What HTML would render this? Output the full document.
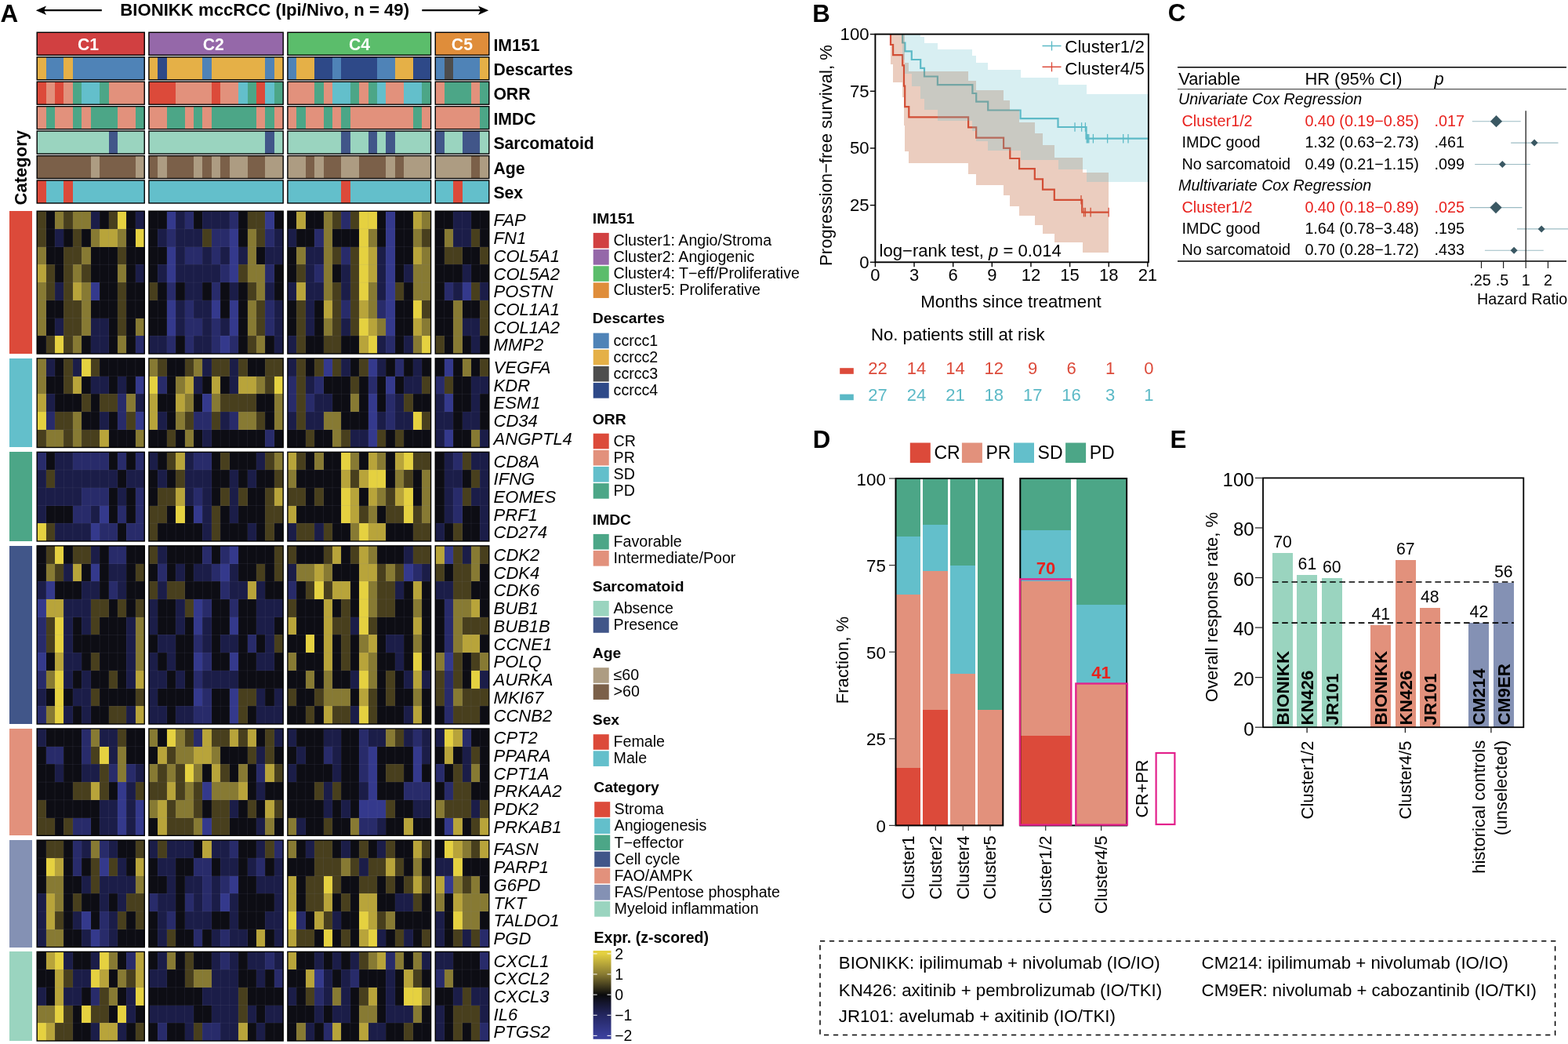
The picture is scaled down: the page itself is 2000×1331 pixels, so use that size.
<!DOCTYPE html>
<html lang="en"><head><meta charset="utf-8"><title>BIONIKK mccRCC figure</title>
<style>
html,body{margin:0;padding:0;background:#fff;}
body{width:2000px;height:1331px;overflow:hidden;}
svg{display:block;font-family:"Liberation Sans", Arial, Helvetica, sans-serif;}
svg text{font-kerning:normal;}
</style></head><body>
<svg width="2000" height="1331" viewBox="0 0 2000 1331">
<rect x="0" y="0" width="2000" height="1331" fill="#ffffff"/>
<g id="panelA">
<text x="0.6" y="27.9" font-size="31.4" font-weight="700">A</text>
<text x="153.3" y="20.4" font-size="22.17" font-weight="700">BIONIKK mccRCC (Ipi/Nivo, n = 49)</text>
<line x1="129.8" y1="13.2" x2="51.8" y2="13.2" stroke="#000" stroke-width="2.3"/>
<path d="M45.8 13.2 L59 7.5 L56 13.2 L59 18.9 Z" fill="#000"/>
<line x1="538.3" y1="13.2" x2="617.2" y2="13.2" stroke="#000" stroke-width="2.3"/>
<path d="M623.2 13.2 L610 7.5 L613 13.2 L610 18.9 Z" fill="#000"/>
<g shape-rendering="crispEdges">
<rect x="47.2" y="41.3" width="137.32" height="29" fill="#D14041"/>
<rect x="189.92" y="41.3" width="171.57" height="29" fill="#9568A9"/>
<rect x="366.89" y="41.3" width="182.99" height="29" fill="#5BBD6B"/>
<rect x="555.27" y="41.3" width="68.81" height="29" fill="#DF8D3A"/>
<rect x="47.2" y="72.75" width="11.72" height="29" fill="#E5B047"/>
<rect x="58.62" y="72.75" width="23.14" height="29" fill="#4F83B7"/>
<rect x="81.45" y="72.75" width="11.72" height="29" fill="#E5B047"/>
<rect x="92.87" y="72.75" width="91.64" height="29" fill="#4F83B7"/>
<rect x="189.92" y="72.75" width="11.72" height="29" fill="#E5B047"/>
<rect x="201.33" y="72.75" width="11.72" height="29" fill="#2E4988"/>
<rect x="212.75" y="72.75" width="45.97" height="29" fill="#E5B047"/>
<rect x="258.42" y="72.75" width="11.72" height="29" fill="#4F83B7"/>
<rect x="269.84" y="72.75" width="68.81" height="29" fill="#E5B047"/>
<rect x="338.35" y="72.75" width="11.72" height="29" fill="#4F83B7"/>
<rect x="349.77" y="72.75" width="11.72" height="29" fill="#E5B047"/>
<rect x="366.89" y="72.75" width="11.72" height="29" fill="#4F83B7"/>
<rect x="378.3" y="72.75" width="23.14" height="29" fill="#E5B047"/>
<rect x="401.14" y="72.75" width="23.14" height="29" fill="#2E4988"/>
<rect x="423.98" y="72.75" width="11.72" height="29" fill="#4F83B7"/>
<rect x="435.39" y="72.75" width="45.97" height="29" fill="#2E4988"/>
<rect x="481.07" y="72.75" width="23.14" height="29" fill="#4F83B7"/>
<rect x="503.9" y="72.75" width="23.14" height="29" fill="#E5B047"/>
<rect x="526.74" y="72.75" width="23.14" height="29" fill="#2E4988"/>
<rect x="555.27" y="72.75" width="11.72" height="29" fill="#4F83B7"/>
<rect x="566.69" y="72.75" width="11.72" height="29" fill="#4D4D4D"/>
<rect x="578.11" y="72.75" width="34.55" height="29" fill="#4F83B7"/>
<rect x="612.36" y="72.75" width="11.72" height="29" fill="#E5B047"/>
<rect x="47.2" y="104.2" width="11.72" height="29" fill="#DC4A3A"/>
<rect x="58.62" y="104.2" width="11.72" height="29" fill="#E2917C"/>
<rect x="70.04" y="104.2" width="11.72" height="29" fill="#DC4A3A"/>
<rect x="81.45" y="104.2" width="11.72" height="29" fill="#E2917C"/>
<rect x="92.87" y="104.2" width="11.72" height="29" fill="#4CA687"/>
<rect x="104.29" y="104.2" width="23.14" height="29" fill="#63BFCB"/>
<rect x="127.13" y="104.2" width="11.72" height="29" fill="#4CA687"/>
<rect x="138.54" y="104.2" width="45.97" height="29" fill="#E2917C"/>
<rect x="189.92" y="104.2" width="34.55" height="29" fill="#DC4A3A"/>
<rect x="224.17" y="104.2" width="45.97" height="29" fill="#E2917C"/>
<rect x="269.84" y="104.2" width="11.72" height="29" fill="#DC4A3A"/>
<rect x="281.26" y="104.2" width="23.14" height="29" fill="#E2917C"/>
<rect x="304.1" y="104.2" width="11.72" height="29" fill="#63BFCB"/>
<rect x="315.51" y="104.2" width="11.72" height="29" fill="#4CA687"/>
<rect x="326.93" y="104.2" width="11.72" height="29" fill="#DC4A3A"/>
<rect x="338.35" y="104.2" width="11.72" height="29" fill="#63BFCB"/>
<rect x="349.77" y="104.2" width="11.72" height="29" fill="#4CA687"/>
<rect x="366.89" y="104.2" width="34.55" height="29" fill="#E2917C"/>
<rect x="401.14" y="104.2" width="11.72" height="29" fill="#4CA687"/>
<rect x="412.56" y="104.2" width="11.72" height="29" fill="#E2917C"/>
<rect x="423.98" y="104.2" width="23.14" height="29" fill="#63BFCB"/>
<rect x="446.81" y="104.2" width="11.72" height="29" fill="#4CA687"/>
<rect x="458.23" y="104.2" width="11.72" height="29" fill="#E2917C"/>
<rect x="469.65" y="104.2" width="11.72" height="29" fill="#4CA687"/>
<rect x="481.07" y="104.2" width="11.72" height="29" fill="#63BFCB"/>
<rect x="492.48" y="104.2" width="23.14" height="29" fill="#E2917C"/>
<rect x="515.32" y="104.2" width="23.14" height="29" fill="#63BFCB"/>
<rect x="538.16" y="104.2" width="11.72" height="29" fill="#4CA687"/>
<rect x="555.27" y="104.2" width="11.72" height="29" fill="#E2917C"/>
<rect x="566.69" y="104.2" width="34.55" height="29" fill="#4CA687"/>
<rect x="600.95" y="104.2" width="11.72" height="29" fill="#E2917C"/>
<rect x="612.36" y="104.2" width="11.72" height="29" fill="#4CA687"/>
<rect x="47.2" y="135.65" width="11.72" height="29" fill="#E2917C"/>
<rect x="58.62" y="135.65" width="11.72" height="29" fill="#4CA687"/>
<rect x="70.04" y="135.65" width="23.14" height="29" fill="#E2917C"/>
<rect x="92.87" y="135.65" width="11.72" height="29" fill="#4CA687"/>
<rect x="104.29" y="135.65" width="11.72" height="29" fill="#E2917C"/>
<rect x="115.71" y="135.65" width="34.55" height="29" fill="#4CA687"/>
<rect x="149.96" y="135.65" width="23.14" height="29" fill="#E2917C"/>
<rect x="172.8" y="135.65" width="11.72" height="29" fill="#4CA687"/>
<rect x="189.92" y="135.65" width="23.14" height="29" fill="#E2917C"/>
<rect x="212.75" y="135.65" width="23.14" height="29" fill="#4CA687"/>
<rect x="235.59" y="135.65" width="11.72" height="29" fill="#E2917C"/>
<rect x="247.01" y="135.65" width="11.72" height="29" fill="#4CA687"/>
<rect x="258.42" y="135.65" width="11.72" height="29" fill="#E2917C"/>
<rect x="269.84" y="135.65" width="57.39" height="29" fill="#4CA687"/>
<rect x="326.93" y="135.65" width="11.72" height="29" fill="#E2917C"/>
<rect x="338.35" y="135.65" width="11.72" height="29" fill="#4CA687"/>
<rect x="349.77" y="135.65" width="11.72" height="29" fill="#E2917C"/>
<rect x="366.89" y="135.65" width="11.72" height="29" fill="#E2917C"/>
<rect x="378.3" y="135.65" width="11.72" height="29" fill="#4CA687"/>
<rect x="389.72" y="135.65" width="23.14" height="29" fill="#E2917C"/>
<rect x="412.56" y="135.65" width="11.72" height="29" fill="#4CA687"/>
<rect x="423.98" y="135.65" width="11.72" height="29" fill="#E2917C"/>
<rect x="435.39" y="135.65" width="11.72" height="29" fill="#4CA687"/>
<rect x="446.81" y="135.65" width="80.23" height="29" fill="#E2917C"/>
<rect x="526.74" y="135.65" width="11.72" height="29" fill="#4CA687"/>
<rect x="538.16" y="135.65" width="11.72" height="29" fill="#E2917C"/>
<rect x="555.27" y="135.65" width="57.39" height="29" fill="#E2917C"/>
<rect x="612.36" y="135.65" width="11.72" height="29" fill="#4CA687"/>
<rect x="47.2" y="167.1" width="91.64" height="29" fill="#9AD4BF"/>
<rect x="138.54" y="167.1" width="11.72" height="29" fill="#415689"/>
<rect x="149.96" y="167.1" width="34.55" height="29" fill="#9AD4BF"/>
<rect x="189.92" y="167.1" width="148.73" height="29" fill="#9AD4BF"/>
<rect x="338.35" y="167.1" width="11.72" height="29" fill="#415689"/>
<rect x="349.77" y="167.1" width="11.72" height="29" fill="#9AD4BF"/>
<rect x="366.89" y="167.1" width="68.81" height="29" fill="#9AD4BF"/>
<rect x="435.39" y="167.1" width="11.72" height="29" fill="#415689"/>
<rect x="446.81" y="167.1" width="23.14" height="29" fill="#9AD4BF"/>
<rect x="469.65" y="167.1" width="11.72" height="29" fill="#415689"/>
<rect x="481.07" y="167.1" width="11.72" height="29" fill="#9AD4BF"/>
<rect x="492.48" y="167.1" width="11.72" height="29" fill="#415689"/>
<rect x="503.9" y="167.1" width="45.97" height="29" fill="#9AD4BF"/>
<rect x="555.27" y="167.1" width="11.72" height="29" fill="#415689"/>
<rect x="566.69" y="167.1" width="23.14" height="29" fill="#9AD4BF"/>
<rect x="589.53" y="167.1" width="23.14" height="29" fill="#415689"/>
<rect x="612.36" y="167.1" width="11.72" height="29" fill="#9AD4BF"/>
<rect x="47.2" y="198.55" width="68.81" height="29" fill="#7B6049"/>
<rect x="115.71" y="198.55" width="11.72" height="29" fill="#AD9C82"/>
<rect x="127.13" y="198.55" width="45.97" height="29" fill="#7B6049"/>
<rect x="172.8" y="198.55" width="11.72" height="29" fill="#AD9C82"/>
<rect x="189.92" y="198.55" width="11.72" height="29" fill="#7B6049"/>
<rect x="201.33" y="198.55" width="11.72" height="29" fill="#AD9C82"/>
<rect x="212.75" y="198.55" width="34.55" height="29" fill="#7B6049"/>
<rect x="247.01" y="198.55" width="11.72" height="29" fill="#AD9C82"/>
<rect x="258.42" y="198.55" width="11.72" height="29" fill="#7B6049"/>
<rect x="269.84" y="198.55" width="11.72" height="29" fill="#AD9C82"/>
<rect x="281.26" y="198.55" width="11.72" height="29" fill="#7B6049"/>
<rect x="292.68" y="198.55" width="23.14" height="29" fill="#AD9C82"/>
<rect x="315.51" y="198.55" width="23.14" height="29" fill="#7B6049"/>
<rect x="338.35" y="198.55" width="23.14" height="29" fill="#AD9C82"/>
<rect x="366.89" y="198.55" width="23.14" height="29" fill="#AD9C82"/>
<rect x="389.72" y="198.55" width="11.72" height="29" fill="#7B6049"/>
<rect x="401.14" y="198.55" width="11.72" height="29" fill="#AD9C82"/>
<rect x="412.56" y="198.55" width="23.14" height="29" fill="#7B6049"/>
<rect x="435.39" y="198.55" width="23.14" height="29" fill="#AD9C82"/>
<rect x="458.23" y="198.55" width="34.55" height="29" fill="#7B6049"/>
<rect x="492.48" y="198.55" width="11.72" height="29" fill="#AD9C82"/>
<rect x="503.9" y="198.55" width="11.72" height="29" fill="#7B6049"/>
<rect x="515.32" y="198.55" width="34.55" height="29" fill="#AD9C82"/>
<rect x="555.27" y="198.55" width="45.97" height="29" fill="#AD9C82"/>
<rect x="600.95" y="198.55" width="11.72" height="29" fill="#7B6049"/>
<rect x="612.36" y="198.55" width="11.72" height="29" fill="#AD9C82"/>
<rect x="47.2" y="230" width="11.72" height="29" fill="#DC4A3A"/>
<rect x="58.62" y="230" width="23.14" height="29" fill="#63BFCB"/>
<rect x="81.45" y="230" width="11.72" height="29" fill="#DC4A3A"/>
<rect x="92.87" y="230" width="91.64" height="29" fill="#63BFCB"/>
<rect x="189.92" y="230" width="171.57" height="29" fill="#63BFCB"/>
<rect x="366.89" y="230" width="68.81" height="29" fill="#63BFCB"/>
<rect x="435.39" y="230" width="11.72" height="29" fill="#DC4A3A"/>
<rect x="446.81" y="230" width="103.06" height="29" fill="#63BFCB"/>
<rect x="555.27" y="230" width="23.14" height="29" fill="#63BFCB"/>
<rect x="578.11" y="230" width="11.72" height="29" fill="#DC4A3A"/>
<rect x="589.53" y="230" width="34.55" height="29" fill="#63BFCB"/>
</g>
<rect x="47.2" y="41.3" width="137.02" height="29" fill="none" stroke="#000" stroke-width="1.4"/>
<rect x="189.92" y="41.3" width="171.27" height="29" fill="none" stroke="#000" stroke-width="1.4"/>
<rect x="366.89" y="41.3" width="182.69" height="29" fill="none" stroke="#000" stroke-width="1.4"/>
<rect x="555.27" y="41.3" width="68.51" height="29" fill="none" stroke="#000" stroke-width="1.4"/>
<text x="629.4" y="64.5" font-size="21.2" font-weight="700">IM151</text>
<rect x="47.2" y="72.75" width="137.02" height="29" fill="none" stroke="#000" stroke-width="1.4"/>
<rect x="189.92" y="72.75" width="171.27" height="29" fill="none" stroke="#000" stroke-width="1.4"/>
<rect x="366.89" y="72.75" width="182.69" height="29" fill="none" stroke="#000" stroke-width="1.4"/>
<rect x="555.27" y="72.75" width="68.51" height="29" fill="none" stroke="#000" stroke-width="1.4"/>
<text x="629.4" y="95.95" font-size="21.2" font-weight="700">Descartes</text>
<rect x="47.2" y="104.2" width="137.02" height="29" fill="none" stroke="#000" stroke-width="1.4"/>
<rect x="189.92" y="104.2" width="171.27" height="29" fill="none" stroke="#000" stroke-width="1.4"/>
<rect x="366.89" y="104.2" width="182.69" height="29" fill="none" stroke="#000" stroke-width="1.4"/>
<rect x="555.27" y="104.2" width="68.51" height="29" fill="none" stroke="#000" stroke-width="1.4"/>
<text x="629.4" y="127.4" font-size="21.2" font-weight="700">ORR</text>
<rect x="47.2" y="135.65" width="137.02" height="29" fill="none" stroke="#000" stroke-width="1.4"/>
<rect x="189.92" y="135.65" width="171.27" height="29" fill="none" stroke="#000" stroke-width="1.4"/>
<rect x="366.89" y="135.65" width="182.69" height="29" fill="none" stroke="#000" stroke-width="1.4"/>
<rect x="555.27" y="135.65" width="68.51" height="29" fill="none" stroke="#000" stroke-width="1.4"/>
<text x="629.4" y="158.85" font-size="21.2" font-weight="700">IMDC</text>
<rect x="47.2" y="167.1" width="137.02" height="29" fill="none" stroke="#000" stroke-width="1.4"/>
<rect x="189.92" y="167.1" width="171.27" height="29" fill="none" stroke="#000" stroke-width="1.4"/>
<rect x="366.89" y="167.1" width="182.69" height="29" fill="none" stroke="#000" stroke-width="1.4"/>
<rect x="555.27" y="167.1" width="68.51" height="29" fill="none" stroke="#000" stroke-width="1.4"/>
<text x="629.4" y="190.3" font-size="21.2" font-weight="700">Sarcomatoid</text>
<rect x="47.2" y="198.55" width="137.02" height="29" fill="none" stroke="#000" stroke-width="1.4"/>
<rect x="189.92" y="198.55" width="171.27" height="29" fill="none" stroke="#000" stroke-width="1.4"/>
<rect x="366.89" y="198.55" width="182.69" height="29" fill="none" stroke="#000" stroke-width="1.4"/>
<rect x="555.27" y="198.55" width="68.51" height="29" fill="none" stroke="#000" stroke-width="1.4"/>
<text x="629.4" y="221.75" font-size="21.2" font-weight="700">Age</text>
<rect x="47.2" y="230" width="137.02" height="29" fill="none" stroke="#000" stroke-width="1.4"/>
<rect x="189.92" y="230" width="171.27" height="29" fill="none" stroke="#000" stroke-width="1.4"/>
<rect x="366.89" y="230" width="182.69" height="29" fill="none" stroke="#000" stroke-width="1.4"/>
<rect x="555.27" y="230" width="68.51" height="29" fill="none" stroke="#000" stroke-width="1.4"/>
<text x="629.4" y="253.2" font-size="21.2" font-weight="700">Sex</text>
<text x="112.5" y="63.8" font-size="21.2" font-weight="700" text-anchor="middle" fill="#fff">C1</text>
<text x="272.2" y="63.8" font-size="21.2" font-weight="700" text-anchor="middle" fill="#fff">C2</text>
<text x="458.5" y="63.8" font-size="21.2" font-weight="700" text-anchor="middle" fill="#fff">C4</text>
<text x="589.4" y="63.8" font-size="21.2" font-weight="700" text-anchor="middle" fill="#fff">C5</text>
<text x="34.3" y="261.4" font-size="22" font-weight="700" transform="rotate(-90 34.3 261.4)">Category</text>
<g shape-rendering="crispEdges">
<rect x="12.1" y="269.2" width="29.2" height="181.76" fill="#DC4A3A"/>
<rect x="47.2" y="269.2" width="11.72" height="23.02" fill="#483F1D"/>
<rect x="58.62" y="269.2" width="11.72" height="23.02" fill="#0D0D14"/>
<rect x="70.04" y="269.2" width="11.72" height="23.02" fill="#877A33"/>
<rect x="81.45" y="269.2" width="11.72" height="23.02" fill="#483F1D"/>
<rect x="92.87" y="269.2" width="23.14" height="23.02" fill="#877A33"/>
<rect x="115.71" y="269.2" width="11.72" height="23.02" fill="#1B1D48"/>
<rect x="127.13" y="269.2" width="11.72" height="23.02" fill="#0D0D14"/>
<rect x="138.54" y="269.2" width="11.72" height="23.02" fill="#483F1D"/>
<rect x="149.96" y="269.2" width="11.72" height="23.02" fill="#E5D140"/>
<rect x="161.38" y="269.2" width="11.72" height="23.02" fill="#0D0D14"/>
<rect x="172.8" y="269.2" width="11.72" height="23.02" fill="#1B1D48"/>
<rect x="189.92" y="269.2" width="23.14" height="23.02" fill="#0D0D14"/>
<rect x="212.75" y="269.2" width="11.72" height="23.02" fill="#34398C"/>
<rect x="224.17" y="269.2" width="11.72" height="23.02" fill="#1B1D48"/>
<rect x="235.59" y="269.2" width="11.72" height="23.02" fill="#282B6A"/>
<rect x="247.01" y="269.2" width="11.72" height="23.02" fill="#0D0D14"/>
<rect x="258.42" y="269.2" width="34.55" height="23.02" fill="#1B1D48"/>
<rect x="292.68" y="269.2" width="11.72" height="23.02" fill="#282B6A"/>
<rect x="304.1" y="269.2" width="11.72" height="23.02" fill="#0D0D14"/>
<rect x="315.51" y="269.2" width="23.14" height="23.02" fill="#483F1D"/>
<rect x="338.35" y="269.2" width="11.72" height="23.02" fill="#34398C"/>
<rect x="349.77" y="269.2" width="11.72" height="23.02" fill="#0D0D14"/>
<rect x="366.89" y="269.2" width="11.72" height="23.02" fill="#0D0D14"/>
<rect x="378.3" y="269.2" width="11.72" height="23.02" fill="#B8A43A"/>
<rect x="389.72" y="269.2" width="23.14" height="23.02" fill="#0D0D14"/>
<rect x="412.56" y="269.2" width="11.72" height="23.02" fill="#877A33"/>
<rect x="423.98" y="269.2" width="11.72" height="23.02" fill="#483F1D"/>
<rect x="435.39" y="269.2" width="11.72" height="23.02" fill="#282B6A"/>
<rect x="446.81" y="269.2" width="11.72" height="23.02" fill="#483F1D"/>
<rect x="458.23" y="269.2" width="23.14" height="23.02" fill="#E5D140"/>
<rect x="481.07" y="269.2" width="11.72" height="23.02" fill="#0D0D14"/>
<rect x="492.48" y="269.2" width="11.72" height="23.02" fill="#34398C"/>
<rect x="503.9" y="269.2" width="23.14" height="23.02" fill="#0D0D14"/>
<rect x="526.74" y="269.2" width="11.72" height="23.02" fill="#B8A43A"/>
<rect x="538.16" y="269.2" width="11.72" height="23.02" fill="#877A33"/>
<rect x="555.27" y="269.2" width="23.14" height="23.02" fill="#0D0D14"/>
<rect x="578.11" y="269.2" width="23.14" height="23.02" fill="#1B1D48"/>
<rect x="600.95" y="269.2" width="23.14" height="23.02" fill="#0D0D14"/>
<rect x="47.2" y="291.92" width="11.72" height="23.02" fill="#483F1D"/>
<rect x="58.62" y="291.92" width="11.72" height="23.02" fill="#0D0D14"/>
<rect x="70.04" y="291.92" width="11.72" height="23.02" fill="#1B1D48"/>
<rect x="81.45" y="291.92" width="11.72" height="23.02" fill="#0D0D14"/>
<rect x="92.87" y="291.92" width="11.72" height="23.02" fill="#483F1D"/>
<rect x="104.29" y="291.92" width="11.72" height="23.02" fill="#0D0D14"/>
<rect x="115.71" y="291.92" width="11.72" height="23.02" fill="#877A33"/>
<rect x="127.13" y="291.92" width="23.14" height="23.02" fill="#B8A43A"/>
<rect x="149.96" y="291.92" width="11.72" height="23.02" fill="#877A33"/>
<rect x="161.38" y="291.92" width="11.72" height="23.02" fill="#0D0D14"/>
<rect x="172.8" y="291.92" width="11.72" height="23.02" fill="#E5D140"/>
<rect x="189.92" y="291.92" width="11.72" height="23.02" fill="#0D0D14"/>
<rect x="201.33" y="291.92" width="11.72" height="23.02" fill="#1B1D48"/>
<rect x="212.75" y="291.92" width="11.72" height="23.02" fill="#282B6A"/>
<rect x="224.17" y="291.92" width="34.55" height="23.02" fill="#1B1D48"/>
<rect x="258.42" y="291.92" width="11.72" height="23.02" fill="#483F1D"/>
<rect x="269.84" y="291.92" width="23.14" height="23.02" fill="#282B6A"/>
<rect x="292.68" y="291.92" width="11.72" height="23.02" fill="#34398C"/>
<rect x="304.1" y="291.92" width="11.72" height="23.02" fill="#0D0D14"/>
<rect x="315.51" y="291.92" width="11.72" height="23.02" fill="#877A33"/>
<rect x="326.93" y="291.92" width="11.72" height="23.02" fill="#483F1D"/>
<rect x="338.35" y="291.92" width="11.72" height="23.02" fill="#282B6A"/>
<rect x="349.77" y="291.92" width="11.72" height="23.02" fill="#1B1D48"/>
<rect x="366.89" y="291.92" width="11.72" height="23.02" fill="#1B1D48"/>
<rect x="378.3" y="291.92" width="23.14" height="23.02" fill="#0D0D14"/>
<rect x="401.14" y="291.92" width="11.72" height="23.02" fill="#282B6A"/>
<rect x="412.56" y="291.92" width="11.72" height="23.02" fill="#877A33"/>
<rect x="423.98" y="291.92" width="34.55" height="23.02" fill="#0D0D14"/>
<rect x="458.23" y="291.92" width="11.72" height="23.02" fill="#E5D140"/>
<rect x="469.65" y="291.92" width="11.72" height="23.02" fill="#877A33"/>
<rect x="481.07" y="291.92" width="11.72" height="23.02" fill="#0D0D14"/>
<rect x="492.48" y="291.92" width="11.72" height="23.02" fill="#34398C"/>
<rect x="503.9" y="291.92" width="23.14" height="23.02" fill="#0D0D14"/>
<rect x="526.74" y="291.92" width="11.72" height="23.02" fill="#877A33"/>
<rect x="538.16" y="291.92" width="11.72" height="23.02" fill="#483F1D"/>
<rect x="555.27" y="291.92" width="11.72" height="23.02" fill="#0D0D14"/>
<rect x="566.69" y="291.92" width="11.72" height="23.02" fill="#877A33"/>
<rect x="578.11" y="291.92" width="23.14" height="23.02" fill="#1B1D48"/>
<rect x="600.95" y="291.92" width="11.72" height="23.02" fill="#483F1D"/>
<rect x="612.36" y="291.92" width="11.72" height="23.02" fill="#0D0D14"/>
<rect x="47.2" y="314.64" width="11.72" height="23.02" fill="#877A33"/>
<rect x="58.62" y="314.64" width="23.14" height="23.02" fill="#0D0D14"/>
<rect x="81.45" y="314.64" width="23.14" height="23.02" fill="#483F1D"/>
<rect x="104.29" y="314.64" width="11.72" height="23.02" fill="#877A33"/>
<rect x="115.71" y="314.64" width="34.55" height="23.02" fill="#0D0D14"/>
<rect x="149.96" y="314.64" width="11.72" height="23.02" fill="#483F1D"/>
<rect x="161.38" y="314.64" width="23.14" height="23.02" fill="#0D0D14"/>
<rect x="189.92" y="314.64" width="23.14" height="23.02" fill="#0D0D14"/>
<rect x="212.75" y="314.64" width="11.72" height="23.02" fill="#34398C"/>
<rect x="224.17" y="314.64" width="11.72" height="23.02" fill="#1B1D48"/>
<rect x="235.59" y="314.64" width="23.14" height="23.02" fill="#282B6A"/>
<rect x="258.42" y="314.64" width="11.72" height="23.02" fill="#1B1D48"/>
<rect x="269.84" y="314.64" width="11.72" height="23.02" fill="#282B6A"/>
<rect x="281.26" y="314.64" width="11.72" height="23.02" fill="#1B1D48"/>
<rect x="292.68" y="314.64" width="11.72" height="23.02" fill="#34398C"/>
<rect x="304.1" y="314.64" width="11.72" height="23.02" fill="#1B1D48"/>
<rect x="315.51" y="314.64" width="11.72" height="23.02" fill="#877A33"/>
<rect x="326.93" y="314.64" width="11.72" height="23.02" fill="#0D0D14"/>
<rect x="338.35" y="314.64" width="23.14" height="23.02" fill="#1B1D48"/>
<rect x="366.89" y="314.64" width="11.72" height="23.02" fill="#0D0D14"/>
<rect x="378.3" y="314.64" width="11.72" height="23.02" fill="#877A33"/>
<rect x="389.72" y="314.64" width="23.14" height="23.02" fill="#1B1D48"/>
<rect x="412.56" y="314.64" width="11.72" height="23.02" fill="#877A33"/>
<rect x="423.98" y="314.64" width="11.72" height="23.02" fill="#483F1D"/>
<rect x="435.39" y="314.64" width="11.72" height="23.02" fill="#282B6A"/>
<rect x="446.81" y="314.64" width="11.72" height="23.02" fill="#483F1D"/>
<rect x="458.23" y="314.64" width="11.72" height="23.02" fill="#E5D140"/>
<rect x="469.65" y="314.64" width="11.72" height="23.02" fill="#B8A43A"/>
<rect x="481.07" y="314.64" width="11.72" height="23.02" fill="#1B1D48"/>
<rect x="492.48" y="314.64" width="11.72" height="23.02" fill="#34398C"/>
<rect x="503.9" y="314.64" width="23.14" height="23.02" fill="#0D0D14"/>
<rect x="526.74" y="314.64" width="11.72" height="23.02" fill="#B8A43A"/>
<rect x="538.16" y="314.64" width="11.72" height="23.02" fill="#877A33"/>
<rect x="555.27" y="314.64" width="11.72" height="23.02" fill="#0D0D14"/>
<rect x="566.69" y="314.64" width="23.14" height="23.02" fill="#483F1D"/>
<rect x="589.53" y="314.64" width="23.14" height="23.02" fill="#0D0D14"/>
<rect x="612.36" y="314.64" width="11.72" height="23.02" fill="#483F1D"/>
<rect x="47.2" y="337.36" width="11.72" height="23.02" fill="#B8A43A"/>
<rect x="58.62" y="337.36" width="11.72" height="23.02" fill="#483F1D"/>
<rect x="70.04" y="337.36" width="11.72" height="23.02" fill="#0D0D14"/>
<rect x="81.45" y="337.36" width="11.72" height="23.02" fill="#483F1D"/>
<rect x="92.87" y="337.36" width="11.72" height="23.02" fill="#877A33"/>
<rect x="104.29" y="337.36" width="11.72" height="23.02" fill="#483F1D"/>
<rect x="115.71" y="337.36" width="34.55" height="23.02" fill="#0D0D14"/>
<rect x="149.96" y="337.36" width="11.72" height="23.02" fill="#877A33"/>
<rect x="161.38" y="337.36" width="11.72" height="23.02" fill="#0D0D14"/>
<rect x="172.8" y="337.36" width="11.72" height="23.02" fill="#1B1D48"/>
<rect x="189.92" y="337.36" width="11.72" height="23.02" fill="#0D0D14"/>
<rect x="201.33" y="337.36" width="11.72" height="23.02" fill="#1B1D48"/>
<rect x="212.75" y="337.36" width="11.72" height="23.02" fill="#34398C"/>
<rect x="224.17" y="337.36" width="57.39" height="23.02" fill="#1B1D48"/>
<rect x="281.26" y="337.36" width="11.72" height="23.02" fill="#282B6A"/>
<rect x="292.68" y="337.36" width="11.72" height="23.02" fill="#34398C"/>
<rect x="304.1" y="337.36" width="11.72" height="23.02" fill="#483F1D"/>
<rect x="315.51" y="337.36" width="23.14" height="23.02" fill="#877A33"/>
<rect x="338.35" y="337.36" width="11.72" height="23.02" fill="#282B6A"/>
<rect x="349.77" y="337.36" width="11.72" height="23.02" fill="#0D0D14"/>
<rect x="366.89" y="337.36" width="11.72" height="23.02" fill="#0D0D14"/>
<rect x="378.3" y="337.36" width="11.72" height="23.02" fill="#483F1D"/>
<rect x="389.72" y="337.36" width="11.72" height="23.02" fill="#1B1D48"/>
<rect x="401.14" y="337.36" width="11.72" height="23.02" fill="#282B6A"/>
<rect x="412.56" y="337.36" width="11.72" height="23.02" fill="#877A33"/>
<rect x="423.98" y="337.36" width="11.72" height="23.02" fill="#0D0D14"/>
<rect x="435.39" y="337.36" width="11.72" height="23.02" fill="#1B1D48"/>
<rect x="446.81" y="337.36" width="11.72" height="23.02" fill="#483F1D"/>
<rect x="458.23" y="337.36" width="11.72" height="23.02" fill="#E5D140"/>
<rect x="469.65" y="337.36" width="11.72" height="23.02" fill="#B8A43A"/>
<rect x="481.07" y="337.36" width="11.72" height="23.02" fill="#1B1D48"/>
<rect x="492.48" y="337.36" width="11.72" height="23.02" fill="#34398C"/>
<rect x="503.9" y="337.36" width="11.72" height="23.02" fill="#0D0D14"/>
<rect x="515.32" y="337.36" width="11.72" height="23.02" fill="#1B1D48"/>
<rect x="526.74" y="337.36" width="23.14" height="23.02" fill="#877A33"/>
<rect x="555.27" y="337.36" width="34.55" height="23.02" fill="#0D0D14"/>
<rect x="589.53" y="337.36" width="11.72" height="23.02" fill="#1B1D48"/>
<rect x="600.95" y="337.36" width="23.14" height="23.02" fill="#0D0D14"/>
<rect x="47.2" y="360.08" width="11.72" height="23.02" fill="#877A33"/>
<rect x="58.62" y="360.08" width="11.72" height="23.02" fill="#483F1D"/>
<rect x="70.04" y="360.08" width="11.72" height="23.02" fill="#1B1D48"/>
<rect x="81.45" y="360.08" width="11.72" height="23.02" fill="#483F1D"/>
<rect x="92.87" y="360.08" width="11.72" height="23.02" fill="#B8A43A"/>
<rect x="104.29" y="360.08" width="11.72" height="23.02" fill="#877A33"/>
<rect x="115.71" y="360.08" width="11.72" height="23.02" fill="#34398C"/>
<rect x="127.13" y="360.08" width="23.14" height="23.02" fill="#0D0D14"/>
<rect x="149.96" y="360.08" width="11.72" height="23.02" fill="#483F1D"/>
<rect x="161.38" y="360.08" width="23.14" height="23.02" fill="#0D0D14"/>
<rect x="189.92" y="360.08" width="11.72" height="23.02" fill="#483F1D"/>
<rect x="201.33" y="360.08" width="11.72" height="23.02" fill="#0D0D14"/>
<rect x="212.75" y="360.08" width="11.72" height="23.02" fill="#282B6A"/>
<rect x="224.17" y="360.08" width="11.72" height="23.02" fill="#0D0D14"/>
<rect x="235.59" y="360.08" width="23.14" height="23.02" fill="#1B1D48"/>
<rect x="258.42" y="360.08" width="11.72" height="23.02" fill="#0D0D14"/>
<rect x="269.84" y="360.08" width="11.72" height="23.02" fill="#282B6A"/>
<rect x="281.26" y="360.08" width="11.72" height="23.02" fill="#0D0D14"/>
<rect x="292.68" y="360.08" width="11.72" height="23.02" fill="#1B1D48"/>
<rect x="304.1" y="360.08" width="11.72" height="23.02" fill="#0D0D14"/>
<rect x="315.51" y="360.08" width="11.72" height="23.02" fill="#483F1D"/>
<rect x="326.93" y="360.08" width="11.72" height="23.02" fill="#877A33"/>
<rect x="338.35" y="360.08" width="11.72" height="23.02" fill="#1B1D48"/>
<rect x="349.77" y="360.08" width="11.72" height="23.02" fill="#0D0D14"/>
<rect x="366.89" y="360.08" width="11.72" height="23.02" fill="#1B1D48"/>
<rect x="378.3" y="360.08" width="11.72" height="23.02" fill="#B8A43A"/>
<rect x="389.72" y="360.08" width="23.14" height="23.02" fill="#1B1D48"/>
<rect x="412.56" y="360.08" width="11.72" height="23.02" fill="#877A33"/>
<rect x="423.98" y="360.08" width="11.72" height="23.02" fill="#483F1D"/>
<rect x="435.39" y="360.08" width="11.72" height="23.02" fill="#1B1D48"/>
<rect x="446.81" y="360.08" width="11.72" height="23.02" fill="#483F1D"/>
<rect x="458.23" y="360.08" width="11.72" height="23.02" fill="#E5D140"/>
<rect x="469.65" y="360.08" width="11.72" height="23.02" fill="#877A33"/>
<rect x="481.07" y="360.08" width="11.72" height="23.02" fill="#1B1D48"/>
<rect x="492.48" y="360.08" width="11.72" height="23.02" fill="#34398C"/>
<rect x="503.9" y="360.08" width="11.72" height="23.02" fill="#483F1D"/>
<rect x="515.32" y="360.08" width="11.72" height="23.02" fill="#0D0D14"/>
<rect x="526.74" y="360.08" width="23.14" height="23.02" fill="#877A33"/>
<rect x="555.27" y="360.08" width="11.72" height="23.02" fill="#0D0D14"/>
<rect x="566.69" y="360.08" width="11.72" height="23.02" fill="#282B6A"/>
<rect x="578.11" y="360.08" width="11.72" height="23.02" fill="#1B1D48"/>
<rect x="589.53" y="360.08" width="11.72" height="23.02" fill="#34398C"/>
<rect x="600.95" y="360.08" width="11.72" height="23.02" fill="#483F1D"/>
<rect x="612.36" y="360.08" width="11.72" height="23.02" fill="#1B1D48"/>
<rect x="47.2" y="382.8" width="11.72" height="23.02" fill="#877A33"/>
<rect x="58.62" y="382.8" width="23.14" height="23.02" fill="#0D0D14"/>
<rect x="81.45" y="382.8" width="23.14" height="23.02" fill="#483F1D"/>
<rect x="104.29" y="382.8" width="11.72" height="23.02" fill="#877A33"/>
<rect x="115.71" y="382.8" width="34.55" height="23.02" fill="#0D0D14"/>
<rect x="149.96" y="382.8" width="11.72" height="23.02" fill="#483F1D"/>
<rect x="161.38" y="382.8" width="23.14" height="23.02" fill="#0D0D14"/>
<rect x="189.92" y="382.8" width="23.14" height="23.02" fill="#0D0D14"/>
<rect x="212.75" y="382.8" width="11.72" height="23.02" fill="#34398C"/>
<rect x="224.17" y="382.8" width="11.72" height="23.02" fill="#1B1D48"/>
<rect x="235.59" y="382.8" width="11.72" height="23.02" fill="#282B6A"/>
<rect x="247.01" y="382.8" width="23.14" height="23.02" fill="#1B1D48"/>
<rect x="269.84" y="382.8" width="11.72" height="23.02" fill="#34398C"/>
<rect x="281.26" y="382.8" width="11.72" height="23.02" fill="#0D0D14"/>
<rect x="292.68" y="382.8" width="11.72" height="23.02" fill="#34398C"/>
<rect x="304.1" y="382.8" width="11.72" height="23.02" fill="#0D0D14"/>
<rect x="315.51" y="382.8" width="11.72" height="23.02" fill="#877A33"/>
<rect x="326.93" y="382.8" width="11.72" height="23.02" fill="#483F1D"/>
<rect x="338.35" y="382.8" width="11.72" height="23.02" fill="#282B6A"/>
<rect x="349.77" y="382.8" width="11.72" height="23.02" fill="#1B1D48"/>
<rect x="366.89" y="382.8" width="11.72" height="23.02" fill="#0D0D14"/>
<rect x="378.3" y="382.8" width="11.72" height="23.02" fill="#483F1D"/>
<rect x="389.72" y="382.8" width="11.72" height="23.02" fill="#1B1D48"/>
<rect x="401.14" y="382.8" width="11.72" height="23.02" fill="#0D0D14"/>
<rect x="412.56" y="382.8" width="11.72" height="23.02" fill="#B8A43A"/>
<rect x="423.98" y="382.8" width="11.72" height="23.02" fill="#483F1D"/>
<rect x="435.39" y="382.8" width="11.72" height="23.02" fill="#282B6A"/>
<rect x="446.81" y="382.8" width="11.72" height="23.02" fill="#483F1D"/>
<rect x="458.23" y="382.8" width="11.72" height="23.02" fill="#B8A43A"/>
<rect x="469.65" y="382.8" width="11.72" height="23.02" fill="#877A33"/>
<rect x="481.07" y="382.8" width="11.72" height="23.02" fill="#282B6A"/>
<rect x="492.48" y="382.8" width="11.72" height="23.02" fill="#34398C"/>
<rect x="503.9" y="382.8" width="23.14" height="23.02" fill="#0D0D14"/>
<rect x="526.74" y="382.8" width="11.72" height="23.02" fill="#E5D140"/>
<rect x="538.16" y="382.8" width="11.72" height="23.02" fill="#483F1D"/>
<rect x="555.27" y="382.8" width="23.14" height="23.02" fill="#0D0D14"/>
<rect x="578.11" y="382.8" width="11.72" height="23.02" fill="#877A33"/>
<rect x="589.53" y="382.8" width="23.14" height="23.02" fill="#0D0D14"/>
<rect x="612.36" y="382.8" width="11.72" height="23.02" fill="#483F1D"/>
<rect x="47.2" y="405.52" width="11.72" height="23.02" fill="#877A33"/>
<rect x="58.62" y="405.52" width="11.72" height="23.02" fill="#0D0D14"/>
<rect x="70.04" y="405.52" width="11.72" height="23.02" fill="#1B1D48"/>
<rect x="81.45" y="405.52" width="23.14" height="23.02" fill="#483F1D"/>
<rect x="104.29" y="405.52" width="11.72" height="23.02" fill="#877A33"/>
<rect x="115.71" y="405.52" width="23.14" height="23.02" fill="#1B1D48"/>
<rect x="138.54" y="405.52" width="11.72" height="23.02" fill="#0D0D14"/>
<rect x="149.96" y="405.52" width="11.72" height="23.02" fill="#483F1D"/>
<rect x="161.38" y="405.52" width="11.72" height="23.02" fill="#0D0D14"/>
<rect x="172.8" y="405.52" width="11.72" height="23.02" fill="#877A33"/>
<rect x="189.92" y="405.52" width="23.14" height="23.02" fill="#0D0D14"/>
<rect x="212.75" y="405.52" width="11.72" height="23.02" fill="#34398C"/>
<rect x="224.17" y="405.52" width="11.72" height="23.02" fill="#1B1D48"/>
<rect x="235.59" y="405.52" width="23.14" height="23.02" fill="#282B6A"/>
<rect x="258.42" y="405.52" width="11.72" height="23.02" fill="#1B1D48"/>
<rect x="269.84" y="405.52" width="11.72" height="23.02" fill="#282B6A"/>
<rect x="281.26" y="405.52" width="11.72" height="23.02" fill="#1B1D48"/>
<rect x="292.68" y="405.52" width="11.72" height="23.02" fill="#34398C"/>
<rect x="304.1" y="405.52" width="11.72" height="23.02" fill="#0D0D14"/>
<rect x="315.51" y="405.52" width="11.72" height="23.02" fill="#877A33"/>
<rect x="326.93" y="405.52" width="11.72" height="23.02" fill="#483F1D"/>
<rect x="338.35" y="405.52" width="11.72" height="23.02" fill="#282B6A"/>
<rect x="349.77" y="405.52" width="11.72" height="23.02" fill="#1B1D48"/>
<rect x="366.89" y="405.52" width="11.72" height="23.02" fill="#0D0D14"/>
<rect x="378.3" y="405.52" width="11.72" height="23.02" fill="#483F1D"/>
<rect x="389.72" y="405.52" width="11.72" height="23.02" fill="#1B1D48"/>
<rect x="401.14" y="405.52" width="11.72" height="23.02" fill="#0D0D14"/>
<rect x="412.56" y="405.52" width="11.72" height="23.02" fill="#877A33"/>
<rect x="423.98" y="405.52" width="11.72" height="23.02" fill="#483F1D"/>
<rect x="435.39" y="405.52" width="11.72" height="23.02" fill="#1B1D48"/>
<rect x="446.81" y="405.52" width="11.72" height="23.02" fill="#483F1D"/>
<rect x="458.23" y="405.52" width="11.72" height="23.02" fill="#E5D140"/>
<rect x="469.65" y="405.52" width="11.72" height="23.02" fill="#B8A43A"/>
<rect x="481.07" y="405.52" width="11.72" height="23.02" fill="#877A33"/>
<rect x="492.48" y="405.52" width="11.72" height="23.02" fill="#34398C"/>
<rect x="503.9" y="405.52" width="23.14" height="23.02" fill="#0D0D14"/>
<rect x="526.74" y="405.52" width="11.72" height="23.02" fill="#B8A43A"/>
<rect x="538.16" y="405.52" width="11.72" height="23.02" fill="#877A33"/>
<rect x="555.27" y="405.52" width="23.14" height="23.02" fill="#0D0D14"/>
<rect x="578.11" y="405.52" width="11.72" height="23.02" fill="#877A33"/>
<rect x="589.53" y="405.52" width="23.14" height="23.02" fill="#1B1D48"/>
<rect x="612.36" y="405.52" width="11.72" height="23.02" fill="#483F1D"/>
<rect x="47.2" y="428.24" width="11.72" height="23.02" fill="#0D0D14"/>
<rect x="58.62" y="428.24" width="11.72" height="23.02" fill="#483F1D"/>
<rect x="70.04" y="428.24" width="11.72" height="23.02" fill="#E5D140"/>
<rect x="81.45" y="428.24" width="11.72" height="23.02" fill="#483F1D"/>
<rect x="92.87" y="428.24" width="11.72" height="23.02" fill="#877A33"/>
<rect x="104.29" y="428.24" width="11.72" height="23.02" fill="#0D0D14"/>
<rect x="115.71" y="428.24" width="23.14" height="23.02" fill="#1B1D48"/>
<rect x="138.54" y="428.24" width="11.72" height="23.02" fill="#0D0D14"/>
<rect x="149.96" y="428.24" width="11.72" height="23.02" fill="#877A33"/>
<rect x="161.38" y="428.24" width="11.72" height="23.02" fill="#0D0D14"/>
<rect x="172.8" y="428.24" width="11.72" height="23.02" fill="#282B6A"/>
<rect x="189.92" y="428.24" width="23.14" height="23.02" fill="#1B1D48"/>
<rect x="212.75" y="428.24" width="11.72" height="23.02" fill="#282B6A"/>
<rect x="224.17" y="428.24" width="11.72" height="23.02" fill="#0D0D14"/>
<rect x="235.59" y="428.24" width="11.72" height="23.02" fill="#282B6A"/>
<rect x="247.01" y="428.24" width="23.14" height="23.02" fill="#1B1D48"/>
<rect x="269.84" y="428.24" width="11.72" height="23.02" fill="#282B6A"/>
<rect x="281.26" y="428.24" width="11.72" height="23.02" fill="#34398C"/>
<rect x="292.68" y="428.24" width="11.72" height="23.02" fill="#282B6A"/>
<rect x="304.1" y="428.24" width="11.72" height="23.02" fill="#0D0D14"/>
<rect x="315.51" y="428.24" width="11.72" height="23.02" fill="#483F1D"/>
<rect x="326.93" y="428.24" width="11.72" height="23.02" fill="#877A33"/>
<rect x="338.35" y="428.24" width="11.72" height="23.02" fill="#0D0D14"/>
<rect x="349.77" y="428.24" width="11.72" height="23.02" fill="#1B1D48"/>
<rect x="366.89" y="428.24" width="11.72" height="23.02" fill="#1B1D48"/>
<rect x="378.3" y="428.24" width="11.72" height="23.02" fill="#483F1D"/>
<rect x="389.72" y="428.24" width="23.14" height="23.02" fill="#0D0D14"/>
<rect x="412.56" y="428.24" width="23.14" height="23.02" fill="#483F1D"/>
<rect x="435.39" y="428.24" width="23.14" height="23.02" fill="#0D0D14"/>
<rect x="458.23" y="428.24" width="11.72" height="23.02" fill="#B8A43A"/>
<rect x="469.65" y="428.24" width="11.72" height="23.02" fill="#E5D140"/>
<rect x="481.07" y="428.24" width="11.72" height="23.02" fill="#1B1D48"/>
<rect x="492.48" y="428.24" width="11.72" height="23.02" fill="#282B6A"/>
<rect x="503.9" y="428.24" width="11.72" height="23.02" fill="#0D0D14"/>
<rect x="515.32" y="428.24" width="11.72" height="23.02" fill="#1B1D48"/>
<rect x="526.74" y="428.24" width="11.72" height="23.02" fill="#877A33"/>
<rect x="538.16" y="428.24" width="11.72" height="23.02" fill="#E5D140"/>
<rect x="555.27" y="428.24" width="11.72" height="23.02" fill="#483F1D"/>
<rect x="566.69" y="428.24" width="11.72" height="23.02" fill="#0D0D14"/>
<rect x="578.11" y="428.24" width="11.72" height="23.02" fill="#877A33"/>
<rect x="589.53" y="428.24" width="11.72" height="23.02" fill="#0D0D14"/>
<rect x="600.95" y="428.24" width="11.72" height="23.02" fill="#1B1D48"/>
<rect x="612.36" y="428.24" width="11.72" height="23.02" fill="#0D0D14"/>
<rect x="12.1" y="456.86" width="29.2" height="113.6" fill="#63BFCB"/>
<rect x="47.2" y="456.86" width="11.72" height="23.02" fill="#877A33"/>
<rect x="58.62" y="456.86" width="11.72" height="23.02" fill="#1B1D48"/>
<rect x="70.04" y="456.86" width="11.72" height="23.02" fill="#0D0D14"/>
<rect x="81.45" y="456.86" width="11.72" height="23.02" fill="#483F1D"/>
<rect x="92.87" y="456.86" width="11.72" height="23.02" fill="#1B1D48"/>
<rect x="104.29" y="456.86" width="11.72" height="23.02" fill="#E5D140"/>
<rect x="115.71" y="456.86" width="11.72" height="23.02" fill="#483F1D"/>
<rect x="127.13" y="456.86" width="57.39" height="23.02" fill="#0D0D14"/>
<rect x="189.92" y="456.86" width="11.72" height="23.02" fill="#877A33"/>
<rect x="201.33" y="456.86" width="11.72" height="23.02" fill="#483F1D"/>
<rect x="212.75" y="456.86" width="23.14" height="23.02" fill="#0D0D14"/>
<rect x="235.59" y="456.86" width="11.72" height="23.02" fill="#483F1D"/>
<rect x="247.01" y="456.86" width="11.72" height="23.02" fill="#877A33"/>
<rect x="258.42" y="456.86" width="11.72" height="23.02" fill="#1B1D48"/>
<rect x="269.84" y="456.86" width="23.14" height="23.02" fill="#483F1D"/>
<rect x="292.68" y="456.86" width="11.72" height="23.02" fill="#1B1D48"/>
<rect x="304.1" y="456.86" width="11.72" height="23.02" fill="#483F1D"/>
<rect x="315.51" y="456.86" width="23.14" height="23.02" fill="#0D0D14"/>
<rect x="338.35" y="456.86" width="23.14" height="23.02" fill="#483F1D"/>
<rect x="366.89" y="456.86" width="11.72" height="23.02" fill="#1B1D48"/>
<rect x="378.3" y="456.86" width="11.72" height="23.02" fill="#483F1D"/>
<rect x="389.72" y="456.86" width="11.72" height="23.02" fill="#0D0D14"/>
<rect x="401.14" y="456.86" width="11.72" height="23.02" fill="#483F1D"/>
<rect x="412.56" y="456.86" width="11.72" height="23.02" fill="#34398C"/>
<rect x="423.98" y="456.86" width="11.72" height="23.02" fill="#483F1D"/>
<rect x="435.39" y="456.86" width="11.72" height="23.02" fill="#1B1D48"/>
<rect x="446.81" y="456.86" width="11.72" height="23.02" fill="#0D0D14"/>
<rect x="458.23" y="456.86" width="11.72" height="23.02" fill="#483F1D"/>
<rect x="469.65" y="456.86" width="11.72" height="23.02" fill="#34398C"/>
<rect x="481.07" y="456.86" width="11.72" height="23.02" fill="#1B1D48"/>
<rect x="492.48" y="456.86" width="11.72" height="23.02" fill="#0D0D14"/>
<rect x="503.9" y="456.86" width="11.72" height="23.02" fill="#282B6A"/>
<rect x="515.32" y="456.86" width="11.72" height="23.02" fill="#0D0D14"/>
<rect x="526.74" y="456.86" width="11.72" height="23.02" fill="#1B1D48"/>
<rect x="538.16" y="456.86" width="11.72" height="23.02" fill="#0D0D14"/>
<rect x="555.27" y="456.86" width="11.72" height="23.02" fill="#0D0D14"/>
<rect x="566.69" y="456.86" width="11.72" height="23.02" fill="#34398C"/>
<rect x="578.11" y="456.86" width="11.72" height="23.02" fill="#0D0D14"/>
<rect x="589.53" y="456.86" width="11.72" height="23.02" fill="#877A33"/>
<rect x="600.95" y="456.86" width="11.72" height="23.02" fill="#0D0D14"/>
<rect x="612.36" y="456.86" width="11.72" height="23.02" fill="#483F1D"/>
<rect x="47.2" y="479.58" width="11.72" height="23.02" fill="#877A33"/>
<rect x="58.62" y="479.58" width="23.14" height="23.02" fill="#0D0D14"/>
<rect x="81.45" y="479.58" width="11.72" height="23.02" fill="#483F1D"/>
<rect x="92.87" y="479.58" width="11.72" height="23.02" fill="#B8A43A"/>
<rect x="104.29" y="479.58" width="11.72" height="23.02" fill="#0D0D14"/>
<rect x="115.71" y="479.58" width="23.14" height="23.02" fill="#1B1D48"/>
<rect x="138.54" y="479.58" width="11.72" height="23.02" fill="#0D0D14"/>
<rect x="149.96" y="479.58" width="11.72" height="23.02" fill="#1B1D48"/>
<rect x="161.38" y="479.58" width="11.72" height="23.02" fill="#0D0D14"/>
<rect x="172.8" y="479.58" width="11.72" height="23.02" fill="#34398C"/>
<rect x="189.92" y="479.58" width="11.72" height="23.02" fill="#E5D140"/>
<rect x="201.33" y="479.58" width="11.72" height="23.02" fill="#282B6A"/>
<rect x="212.75" y="479.58" width="11.72" height="23.02" fill="#0D0D14"/>
<rect x="224.17" y="479.58" width="11.72" height="23.02" fill="#877A33"/>
<rect x="235.59" y="479.58" width="11.72" height="23.02" fill="#B8A43A"/>
<rect x="247.01" y="479.58" width="11.72" height="23.02" fill="#1B1D48"/>
<rect x="258.42" y="479.58" width="11.72" height="23.02" fill="#0D0D14"/>
<rect x="269.84" y="479.58" width="11.72" height="23.02" fill="#B8A43A"/>
<rect x="281.26" y="479.58" width="11.72" height="23.02" fill="#0D0D14"/>
<rect x="292.68" y="479.58" width="11.72" height="23.02" fill="#1B1D48"/>
<rect x="304.1" y="479.58" width="23.14" height="23.02" fill="#B8A43A"/>
<rect x="326.93" y="479.58" width="11.72" height="23.02" fill="#877A33"/>
<rect x="338.35" y="479.58" width="11.72" height="23.02" fill="#483F1D"/>
<rect x="349.77" y="479.58" width="11.72" height="23.02" fill="#E5D140"/>
<rect x="366.89" y="479.58" width="11.72" height="23.02" fill="#282B6A"/>
<rect x="378.3" y="479.58" width="11.72" height="23.02" fill="#483F1D"/>
<rect x="389.72" y="479.58" width="11.72" height="23.02" fill="#1B1D48"/>
<rect x="401.14" y="479.58" width="11.72" height="23.02" fill="#282B6A"/>
<rect x="412.56" y="479.58" width="34.55" height="23.02" fill="#0D0D14"/>
<rect x="446.81" y="479.58" width="11.72" height="23.02" fill="#483F1D"/>
<rect x="458.23" y="479.58" width="11.72" height="23.02" fill="#0D0D14"/>
<rect x="469.65" y="479.58" width="11.72" height="23.02" fill="#282B6A"/>
<rect x="481.07" y="479.58" width="11.72" height="23.02" fill="#0D0D14"/>
<rect x="492.48" y="479.58" width="11.72" height="23.02" fill="#34398C"/>
<rect x="503.9" y="479.58" width="11.72" height="23.02" fill="#0D0D14"/>
<rect x="515.32" y="479.58" width="23.14" height="23.02" fill="#1B1D48"/>
<rect x="538.16" y="479.58" width="11.72" height="23.02" fill="#483F1D"/>
<rect x="555.27" y="479.58" width="11.72" height="23.02" fill="#282B6A"/>
<rect x="566.69" y="479.58" width="11.72" height="23.02" fill="#483F1D"/>
<rect x="578.11" y="479.58" width="23.14" height="23.02" fill="#0D0D14"/>
<rect x="600.95" y="479.58" width="23.14" height="23.02" fill="#1B1D48"/>
<rect x="47.2" y="502.3" width="11.72" height="23.02" fill="#B8A43A"/>
<rect x="58.62" y="502.3" width="11.72" height="23.02" fill="#1B1D48"/>
<rect x="70.04" y="502.3" width="34.55" height="23.02" fill="#0D0D14"/>
<rect x="104.29" y="502.3" width="11.72" height="23.02" fill="#483F1D"/>
<rect x="115.71" y="502.3" width="11.72" height="23.02" fill="#0D0D14"/>
<rect x="127.13" y="502.3" width="23.14" height="23.02" fill="#483F1D"/>
<rect x="149.96" y="502.3" width="11.72" height="23.02" fill="#282B6A"/>
<rect x="161.38" y="502.3" width="11.72" height="23.02" fill="#877A33"/>
<rect x="172.8" y="502.3" width="11.72" height="23.02" fill="#1B1D48"/>
<rect x="189.92" y="502.3" width="11.72" height="23.02" fill="#B8A43A"/>
<rect x="201.33" y="502.3" width="23.14" height="23.02" fill="#0D0D14"/>
<rect x="224.17" y="502.3" width="11.72" height="23.02" fill="#B8A43A"/>
<rect x="235.59" y="502.3" width="11.72" height="23.02" fill="#877A33"/>
<rect x="247.01" y="502.3" width="11.72" height="23.02" fill="#0D0D14"/>
<rect x="258.42" y="502.3" width="11.72" height="23.02" fill="#34398C"/>
<rect x="269.84" y="502.3" width="11.72" height="23.02" fill="#877A33"/>
<rect x="281.26" y="502.3" width="45.97" height="23.02" fill="#483F1D"/>
<rect x="326.93" y="502.3" width="23.14" height="23.02" fill="#0D0D14"/>
<rect x="349.77" y="502.3" width="11.72" height="23.02" fill="#877A33"/>
<rect x="366.89" y="502.3" width="11.72" height="23.02" fill="#282B6A"/>
<rect x="378.3" y="502.3" width="11.72" height="23.02" fill="#483F1D"/>
<rect x="389.72" y="502.3" width="11.72" height="23.02" fill="#282B6A"/>
<rect x="401.14" y="502.3" width="23.14" height="23.02" fill="#1B1D48"/>
<rect x="423.98" y="502.3" width="23.14" height="23.02" fill="#0D0D14"/>
<rect x="446.81" y="502.3" width="11.72" height="23.02" fill="#877A33"/>
<rect x="458.23" y="502.3" width="11.72" height="23.02" fill="#0D0D14"/>
<rect x="469.65" y="502.3" width="11.72" height="23.02" fill="#34398C"/>
<rect x="481.07" y="502.3" width="11.72" height="23.02" fill="#0D0D14"/>
<rect x="492.48" y="502.3" width="11.72" height="23.02" fill="#282B6A"/>
<rect x="503.9" y="502.3" width="11.72" height="23.02" fill="#1B1D48"/>
<rect x="515.32" y="502.3" width="11.72" height="23.02" fill="#483F1D"/>
<rect x="526.74" y="502.3" width="23.14" height="23.02" fill="#0D0D14"/>
<rect x="555.27" y="502.3" width="11.72" height="23.02" fill="#1B1D48"/>
<rect x="566.69" y="502.3" width="11.72" height="23.02" fill="#34398C"/>
<rect x="578.11" y="502.3" width="23.14" height="23.02" fill="#0D0D14"/>
<rect x="600.95" y="502.3" width="11.72" height="23.02" fill="#1B1D48"/>
<rect x="612.36" y="502.3" width="11.72" height="23.02" fill="#0D0D14"/>
<rect x="47.2" y="525.02" width="11.72" height="23.02" fill="#E5D140"/>
<rect x="58.62" y="525.02" width="11.72" height="23.02" fill="#282B6A"/>
<rect x="70.04" y="525.02" width="23.14" height="23.02" fill="#483F1D"/>
<rect x="92.87" y="525.02" width="11.72" height="23.02" fill="#877A33"/>
<rect x="104.29" y="525.02" width="23.14" height="23.02" fill="#0D0D14"/>
<rect x="127.13" y="525.02" width="11.72" height="23.02" fill="#1B1D48"/>
<rect x="138.54" y="525.02" width="11.72" height="23.02" fill="#0D0D14"/>
<rect x="149.96" y="525.02" width="11.72" height="23.02" fill="#282B6A"/>
<rect x="161.38" y="525.02" width="11.72" height="23.02" fill="#483F1D"/>
<rect x="172.8" y="525.02" width="11.72" height="23.02" fill="#34398C"/>
<rect x="189.92" y="525.02" width="11.72" height="23.02" fill="#B8A43A"/>
<rect x="201.33" y="525.02" width="11.72" height="23.02" fill="#1B1D48"/>
<rect x="212.75" y="525.02" width="11.72" height="23.02" fill="#0D0D14"/>
<rect x="224.17" y="525.02" width="11.72" height="23.02" fill="#877A33"/>
<rect x="235.59" y="525.02" width="11.72" height="23.02" fill="#483F1D"/>
<rect x="247.01" y="525.02" width="23.14" height="23.02" fill="#282B6A"/>
<rect x="269.84" y="525.02" width="11.72" height="23.02" fill="#483F1D"/>
<rect x="281.26" y="525.02" width="11.72" height="23.02" fill="#1B1D48"/>
<rect x="292.68" y="525.02" width="11.72" height="23.02" fill="#282B6A"/>
<rect x="304.1" y="525.02" width="23.14" height="23.02" fill="#877A33"/>
<rect x="326.93" y="525.02" width="11.72" height="23.02" fill="#483F1D"/>
<rect x="338.35" y="525.02" width="11.72" height="23.02" fill="#0D0D14"/>
<rect x="349.77" y="525.02" width="11.72" height="23.02" fill="#877A33"/>
<rect x="366.89" y="525.02" width="11.72" height="23.02" fill="#1B1D48"/>
<rect x="378.3" y="525.02" width="11.72" height="23.02" fill="#483F1D"/>
<rect x="389.72" y="525.02" width="23.14" height="23.02" fill="#1B1D48"/>
<rect x="412.56" y="525.02" width="23.14" height="23.02" fill="#877A33"/>
<rect x="435.39" y="525.02" width="34.55" height="23.02" fill="#0D0D14"/>
<rect x="469.65" y="525.02" width="11.72" height="23.02" fill="#34398C"/>
<rect x="481.07" y="525.02" width="11.72" height="23.02" fill="#1B1D48"/>
<rect x="492.48" y="525.02" width="11.72" height="23.02" fill="#282B6A"/>
<rect x="503.9" y="525.02" width="23.14" height="23.02" fill="#1B1D48"/>
<rect x="526.74" y="525.02" width="11.72" height="23.02" fill="#E5D140"/>
<rect x="538.16" y="525.02" width="11.72" height="23.02" fill="#483F1D"/>
<rect x="555.27" y="525.02" width="23.14" height="23.02" fill="#1B1D48"/>
<rect x="578.11" y="525.02" width="11.72" height="23.02" fill="#0D0D14"/>
<rect x="589.53" y="525.02" width="23.14" height="23.02" fill="#1B1D48"/>
<rect x="612.36" y="525.02" width="11.72" height="23.02" fill="#0D0D14"/>
<rect x="47.2" y="547.74" width="11.72" height="23.02" fill="#483F1D"/>
<rect x="58.62" y="547.74" width="23.14" height="23.02" fill="#877A33"/>
<rect x="81.45" y="547.74" width="11.72" height="23.02" fill="#483F1D"/>
<rect x="92.87" y="547.74" width="11.72" height="23.02" fill="#877A33"/>
<rect x="104.29" y="547.74" width="23.14" height="23.02" fill="#483F1D"/>
<rect x="127.13" y="547.74" width="11.72" height="23.02" fill="#B8A43A"/>
<rect x="138.54" y="547.74" width="34.55" height="23.02" fill="#0D0D14"/>
<rect x="172.8" y="547.74" width="11.72" height="23.02" fill="#877A33"/>
<rect x="189.92" y="547.74" width="23.14" height="23.02" fill="#0D0D14"/>
<rect x="212.75" y="547.74" width="11.72" height="23.02" fill="#483F1D"/>
<rect x="224.17" y="547.74" width="11.72" height="23.02" fill="#0D0D14"/>
<rect x="235.59" y="547.74" width="11.72" height="23.02" fill="#877A33"/>
<rect x="247.01" y="547.74" width="11.72" height="23.02" fill="#0D0D14"/>
<rect x="258.42" y="547.74" width="11.72" height="23.02" fill="#1B1D48"/>
<rect x="269.84" y="547.74" width="68.81" height="23.02" fill="#0D0D14"/>
<rect x="338.35" y="547.74" width="11.72" height="23.02" fill="#282B6A"/>
<rect x="349.77" y="547.74" width="11.72" height="23.02" fill="#0D0D14"/>
<rect x="366.89" y="547.74" width="23.14" height="23.02" fill="#0D0D14"/>
<rect x="389.72" y="547.74" width="11.72" height="23.02" fill="#483F1D"/>
<rect x="401.14" y="547.74" width="23.14" height="23.02" fill="#0D0D14"/>
<rect x="423.98" y="547.74" width="11.72" height="23.02" fill="#877A33"/>
<rect x="435.39" y="547.74" width="11.72" height="23.02" fill="#483F1D"/>
<rect x="446.81" y="547.74" width="23.14" height="23.02" fill="#1B1D48"/>
<rect x="469.65" y="547.74" width="11.72" height="23.02" fill="#34398C"/>
<rect x="481.07" y="547.74" width="11.72" height="23.02" fill="#483F1D"/>
<rect x="492.48" y="547.74" width="11.72" height="23.02" fill="#0D0D14"/>
<rect x="503.9" y="547.74" width="11.72" height="23.02" fill="#483F1D"/>
<rect x="515.32" y="547.74" width="34.55" height="23.02" fill="#0D0D14"/>
<rect x="555.27" y="547.74" width="11.72" height="23.02" fill="#1B1D48"/>
<rect x="566.69" y="547.74" width="11.72" height="23.02" fill="#34398C"/>
<rect x="578.11" y="547.74" width="23.14" height="23.02" fill="#0D0D14"/>
<rect x="600.95" y="547.74" width="11.72" height="23.02" fill="#877A33"/>
<rect x="612.36" y="547.74" width="11.72" height="23.02" fill="#1B1D48"/>
<rect x="12.1" y="576.36" width="29.2" height="113.6" fill="#4CA687"/>
<rect x="47.2" y="576.36" width="11.72" height="23.02" fill="#282B6A"/>
<rect x="58.62" y="576.36" width="11.72" height="23.02" fill="#0D0D14"/>
<rect x="70.04" y="576.36" width="23.14" height="23.02" fill="#1B1D48"/>
<rect x="92.87" y="576.36" width="45.97" height="23.02" fill="#282B6A"/>
<rect x="138.54" y="576.36" width="11.72" height="23.02" fill="#0D0D14"/>
<rect x="149.96" y="576.36" width="11.72" height="23.02" fill="#282B6A"/>
<rect x="161.38" y="576.36" width="11.72" height="23.02" fill="#0D0D14"/>
<rect x="172.8" y="576.36" width="11.72" height="23.02" fill="#282B6A"/>
<rect x="189.92" y="576.36" width="11.72" height="23.02" fill="#1B1D48"/>
<rect x="201.33" y="576.36" width="11.72" height="23.02" fill="#0D0D14"/>
<rect x="212.75" y="576.36" width="11.72" height="23.02" fill="#483F1D"/>
<rect x="224.17" y="576.36" width="11.72" height="23.02" fill="#B8A43A"/>
<rect x="235.59" y="576.36" width="11.72" height="23.02" fill="#1B1D48"/>
<rect x="247.01" y="576.36" width="23.14" height="23.02" fill="#282B6A"/>
<rect x="269.84" y="576.36" width="11.72" height="23.02" fill="#0D0D14"/>
<rect x="281.26" y="576.36" width="11.72" height="23.02" fill="#483F1D"/>
<rect x="292.68" y="576.36" width="34.55" height="23.02" fill="#0D0D14"/>
<rect x="326.93" y="576.36" width="11.72" height="23.02" fill="#1B1D48"/>
<rect x="338.35" y="576.36" width="11.72" height="23.02" fill="#483F1D"/>
<rect x="349.77" y="576.36" width="11.72" height="23.02" fill="#877A33"/>
<rect x="366.89" y="576.36" width="11.72" height="23.02" fill="#B8A43A"/>
<rect x="378.3" y="576.36" width="11.72" height="23.02" fill="#483F1D"/>
<rect x="389.72" y="576.36" width="11.72" height="23.02" fill="#0D0D14"/>
<rect x="401.14" y="576.36" width="11.72" height="23.02" fill="#877A33"/>
<rect x="412.56" y="576.36" width="23.14" height="23.02" fill="#0D0D14"/>
<rect x="435.39" y="576.36" width="11.72" height="23.02" fill="#E5D140"/>
<rect x="446.81" y="576.36" width="11.72" height="23.02" fill="#877A33"/>
<rect x="458.23" y="576.36" width="11.72" height="23.02" fill="#0D0D14"/>
<rect x="469.65" y="576.36" width="11.72" height="23.02" fill="#B8A43A"/>
<rect x="481.07" y="576.36" width="11.72" height="23.02" fill="#877A33"/>
<rect x="492.48" y="576.36" width="11.72" height="23.02" fill="#0D0D14"/>
<rect x="503.9" y="576.36" width="11.72" height="23.02" fill="#B8A43A"/>
<rect x="515.32" y="576.36" width="11.72" height="23.02" fill="#E5D140"/>
<rect x="526.74" y="576.36" width="23.14" height="23.02" fill="#483F1D"/>
<rect x="555.27" y="576.36" width="11.72" height="23.02" fill="#0D0D14"/>
<rect x="566.69" y="576.36" width="11.72" height="23.02" fill="#1B1D48"/>
<rect x="578.11" y="576.36" width="11.72" height="23.02" fill="#282B6A"/>
<rect x="589.53" y="576.36" width="11.72" height="23.02" fill="#483F1D"/>
<rect x="600.95" y="576.36" width="23.14" height="23.02" fill="#1B1D48"/>
<rect x="47.2" y="599.08" width="11.72" height="23.02" fill="#1B1D48"/>
<rect x="58.62" y="599.08" width="11.72" height="23.02" fill="#483F1D"/>
<rect x="70.04" y="599.08" width="80.23" height="23.02" fill="#1B1D48"/>
<rect x="149.96" y="599.08" width="11.72" height="23.02" fill="#0D0D14"/>
<rect x="161.38" y="599.08" width="23.14" height="23.02" fill="#1B1D48"/>
<rect x="189.92" y="599.08" width="11.72" height="23.02" fill="#0D0D14"/>
<rect x="201.33" y="599.08" width="11.72" height="23.02" fill="#1B1D48"/>
<rect x="212.75" y="599.08" width="11.72" height="23.02" fill="#0D0D14"/>
<rect x="224.17" y="599.08" width="11.72" height="23.02" fill="#483F1D"/>
<rect x="235.59" y="599.08" width="34.55" height="23.02" fill="#1B1D48"/>
<rect x="269.84" y="599.08" width="23.14" height="23.02" fill="#0D0D14"/>
<rect x="292.68" y="599.08" width="11.72" height="23.02" fill="#1B1D48"/>
<rect x="304.1" y="599.08" width="11.72" height="23.02" fill="#0D0D14"/>
<rect x="315.51" y="599.08" width="11.72" height="23.02" fill="#1B1D48"/>
<rect x="326.93" y="599.08" width="23.14" height="23.02" fill="#0D0D14"/>
<rect x="349.77" y="599.08" width="11.72" height="23.02" fill="#483F1D"/>
<rect x="366.89" y="599.08" width="11.72" height="23.02" fill="#877A33"/>
<rect x="378.3" y="599.08" width="57.39" height="23.02" fill="#0D0D14"/>
<rect x="435.39" y="599.08" width="11.72" height="23.02" fill="#B8A43A"/>
<rect x="446.81" y="599.08" width="11.72" height="23.02" fill="#483F1D"/>
<rect x="458.23" y="599.08" width="11.72" height="23.02" fill="#B8A43A"/>
<rect x="469.65" y="599.08" width="23.14" height="23.02" fill="#E5D140"/>
<rect x="492.48" y="599.08" width="11.72" height="23.02" fill="#0D0D14"/>
<rect x="503.9" y="599.08" width="11.72" height="23.02" fill="#877A33"/>
<rect x="515.32" y="599.08" width="11.72" height="23.02" fill="#483F1D"/>
<rect x="526.74" y="599.08" width="11.72" height="23.02" fill="#0D0D14"/>
<rect x="538.16" y="599.08" width="11.72" height="23.02" fill="#877A33"/>
<rect x="555.27" y="599.08" width="11.72" height="23.02" fill="#0D0D14"/>
<rect x="566.69" y="599.08" width="23.14" height="23.02" fill="#1B1D48"/>
<rect x="589.53" y="599.08" width="11.72" height="23.02" fill="#0D0D14"/>
<rect x="600.95" y="599.08" width="11.72" height="23.02" fill="#483F1D"/>
<rect x="612.36" y="599.08" width="11.72" height="23.02" fill="#1B1D48"/>
<rect x="47.2" y="621.8" width="57.39" height="23.02" fill="#1B1D48"/>
<rect x="104.29" y="621.8" width="34.55" height="23.02" fill="#282B6A"/>
<rect x="138.54" y="621.8" width="11.72" height="23.02" fill="#0D0D14"/>
<rect x="149.96" y="621.8" width="11.72" height="23.02" fill="#1B1D48"/>
<rect x="161.38" y="621.8" width="11.72" height="23.02" fill="#0D0D14"/>
<rect x="172.8" y="621.8" width="11.72" height="23.02" fill="#282B6A"/>
<rect x="189.92" y="621.8" width="11.72" height="23.02" fill="#0D0D14"/>
<rect x="201.33" y="621.8" width="23.14" height="23.02" fill="#483F1D"/>
<rect x="224.17" y="621.8" width="11.72" height="23.02" fill="#B8A43A"/>
<rect x="235.59" y="621.8" width="11.72" height="23.02" fill="#1B1D48"/>
<rect x="247.01" y="621.8" width="11.72" height="23.02" fill="#282B6A"/>
<rect x="258.42" y="621.8" width="11.72" height="23.02" fill="#1B1D48"/>
<rect x="269.84" y="621.8" width="11.72" height="23.02" fill="#0D0D14"/>
<rect x="281.26" y="621.8" width="11.72" height="23.02" fill="#483F1D"/>
<rect x="292.68" y="621.8" width="11.72" height="23.02" fill="#1B1D48"/>
<rect x="304.1" y="621.8" width="11.72" height="23.02" fill="#483F1D"/>
<rect x="315.51" y="621.8" width="23.14" height="23.02" fill="#0D0D14"/>
<rect x="338.35" y="621.8" width="11.72" height="23.02" fill="#483F1D"/>
<rect x="349.77" y="621.8" width="11.72" height="23.02" fill="#B8A43A"/>
<rect x="366.89" y="621.8" width="23.14" height="23.02" fill="#483F1D"/>
<rect x="389.72" y="621.8" width="11.72" height="23.02" fill="#0D0D14"/>
<rect x="401.14" y="621.8" width="11.72" height="23.02" fill="#483F1D"/>
<rect x="412.56" y="621.8" width="23.14" height="23.02" fill="#0D0D14"/>
<rect x="435.39" y="621.8" width="11.72" height="23.02" fill="#E5D140"/>
<rect x="446.81" y="621.8" width="11.72" height="23.02" fill="#B8A43A"/>
<rect x="458.23" y="621.8" width="11.72" height="23.02" fill="#0D0D14"/>
<rect x="469.65" y="621.8" width="11.72" height="23.02" fill="#B8A43A"/>
<rect x="481.07" y="621.8" width="11.72" height="23.02" fill="#877A33"/>
<rect x="492.48" y="621.8" width="11.72" height="23.02" fill="#483F1D"/>
<rect x="503.9" y="621.8" width="11.72" height="23.02" fill="#B8A43A"/>
<rect x="515.32" y="621.8" width="11.72" height="23.02" fill="#E5D140"/>
<rect x="526.74" y="621.8" width="11.72" height="23.02" fill="#0D0D14"/>
<rect x="538.16" y="621.8" width="11.72" height="23.02" fill="#877A33"/>
<rect x="555.27" y="621.8" width="11.72" height="23.02" fill="#0D0D14"/>
<rect x="566.69" y="621.8" width="11.72" height="23.02" fill="#1B1D48"/>
<rect x="578.11" y="621.8" width="11.72" height="23.02" fill="#282B6A"/>
<rect x="589.53" y="621.8" width="11.72" height="23.02" fill="#483F1D"/>
<rect x="600.95" y="621.8" width="23.14" height="23.02" fill="#1B1D48"/>
<rect x="47.2" y="644.52" width="11.72" height="23.02" fill="#1B1D48"/>
<rect x="58.62" y="644.52" width="34.55" height="23.02" fill="#0D0D14"/>
<rect x="92.87" y="644.52" width="23.14" height="23.02" fill="#282B6A"/>
<rect x="115.71" y="644.52" width="11.72" height="23.02" fill="#1B1D48"/>
<rect x="127.13" y="644.52" width="11.72" height="23.02" fill="#34398C"/>
<rect x="138.54" y="644.52" width="11.72" height="23.02" fill="#0D0D14"/>
<rect x="149.96" y="644.52" width="11.72" height="23.02" fill="#282B6A"/>
<rect x="161.38" y="644.52" width="11.72" height="23.02" fill="#0D0D14"/>
<rect x="172.8" y="644.52" width="11.72" height="23.02" fill="#282B6A"/>
<rect x="189.92" y="644.52" width="23.14" height="23.02" fill="#483F1D"/>
<rect x="212.75" y="644.52" width="11.72" height="23.02" fill="#0D0D14"/>
<rect x="224.17" y="644.52" width="11.72" height="23.02" fill="#E5D140"/>
<rect x="235.59" y="644.52" width="11.72" height="23.02" fill="#0D0D14"/>
<rect x="247.01" y="644.52" width="11.72" height="23.02" fill="#34398C"/>
<rect x="258.42" y="644.52" width="11.72" height="23.02" fill="#1B1D48"/>
<rect x="269.84" y="644.52" width="11.72" height="23.02" fill="#483F1D"/>
<rect x="281.26" y="644.52" width="11.72" height="23.02" fill="#0D0D14"/>
<rect x="292.68" y="644.52" width="11.72" height="23.02" fill="#1B1D48"/>
<rect x="304.1" y="644.52" width="34.55" height="23.02" fill="#0D0D14"/>
<rect x="338.35" y="644.52" width="23.14" height="23.02" fill="#483F1D"/>
<rect x="366.89" y="644.52" width="11.72" height="23.02" fill="#B8A43A"/>
<rect x="378.3" y="644.52" width="57.39" height="23.02" fill="#0D0D14"/>
<rect x="435.39" y="644.52" width="11.72" height="23.02" fill="#E5D140"/>
<rect x="446.81" y="644.52" width="11.72" height="23.02" fill="#B8A43A"/>
<rect x="458.23" y="644.52" width="11.72" height="23.02" fill="#483F1D"/>
<rect x="469.65" y="644.52" width="11.72" height="23.02" fill="#877A33"/>
<rect x="481.07" y="644.52" width="11.72" height="23.02" fill="#0D0D14"/>
<rect x="492.48" y="644.52" width="23.14" height="23.02" fill="#483F1D"/>
<rect x="515.32" y="644.52" width="11.72" height="23.02" fill="#E5D140"/>
<rect x="526.74" y="644.52" width="11.72" height="23.02" fill="#483F1D"/>
<rect x="538.16" y="644.52" width="11.72" height="23.02" fill="#877A33"/>
<rect x="555.27" y="644.52" width="11.72" height="23.02" fill="#0D0D14"/>
<rect x="566.69" y="644.52" width="11.72" height="23.02" fill="#1B1D48"/>
<rect x="578.11" y="644.52" width="11.72" height="23.02" fill="#282B6A"/>
<rect x="589.53" y="644.52" width="23.14" height="23.02" fill="#0D0D14"/>
<rect x="612.36" y="644.52" width="11.72" height="23.02" fill="#1B1D48"/>
<rect x="47.2" y="667.24" width="11.72" height="23.02" fill="#E5D140"/>
<rect x="58.62" y="667.24" width="11.72" height="23.02" fill="#483F1D"/>
<rect x="70.04" y="667.24" width="45.97" height="23.02" fill="#1B1D48"/>
<rect x="115.71" y="667.24" width="11.72" height="23.02" fill="#34398C"/>
<rect x="127.13" y="667.24" width="23.14" height="23.02" fill="#282B6A"/>
<rect x="149.96" y="667.24" width="11.72" height="23.02" fill="#0D0D14"/>
<rect x="161.38" y="667.24" width="23.14" height="23.02" fill="#282B6A"/>
<rect x="189.92" y="667.24" width="11.72" height="23.02" fill="#483F1D"/>
<rect x="201.33" y="667.24" width="57.39" height="23.02" fill="#0D0D14"/>
<rect x="258.42" y="667.24" width="11.72" height="23.02" fill="#1B1D48"/>
<rect x="269.84" y="667.24" width="11.72" height="23.02" fill="#483F1D"/>
<rect x="281.26" y="667.24" width="34.55" height="23.02" fill="#0D0D14"/>
<rect x="315.51" y="667.24" width="11.72" height="23.02" fill="#1B1D48"/>
<rect x="326.93" y="667.24" width="11.72" height="23.02" fill="#0D0D14"/>
<rect x="338.35" y="667.24" width="11.72" height="23.02" fill="#483F1D"/>
<rect x="349.77" y="667.24" width="11.72" height="23.02" fill="#0D0D14"/>
<rect x="366.89" y="667.24" width="11.72" height="23.02" fill="#1B1D48"/>
<rect x="378.3" y="667.24" width="23.14" height="23.02" fill="#483F1D"/>
<rect x="401.14" y="667.24" width="11.72" height="23.02" fill="#1B1D48"/>
<rect x="412.56" y="667.24" width="11.72" height="23.02" fill="#483F1D"/>
<rect x="423.98" y="667.24" width="23.14" height="23.02" fill="#0D0D14"/>
<rect x="446.81" y="667.24" width="11.72" height="23.02" fill="#877A33"/>
<rect x="458.23" y="667.24" width="11.72" height="23.02" fill="#E5D140"/>
<rect x="469.65" y="667.24" width="23.14" height="23.02" fill="#B8A43A"/>
<rect x="492.48" y="667.24" width="34.55" height="23.02" fill="#0D0D14"/>
<rect x="526.74" y="667.24" width="23.14" height="23.02" fill="#483F1D"/>
<rect x="555.27" y="667.24" width="11.72" height="23.02" fill="#1B1D48"/>
<rect x="566.69" y="667.24" width="11.72" height="23.02" fill="#0D0D14"/>
<rect x="578.11" y="667.24" width="11.72" height="23.02" fill="#483F1D"/>
<rect x="589.53" y="667.24" width="23.14" height="23.02" fill="#0D0D14"/>
<rect x="612.36" y="667.24" width="11.72" height="23.02" fill="#1B1D48"/>
<rect x="12.1" y="695.86" width="29.2" height="227.2" fill="#415689"/>
<rect x="47.2" y="695.86" width="11.72" height="23.02" fill="#0D0D14"/>
<rect x="58.62" y="695.86" width="11.72" height="23.02" fill="#483F1D"/>
<rect x="70.04" y="695.86" width="11.72" height="23.02" fill="#E5D140"/>
<rect x="81.45" y="695.86" width="11.72" height="23.02" fill="#0D0D14"/>
<rect x="92.87" y="695.86" width="23.14" height="23.02" fill="#483F1D"/>
<rect x="115.71" y="695.86" width="11.72" height="23.02" fill="#1B1D48"/>
<rect x="127.13" y="695.86" width="11.72" height="23.02" fill="#0D0D14"/>
<rect x="138.54" y="695.86" width="23.14" height="23.02" fill="#282B6A"/>
<rect x="161.38" y="695.86" width="23.14" height="23.02" fill="#0D0D14"/>
<rect x="189.92" y="695.86" width="11.72" height="23.02" fill="#483F1D"/>
<rect x="201.33" y="695.86" width="11.72" height="23.02" fill="#1B1D48"/>
<rect x="212.75" y="695.86" width="45.97" height="23.02" fill="#0D0D14"/>
<rect x="258.42" y="695.86" width="11.72" height="23.02" fill="#282B6A"/>
<rect x="269.84" y="695.86" width="11.72" height="23.02" fill="#0D0D14"/>
<rect x="281.26" y="695.86" width="11.72" height="23.02" fill="#282B6A"/>
<rect x="292.68" y="695.86" width="11.72" height="23.02" fill="#34398C"/>
<rect x="304.1" y="695.86" width="45.97" height="23.02" fill="#0D0D14"/>
<rect x="349.77" y="695.86" width="11.72" height="23.02" fill="#483F1D"/>
<rect x="366.89" y="695.86" width="11.72" height="23.02" fill="#483F1D"/>
<rect x="378.3" y="695.86" width="34.55" height="23.02" fill="#0D0D14"/>
<rect x="412.56" y="695.86" width="11.72" height="23.02" fill="#483F1D"/>
<rect x="423.98" y="695.86" width="11.72" height="23.02" fill="#B8A43A"/>
<rect x="435.39" y="695.86" width="11.72" height="23.02" fill="#0D0D14"/>
<rect x="446.81" y="695.86" width="11.72" height="23.02" fill="#483F1D"/>
<rect x="458.23" y="695.86" width="11.72" height="23.02" fill="#B8A43A"/>
<rect x="469.65" y="695.86" width="11.72" height="23.02" fill="#877A33"/>
<rect x="481.07" y="695.86" width="34.55" height="23.02" fill="#0D0D14"/>
<rect x="515.32" y="695.86" width="11.72" height="23.02" fill="#1B1D48"/>
<rect x="526.74" y="695.86" width="23.14" height="23.02" fill="#483F1D"/>
<rect x="555.27" y="695.86" width="11.72" height="23.02" fill="#B8A43A"/>
<rect x="566.69" y="695.86" width="11.72" height="23.02" fill="#34398C"/>
<rect x="578.11" y="695.86" width="11.72" height="23.02" fill="#483F1D"/>
<rect x="589.53" y="695.86" width="11.72" height="23.02" fill="#1B1D48"/>
<rect x="600.95" y="695.86" width="11.72" height="23.02" fill="#877A33"/>
<rect x="612.36" y="695.86" width="11.72" height="23.02" fill="#483F1D"/>
<rect x="47.2" y="718.58" width="11.72" height="23.02" fill="#0D0D14"/>
<rect x="58.62" y="718.58" width="11.72" height="23.02" fill="#877A33"/>
<rect x="70.04" y="718.58" width="11.72" height="23.02" fill="#483F1D"/>
<rect x="81.45" y="718.58" width="11.72" height="23.02" fill="#1B1D48"/>
<rect x="92.87" y="718.58" width="11.72" height="23.02" fill="#B8A43A"/>
<rect x="104.29" y="718.58" width="11.72" height="23.02" fill="#0D0D14"/>
<rect x="115.71" y="718.58" width="11.72" height="23.02" fill="#34398C"/>
<rect x="127.13" y="718.58" width="11.72" height="23.02" fill="#0D0D14"/>
<rect x="138.54" y="718.58" width="23.14" height="23.02" fill="#1B1D48"/>
<rect x="161.38" y="718.58" width="11.72" height="23.02" fill="#0D0D14"/>
<rect x="172.8" y="718.58" width="11.72" height="23.02" fill="#483F1D"/>
<rect x="189.92" y="718.58" width="11.72" height="23.02" fill="#0D0D14"/>
<rect x="201.33" y="718.58" width="11.72" height="23.02" fill="#282B6A"/>
<rect x="212.75" y="718.58" width="11.72" height="23.02" fill="#0D0D14"/>
<rect x="224.17" y="718.58" width="11.72" height="23.02" fill="#1B1D48"/>
<rect x="235.59" y="718.58" width="11.72" height="23.02" fill="#0D0D14"/>
<rect x="247.01" y="718.58" width="23.14" height="23.02" fill="#1B1D48"/>
<rect x="269.84" y="718.58" width="11.72" height="23.02" fill="#282B6A"/>
<rect x="281.26" y="718.58" width="11.72" height="23.02" fill="#34398C"/>
<rect x="292.68" y="718.58" width="11.72" height="23.02" fill="#1B1D48"/>
<rect x="304.1" y="718.58" width="23.14" height="23.02" fill="#0D0D14"/>
<rect x="326.93" y="718.58" width="11.72" height="23.02" fill="#483F1D"/>
<rect x="338.35" y="718.58" width="11.72" height="23.02" fill="#0D0D14"/>
<rect x="349.77" y="718.58" width="11.72" height="23.02" fill="#483F1D"/>
<rect x="366.89" y="718.58" width="11.72" height="23.02" fill="#1B1D48"/>
<rect x="378.3" y="718.58" width="23.14" height="23.02" fill="#877A33"/>
<rect x="401.14" y="718.58" width="11.72" height="23.02" fill="#B8A43A"/>
<rect x="412.56" y="718.58" width="11.72" height="23.02" fill="#877A33"/>
<rect x="423.98" y="718.58" width="34.55" height="23.02" fill="#0D0D14"/>
<rect x="458.23" y="718.58" width="23.14" height="23.02" fill="#B8A43A"/>
<rect x="481.07" y="718.58" width="11.72" height="23.02" fill="#483F1D"/>
<rect x="492.48" y="718.58" width="11.72" height="23.02" fill="#877A33"/>
<rect x="503.9" y="718.58" width="11.72" height="23.02" fill="#483F1D"/>
<rect x="515.32" y="718.58" width="11.72" height="23.02" fill="#34398C"/>
<rect x="526.74" y="718.58" width="11.72" height="23.02" fill="#282B6A"/>
<rect x="538.16" y="718.58" width="11.72" height="23.02" fill="#1B1D48"/>
<rect x="555.27" y="718.58" width="11.72" height="23.02" fill="#483F1D"/>
<rect x="566.69" y="718.58" width="11.72" height="23.02" fill="#0D0D14"/>
<rect x="578.11" y="718.58" width="23.14" height="23.02" fill="#483F1D"/>
<rect x="600.95" y="718.58" width="11.72" height="23.02" fill="#877A33"/>
<rect x="612.36" y="718.58" width="11.72" height="23.02" fill="#0D0D14"/>
<rect x="47.2" y="741.3" width="11.72" height="23.02" fill="#1B1D48"/>
<rect x="58.62" y="741.3" width="11.72" height="23.02" fill="#34398C"/>
<rect x="70.04" y="741.3" width="34.55" height="23.02" fill="#0D0D14"/>
<rect x="104.29" y="741.3" width="23.14" height="23.02" fill="#1B1D48"/>
<rect x="127.13" y="741.3" width="11.72" height="23.02" fill="#0D0D14"/>
<rect x="138.54" y="741.3" width="11.72" height="23.02" fill="#282B6A"/>
<rect x="149.96" y="741.3" width="11.72" height="23.02" fill="#1B1D48"/>
<rect x="161.38" y="741.3" width="23.14" height="23.02" fill="#0D0D14"/>
<rect x="189.92" y="741.3" width="11.72" height="23.02" fill="#483F1D"/>
<rect x="201.33" y="741.3" width="11.72" height="23.02" fill="#1B1D48"/>
<rect x="212.75" y="741.3" width="23.14" height="23.02" fill="#483F1D"/>
<rect x="235.59" y="741.3" width="45.97" height="23.02" fill="#0D0D14"/>
<rect x="281.26" y="741.3" width="11.72" height="23.02" fill="#282B6A"/>
<rect x="292.68" y="741.3" width="23.14" height="23.02" fill="#1B1D48"/>
<rect x="315.51" y="741.3" width="11.72" height="23.02" fill="#B8A43A"/>
<rect x="326.93" y="741.3" width="11.72" height="23.02" fill="#1B1D48"/>
<rect x="338.35" y="741.3" width="23.14" height="23.02" fill="#0D0D14"/>
<rect x="366.89" y="741.3" width="11.72" height="23.02" fill="#282B6A"/>
<rect x="378.3" y="741.3" width="11.72" height="23.02" fill="#0D0D14"/>
<rect x="389.72" y="741.3" width="11.72" height="23.02" fill="#483F1D"/>
<rect x="401.14" y="741.3" width="11.72" height="23.02" fill="#E5D140"/>
<rect x="412.56" y="741.3" width="11.72" height="23.02" fill="#483F1D"/>
<rect x="423.98" y="741.3" width="23.14" height="23.02" fill="#B8A43A"/>
<rect x="446.81" y="741.3" width="11.72" height="23.02" fill="#0D0D14"/>
<rect x="458.23" y="741.3" width="11.72" height="23.02" fill="#E5D140"/>
<rect x="469.65" y="741.3" width="11.72" height="23.02" fill="#877A33"/>
<rect x="481.07" y="741.3" width="23.14" height="23.02" fill="#483F1D"/>
<rect x="503.9" y="741.3" width="11.72" height="23.02" fill="#1B1D48"/>
<rect x="515.32" y="741.3" width="11.72" height="23.02" fill="#0D0D14"/>
<rect x="526.74" y="741.3" width="11.72" height="23.02" fill="#B8A43A"/>
<rect x="538.16" y="741.3" width="11.72" height="23.02" fill="#0D0D14"/>
<rect x="555.27" y="741.3" width="23.14" height="23.02" fill="#1B1D48"/>
<rect x="578.11" y="741.3" width="23.14" height="23.02" fill="#483F1D"/>
<rect x="600.95" y="741.3" width="23.14" height="23.02" fill="#0D0D14"/>
<rect x="47.2" y="764.02" width="11.72" height="23.02" fill="#34398C"/>
<rect x="58.62" y="764.02" width="23.14" height="23.02" fill="#B8A43A"/>
<rect x="81.45" y="764.02" width="34.55" height="23.02" fill="#1B1D48"/>
<rect x="115.71" y="764.02" width="23.14" height="23.02" fill="#483F1D"/>
<rect x="138.54" y="764.02" width="11.72" height="23.02" fill="#0D0D14"/>
<rect x="149.96" y="764.02" width="11.72" height="23.02" fill="#483F1D"/>
<rect x="161.38" y="764.02" width="11.72" height="23.02" fill="#0D0D14"/>
<rect x="172.8" y="764.02" width="11.72" height="23.02" fill="#483F1D"/>
<rect x="189.92" y="764.02" width="11.72" height="23.02" fill="#1B1D48"/>
<rect x="201.33" y="764.02" width="23.14" height="23.02" fill="#0D0D14"/>
<rect x="224.17" y="764.02" width="11.72" height="23.02" fill="#1B1D48"/>
<rect x="235.59" y="764.02" width="11.72" height="23.02" fill="#483F1D"/>
<rect x="247.01" y="764.02" width="11.72" height="23.02" fill="#34398C"/>
<rect x="258.42" y="764.02" width="11.72" height="23.02" fill="#282B6A"/>
<rect x="269.84" y="764.02" width="23.14" height="23.02" fill="#0D0D14"/>
<rect x="292.68" y="764.02" width="11.72" height="23.02" fill="#282B6A"/>
<rect x="304.1" y="764.02" width="23.14" height="23.02" fill="#0D0D14"/>
<rect x="326.93" y="764.02" width="34.55" height="23.02" fill="#1B1D48"/>
<rect x="366.89" y="764.02" width="11.72" height="23.02" fill="#483F1D"/>
<rect x="378.3" y="764.02" width="34.55" height="23.02" fill="#0D0D14"/>
<rect x="412.56" y="764.02" width="11.72" height="23.02" fill="#B8A43A"/>
<rect x="423.98" y="764.02" width="11.72" height="23.02" fill="#0D0D14"/>
<rect x="435.39" y="764.02" width="11.72" height="23.02" fill="#483F1D"/>
<rect x="446.81" y="764.02" width="11.72" height="23.02" fill="#0D0D14"/>
<rect x="458.23" y="764.02" width="11.72" height="23.02" fill="#E5D140"/>
<rect x="469.65" y="764.02" width="11.72" height="23.02" fill="#877A33"/>
<rect x="481.07" y="764.02" width="23.14" height="23.02" fill="#483F1D"/>
<rect x="503.9" y="764.02" width="23.14" height="23.02" fill="#0D0D14"/>
<rect x="526.74" y="764.02" width="11.72" height="23.02" fill="#877A33"/>
<rect x="538.16" y="764.02" width="11.72" height="23.02" fill="#0D0D14"/>
<rect x="555.27" y="764.02" width="11.72" height="23.02" fill="#0D0D14"/>
<rect x="566.69" y="764.02" width="11.72" height="23.02" fill="#282B6A"/>
<rect x="578.11" y="764.02" width="23.14" height="23.02" fill="#877A33"/>
<rect x="600.95" y="764.02" width="11.72" height="23.02" fill="#B8A43A"/>
<rect x="612.36" y="764.02" width="11.72" height="23.02" fill="#0D0D14"/>
<rect x="47.2" y="786.74" width="11.72" height="23.02" fill="#282B6A"/>
<rect x="58.62" y="786.74" width="11.72" height="23.02" fill="#483F1D"/>
<rect x="70.04" y="786.74" width="11.72" height="23.02" fill="#E5D140"/>
<rect x="81.45" y="786.74" width="11.72" height="23.02" fill="#1B1D48"/>
<rect x="92.87" y="786.74" width="11.72" height="23.02" fill="#0D0D14"/>
<rect x="104.29" y="786.74" width="11.72" height="23.02" fill="#1B1D48"/>
<rect x="115.71" y="786.74" width="11.72" height="23.02" fill="#483F1D"/>
<rect x="127.13" y="786.74" width="34.55" height="23.02" fill="#0D0D14"/>
<rect x="161.38" y="786.74" width="11.72" height="23.02" fill="#1B1D48"/>
<rect x="172.8" y="786.74" width="11.72" height="23.02" fill="#877A33"/>
<rect x="189.92" y="786.74" width="11.72" height="23.02" fill="#1B1D48"/>
<rect x="201.33" y="786.74" width="23.14" height="23.02" fill="#0D0D14"/>
<rect x="224.17" y="786.74" width="11.72" height="23.02" fill="#1B1D48"/>
<rect x="235.59" y="786.74" width="11.72" height="23.02" fill="#0D0D14"/>
<rect x="247.01" y="786.74" width="11.72" height="23.02" fill="#34398C"/>
<rect x="258.42" y="786.74" width="11.72" height="23.02" fill="#1B1D48"/>
<rect x="269.84" y="786.74" width="23.14" height="23.02" fill="#0D0D14"/>
<rect x="292.68" y="786.74" width="11.72" height="23.02" fill="#34398C"/>
<rect x="304.1" y="786.74" width="23.14" height="23.02" fill="#0D0D14"/>
<rect x="326.93" y="786.74" width="23.14" height="23.02" fill="#1B1D48"/>
<rect x="349.77" y="786.74" width="11.72" height="23.02" fill="#0D0D14"/>
<rect x="366.89" y="786.74" width="11.72" height="23.02" fill="#B8A43A"/>
<rect x="378.3" y="786.74" width="34.55" height="23.02" fill="#0D0D14"/>
<rect x="412.56" y="786.74" width="11.72" height="23.02" fill="#B8A43A"/>
<rect x="423.98" y="786.74" width="23.14" height="23.02" fill="#483F1D"/>
<rect x="446.81" y="786.74" width="11.72" height="23.02" fill="#1B1D48"/>
<rect x="458.23" y="786.74" width="11.72" height="23.02" fill="#E5D140"/>
<rect x="469.65" y="786.74" width="11.72" height="23.02" fill="#483F1D"/>
<rect x="481.07" y="786.74" width="45.97" height="23.02" fill="#0D0D14"/>
<rect x="526.74" y="786.74" width="11.72" height="23.02" fill="#B8A43A"/>
<rect x="538.16" y="786.74" width="11.72" height="23.02" fill="#0D0D14"/>
<rect x="555.27" y="786.74" width="11.72" height="23.02" fill="#0D0D14"/>
<rect x="566.69" y="786.74" width="11.72" height="23.02" fill="#282B6A"/>
<rect x="578.11" y="786.74" width="11.72" height="23.02" fill="#877A33"/>
<rect x="589.53" y="786.74" width="34.55" height="23.02" fill="#483F1D"/>
<rect x="47.2" y="809.46" width="11.72" height="23.02" fill="#282B6A"/>
<rect x="58.62" y="809.46" width="11.72" height="23.02" fill="#483F1D"/>
<rect x="70.04" y="809.46" width="11.72" height="23.02" fill="#E5D140"/>
<rect x="81.45" y="809.46" width="11.72" height="23.02" fill="#1B1D48"/>
<rect x="92.87" y="809.46" width="68.81" height="23.02" fill="#0D0D14"/>
<rect x="161.38" y="809.46" width="11.72" height="23.02" fill="#1B1D48"/>
<rect x="172.8" y="809.46" width="11.72" height="23.02" fill="#877A33"/>
<rect x="189.92" y="809.46" width="11.72" height="23.02" fill="#0D0D14"/>
<rect x="201.33" y="809.46" width="23.14" height="23.02" fill="#1B1D48"/>
<rect x="224.17" y="809.46" width="23.14" height="23.02" fill="#0D0D14"/>
<rect x="247.01" y="809.46" width="11.72" height="23.02" fill="#282B6A"/>
<rect x="258.42" y="809.46" width="11.72" height="23.02" fill="#1B1D48"/>
<rect x="269.84" y="809.46" width="11.72" height="23.02" fill="#0D0D14"/>
<rect x="281.26" y="809.46" width="23.14" height="23.02" fill="#1B1D48"/>
<rect x="304.1" y="809.46" width="11.72" height="23.02" fill="#0D0D14"/>
<rect x="315.51" y="809.46" width="11.72" height="23.02" fill="#282B6A"/>
<rect x="326.93" y="809.46" width="11.72" height="23.02" fill="#0D0D14"/>
<rect x="338.35" y="809.46" width="11.72" height="23.02" fill="#1B1D48"/>
<rect x="349.77" y="809.46" width="11.72" height="23.02" fill="#483F1D"/>
<rect x="366.89" y="809.46" width="23.14" height="23.02" fill="#0D0D14"/>
<rect x="389.72" y="809.46" width="11.72" height="23.02" fill="#E5D140"/>
<rect x="401.14" y="809.46" width="11.72" height="23.02" fill="#0D0D14"/>
<rect x="412.56" y="809.46" width="11.72" height="23.02" fill="#B8A43A"/>
<rect x="423.98" y="809.46" width="11.72" height="23.02" fill="#0D0D14"/>
<rect x="435.39" y="809.46" width="11.72" height="23.02" fill="#483F1D"/>
<rect x="446.81" y="809.46" width="11.72" height="23.02" fill="#0D0D14"/>
<rect x="458.23" y="809.46" width="11.72" height="23.02" fill="#877A33"/>
<rect x="469.65" y="809.46" width="11.72" height="23.02" fill="#B8A43A"/>
<rect x="481.07" y="809.46" width="11.72" height="23.02" fill="#0D0D14"/>
<rect x="492.48" y="809.46" width="23.14" height="23.02" fill="#1B1D48"/>
<rect x="515.32" y="809.46" width="11.72" height="23.02" fill="#0D0D14"/>
<rect x="526.74" y="809.46" width="11.72" height="23.02" fill="#877A33"/>
<rect x="538.16" y="809.46" width="11.72" height="23.02" fill="#0D0D14"/>
<rect x="555.27" y="809.46" width="11.72" height="23.02" fill="#0D0D14"/>
<rect x="566.69" y="809.46" width="11.72" height="23.02" fill="#282B6A"/>
<rect x="578.11" y="809.46" width="11.72" height="23.02" fill="#877A33"/>
<rect x="589.53" y="809.46" width="23.14" height="23.02" fill="#B8A43A"/>
<rect x="612.36" y="809.46" width="11.72" height="23.02" fill="#0D0D14"/>
<rect x="47.2" y="832.18" width="11.72" height="23.02" fill="#34398C"/>
<rect x="58.62" y="832.18" width="11.72" height="23.02" fill="#0D0D14"/>
<rect x="70.04" y="832.18" width="11.72" height="23.02" fill="#B8A43A"/>
<rect x="81.45" y="832.18" width="23.14" height="23.02" fill="#1B1D48"/>
<rect x="104.29" y="832.18" width="11.72" height="23.02" fill="#0D0D14"/>
<rect x="115.71" y="832.18" width="11.72" height="23.02" fill="#483F1D"/>
<rect x="127.13" y="832.18" width="34.55" height="23.02" fill="#0D0D14"/>
<rect x="161.38" y="832.18" width="11.72" height="23.02" fill="#1B1D48"/>
<rect x="172.8" y="832.18" width="11.72" height="23.02" fill="#877A33"/>
<rect x="189.92" y="832.18" width="11.72" height="23.02" fill="#1B1D48"/>
<rect x="201.33" y="832.18" width="11.72" height="23.02" fill="#0D0D14"/>
<rect x="212.75" y="832.18" width="11.72" height="23.02" fill="#1B1D48"/>
<rect x="224.17" y="832.18" width="23.14" height="23.02" fill="#0D0D14"/>
<rect x="247.01" y="832.18" width="11.72" height="23.02" fill="#34398C"/>
<rect x="258.42" y="832.18" width="11.72" height="23.02" fill="#282B6A"/>
<rect x="269.84" y="832.18" width="23.14" height="23.02" fill="#0D0D14"/>
<rect x="292.68" y="832.18" width="11.72" height="23.02" fill="#34398C"/>
<rect x="304.1" y="832.18" width="23.14" height="23.02" fill="#0D0D14"/>
<rect x="326.93" y="832.18" width="23.14" height="23.02" fill="#1B1D48"/>
<rect x="349.77" y="832.18" width="11.72" height="23.02" fill="#0D0D14"/>
<rect x="366.89" y="832.18" width="11.72" height="23.02" fill="#877A33"/>
<rect x="378.3" y="832.18" width="34.55" height="23.02" fill="#0D0D14"/>
<rect x="412.56" y="832.18" width="11.72" height="23.02" fill="#B8A43A"/>
<rect x="423.98" y="832.18" width="11.72" height="23.02" fill="#0D0D14"/>
<rect x="435.39" y="832.18" width="11.72" height="23.02" fill="#483F1D"/>
<rect x="446.81" y="832.18" width="11.72" height="23.02" fill="#0D0D14"/>
<rect x="458.23" y="832.18" width="11.72" height="23.02" fill="#B8A43A"/>
<rect x="469.65" y="832.18" width="11.72" height="23.02" fill="#877A33"/>
<rect x="481.07" y="832.18" width="23.14" height="23.02" fill="#0D0D14"/>
<rect x="503.9" y="832.18" width="11.72" height="23.02" fill="#1B1D48"/>
<rect x="515.32" y="832.18" width="11.72" height="23.02" fill="#0D0D14"/>
<rect x="526.74" y="832.18" width="11.72" height="23.02" fill="#E5D140"/>
<rect x="538.16" y="832.18" width="11.72" height="23.02" fill="#0D0D14"/>
<rect x="555.27" y="832.18" width="11.72" height="23.02" fill="#877A33"/>
<rect x="566.69" y="832.18" width="11.72" height="23.02" fill="#34398C"/>
<rect x="578.11" y="832.18" width="11.72" height="23.02" fill="#483F1D"/>
<rect x="589.53" y="832.18" width="11.72" height="23.02" fill="#0D0D14"/>
<rect x="600.95" y="832.18" width="11.72" height="23.02" fill="#483F1D"/>
<rect x="612.36" y="832.18" width="11.72" height="23.02" fill="#877A33"/>
<rect x="47.2" y="854.9" width="11.72" height="23.02" fill="#282B6A"/>
<rect x="58.62" y="854.9" width="11.72" height="23.02" fill="#877A33"/>
<rect x="70.04" y="854.9" width="11.72" height="23.02" fill="#E5D140"/>
<rect x="81.45" y="854.9" width="11.72" height="23.02" fill="#1B1D48"/>
<rect x="92.87" y="854.9" width="11.72" height="23.02" fill="#0D0D14"/>
<rect x="104.29" y="854.9" width="11.72" height="23.02" fill="#1B1D48"/>
<rect x="115.71" y="854.9" width="23.14" height="23.02" fill="#0D0D14"/>
<rect x="138.54" y="854.9" width="11.72" height="23.02" fill="#483F1D"/>
<rect x="149.96" y="854.9" width="11.72" height="23.02" fill="#0D0D14"/>
<rect x="161.38" y="854.9" width="11.72" height="23.02" fill="#1B1D48"/>
<rect x="172.8" y="854.9" width="11.72" height="23.02" fill="#B8A43A"/>
<rect x="189.92" y="854.9" width="23.14" height="23.02" fill="#1B1D48"/>
<rect x="212.75" y="854.9" width="11.72" height="23.02" fill="#0D0D14"/>
<rect x="224.17" y="854.9" width="11.72" height="23.02" fill="#1B1D48"/>
<rect x="235.59" y="854.9" width="11.72" height="23.02" fill="#0D0D14"/>
<rect x="247.01" y="854.9" width="11.72" height="23.02" fill="#282B6A"/>
<rect x="258.42" y="854.9" width="45.97" height="23.02" fill="#1B1D48"/>
<rect x="304.1" y="854.9" width="57.39" height="23.02" fill="#0D0D14"/>
<rect x="366.89" y="854.9" width="23.14" height="23.02" fill="#0D0D14"/>
<rect x="389.72" y="854.9" width="11.72" height="23.02" fill="#877A33"/>
<rect x="401.14" y="854.9" width="11.72" height="23.02" fill="#0D0D14"/>
<rect x="412.56" y="854.9" width="11.72" height="23.02" fill="#877A33"/>
<rect x="423.98" y="854.9" width="23.14" height="23.02" fill="#0D0D14"/>
<rect x="446.81" y="854.9" width="11.72" height="23.02" fill="#1B1D48"/>
<rect x="458.23" y="854.9" width="11.72" height="23.02" fill="#E5D140"/>
<rect x="469.65" y="854.9" width="11.72" height="23.02" fill="#877A33"/>
<rect x="481.07" y="854.9" width="11.72" height="23.02" fill="#0D0D14"/>
<rect x="492.48" y="854.9" width="11.72" height="23.02" fill="#483F1D"/>
<rect x="503.9" y="854.9" width="11.72" height="23.02" fill="#0D0D14"/>
<rect x="515.32" y="854.9" width="11.72" height="23.02" fill="#1B1D48"/>
<rect x="526.74" y="854.9" width="11.72" height="23.02" fill="#B8A43A"/>
<rect x="538.16" y="854.9" width="11.72" height="23.02" fill="#1B1D48"/>
<rect x="555.27" y="854.9" width="11.72" height="23.02" fill="#483F1D"/>
<rect x="566.69" y="854.9" width="11.72" height="23.02" fill="#282B6A"/>
<rect x="578.11" y="854.9" width="11.72" height="23.02" fill="#483F1D"/>
<rect x="589.53" y="854.9" width="11.72" height="23.02" fill="#0D0D14"/>
<rect x="600.95" y="854.9" width="11.72" height="23.02" fill="#E5D140"/>
<rect x="612.36" y="854.9" width="11.72" height="23.02" fill="#1B1D48"/>
<rect x="47.2" y="877.62" width="11.72" height="23.02" fill="#1B1D48"/>
<rect x="58.62" y="877.62" width="11.72" height="23.02" fill="#0D0D14"/>
<rect x="70.04" y="877.62" width="11.72" height="23.02" fill="#E5D140"/>
<rect x="81.45" y="877.62" width="11.72" height="23.02" fill="#0D0D14"/>
<rect x="92.87" y="877.62" width="23.14" height="23.02" fill="#1B1D48"/>
<rect x="115.71" y="877.62" width="11.72" height="23.02" fill="#483F1D"/>
<rect x="127.13" y="877.62" width="45.97" height="23.02" fill="#0D0D14"/>
<rect x="172.8" y="877.62" width="11.72" height="23.02" fill="#483F1D"/>
<rect x="189.92" y="877.62" width="11.72" height="23.02" fill="#1B1D48"/>
<rect x="201.33" y="877.62" width="45.97" height="23.02" fill="#0D0D14"/>
<rect x="247.01" y="877.62" width="11.72" height="23.02" fill="#34398C"/>
<rect x="258.42" y="877.62" width="11.72" height="23.02" fill="#282B6A"/>
<rect x="269.84" y="877.62" width="23.14" height="23.02" fill="#0D0D14"/>
<rect x="292.68" y="877.62" width="11.72" height="23.02" fill="#34398C"/>
<rect x="304.1" y="877.62" width="23.14" height="23.02" fill="#483F1D"/>
<rect x="326.93" y="877.62" width="11.72" height="23.02" fill="#1B1D48"/>
<rect x="338.35" y="877.62" width="11.72" height="23.02" fill="#0D0D14"/>
<rect x="349.77" y="877.62" width="11.72" height="23.02" fill="#1B1D48"/>
<rect x="366.89" y="877.62" width="11.72" height="23.02" fill="#483F1D"/>
<rect x="378.3" y="877.62" width="23.14" height="23.02" fill="#0D0D14"/>
<rect x="401.14" y="877.62" width="11.72" height="23.02" fill="#483F1D"/>
<rect x="412.56" y="877.62" width="34.55" height="23.02" fill="#877A33"/>
<rect x="446.81" y="877.62" width="11.72" height="23.02" fill="#0D0D14"/>
<rect x="458.23" y="877.62" width="11.72" height="23.02" fill="#B8A43A"/>
<rect x="469.65" y="877.62" width="11.72" height="23.02" fill="#483F1D"/>
<rect x="481.07" y="877.62" width="11.72" height="23.02" fill="#0D0D14"/>
<rect x="492.48" y="877.62" width="11.72" height="23.02" fill="#483F1D"/>
<rect x="503.9" y="877.62" width="23.14" height="23.02" fill="#0D0D14"/>
<rect x="526.74" y="877.62" width="11.72" height="23.02" fill="#877A33"/>
<rect x="538.16" y="877.62" width="11.72" height="23.02" fill="#0D0D14"/>
<rect x="555.27" y="877.62" width="11.72" height="23.02" fill="#483F1D"/>
<rect x="566.69" y="877.62" width="11.72" height="23.02" fill="#282B6A"/>
<rect x="578.11" y="877.62" width="11.72" height="23.02" fill="#877A33"/>
<rect x="589.53" y="877.62" width="34.55" height="23.02" fill="#483F1D"/>
<rect x="47.2" y="900.34" width="11.72" height="23.02" fill="#282B6A"/>
<rect x="58.62" y="900.34" width="11.72" height="23.02" fill="#877A33"/>
<rect x="70.04" y="900.34" width="11.72" height="23.02" fill="#E5D140"/>
<rect x="81.45" y="900.34" width="11.72" height="23.02" fill="#1B1D48"/>
<rect x="92.87" y="900.34" width="11.72" height="23.02" fill="#0D0D14"/>
<rect x="104.29" y="900.34" width="11.72" height="23.02" fill="#1B1D48"/>
<rect x="115.71" y="900.34" width="23.14" height="23.02" fill="#0D0D14"/>
<rect x="138.54" y="900.34" width="23.14" height="23.02" fill="#483F1D"/>
<rect x="161.38" y="900.34" width="11.72" height="23.02" fill="#1B1D48"/>
<rect x="172.8" y="900.34" width="11.72" height="23.02" fill="#B8A43A"/>
<rect x="189.92" y="900.34" width="23.14" height="23.02" fill="#1B1D48"/>
<rect x="212.75" y="900.34" width="11.72" height="23.02" fill="#0D0D14"/>
<rect x="224.17" y="900.34" width="23.14" height="23.02" fill="#1B1D48"/>
<rect x="247.01" y="900.34" width="23.14" height="23.02" fill="#282B6A"/>
<rect x="269.84" y="900.34" width="23.14" height="23.02" fill="#0D0D14"/>
<rect x="292.68" y="900.34" width="11.72" height="23.02" fill="#34398C"/>
<rect x="304.1" y="900.34" width="11.72" height="23.02" fill="#483F1D"/>
<rect x="315.51" y="900.34" width="11.72" height="23.02" fill="#0D0D14"/>
<rect x="326.93" y="900.34" width="34.55" height="23.02" fill="#1B1D48"/>
<rect x="366.89" y="900.34" width="23.14" height="23.02" fill="#0D0D14"/>
<rect x="389.72" y="900.34" width="11.72" height="23.02" fill="#483F1D"/>
<rect x="401.14" y="900.34" width="11.72" height="23.02" fill="#0D0D14"/>
<rect x="412.56" y="900.34" width="11.72" height="23.02" fill="#B8A43A"/>
<rect x="423.98" y="900.34" width="23.14" height="23.02" fill="#483F1D"/>
<rect x="446.81" y="900.34" width="11.72" height="23.02" fill="#1B1D48"/>
<rect x="458.23" y="900.34" width="11.72" height="23.02" fill="#E5D140"/>
<rect x="469.65" y="900.34" width="11.72" height="23.02" fill="#483F1D"/>
<rect x="481.07" y="900.34" width="34.55" height="23.02" fill="#0D0D14"/>
<rect x="515.32" y="900.34" width="11.72" height="23.02" fill="#1B1D48"/>
<rect x="526.74" y="900.34" width="11.72" height="23.02" fill="#B8A43A"/>
<rect x="538.16" y="900.34" width="11.72" height="23.02" fill="#0D0D14"/>
<rect x="555.27" y="900.34" width="11.72" height="23.02" fill="#0D0D14"/>
<rect x="566.69" y="900.34" width="11.72" height="23.02" fill="#282B6A"/>
<rect x="578.11" y="900.34" width="34.55" height="23.02" fill="#483F1D"/>
<rect x="612.36" y="900.34" width="11.72" height="23.02" fill="#0D0D14"/>
<rect x="12.1" y="928.96" width="29.2" height="136.32" fill="#E2917C"/>
<rect x="47.2" y="928.96" width="11.72" height="23.02" fill="#1B1D48"/>
<rect x="58.62" y="928.96" width="45.97" height="23.02" fill="#0D0D14"/>
<rect x="104.29" y="928.96" width="11.72" height="23.02" fill="#282B6A"/>
<rect x="115.71" y="928.96" width="11.72" height="23.02" fill="#877A33"/>
<rect x="127.13" y="928.96" width="23.14" height="23.02" fill="#1B1D48"/>
<rect x="149.96" y="928.96" width="11.72" height="23.02" fill="#483F1D"/>
<rect x="161.38" y="928.96" width="23.14" height="23.02" fill="#0D0D14"/>
<rect x="189.92" y="928.96" width="11.72" height="23.02" fill="#877A33"/>
<rect x="201.33" y="928.96" width="11.72" height="23.02" fill="#0D0D14"/>
<rect x="212.75" y="928.96" width="11.72" height="23.02" fill="#E5D140"/>
<rect x="224.17" y="928.96" width="11.72" height="23.02" fill="#877A33"/>
<rect x="235.59" y="928.96" width="11.72" height="23.02" fill="#483F1D"/>
<rect x="247.01" y="928.96" width="11.72" height="23.02" fill="#282B6A"/>
<rect x="258.42" y="928.96" width="11.72" height="23.02" fill="#B8A43A"/>
<rect x="269.84" y="928.96" width="23.14" height="23.02" fill="#483F1D"/>
<rect x="292.68" y="928.96" width="11.72" height="23.02" fill="#B8A43A"/>
<rect x="304.1" y="928.96" width="11.72" height="23.02" fill="#483F1D"/>
<rect x="315.51" y="928.96" width="11.72" height="23.02" fill="#B8A43A"/>
<rect x="326.93" y="928.96" width="11.72" height="23.02" fill="#0D0D14"/>
<rect x="338.35" y="928.96" width="11.72" height="23.02" fill="#483F1D"/>
<rect x="349.77" y="928.96" width="11.72" height="23.02" fill="#1B1D48"/>
<rect x="366.89" y="928.96" width="11.72" height="23.02" fill="#1B1D48"/>
<rect x="378.3" y="928.96" width="34.55" height="23.02" fill="#0D0D14"/>
<rect x="412.56" y="928.96" width="23.14" height="23.02" fill="#1B1D48"/>
<rect x="435.39" y="928.96" width="23.14" height="23.02" fill="#0D0D14"/>
<rect x="458.23" y="928.96" width="11.72" height="23.02" fill="#282B6A"/>
<rect x="469.65" y="928.96" width="23.14" height="23.02" fill="#1B1D48"/>
<rect x="492.48" y="928.96" width="11.72" height="23.02" fill="#877A33"/>
<rect x="503.9" y="928.96" width="11.72" height="23.02" fill="#483F1D"/>
<rect x="515.32" y="928.96" width="11.72" height="23.02" fill="#1B1D48"/>
<rect x="526.74" y="928.96" width="11.72" height="23.02" fill="#282B6A"/>
<rect x="538.16" y="928.96" width="11.72" height="23.02" fill="#1B1D48"/>
<rect x="555.27" y="928.96" width="11.72" height="23.02" fill="#1B1D48"/>
<rect x="566.69" y="928.96" width="11.72" height="23.02" fill="#E5D140"/>
<rect x="578.11" y="928.96" width="11.72" height="23.02" fill="#B8A43A"/>
<rect x="589.53" y="928.96" width="11.72" height="23.02" fill="#282B6A"/>
<rect x="600.95" y="928.96" width="23.14" height="23.02" fill="#0D0D14"/>
<rect x="47.2" y="951.68" width="11.72" height="23.02" fill="#0D0D14"/>
<rect x="58.62" y="951.68" width="23.14" height="23.02" fill="#282B6A"/>
<rect x="81.45" y="951.68" width="23.14" height="23.02" fill="#0D0D14"/>
<rect x="104.29" y="951.68" width="11.72" height="23.02" fill="#282B6A"/>
<rect x="115.71" y="951.68" width="11.72" height="23.02" fill="#483F1D"/>
<rect x="127.13" y="951.68" width="11.72" height="23.02" fill="#E5D140"/>
<rect x="138.54" y="951.68" width="11.72" height="23.02" fill="#1B1D48"/>
<rect x="149.96" y="951.68" width="11.72" height="23.02" fill="#877A33"/>
<rect x="161.38" y="951.68" width="23.14" height="23.02" fill="#0D0D14"/>
<rect x="189.92" y="951.68" width="11.72" height="23.02" fill="#0D0D14"/>
<rect x="201.33" y="951.68" width="11.72" height="23.02" fill="#B8A43A"/>
<rect x="212.75" y="951.68" width="11.72" height="23.02" fill="#483F1D"/>
<rect x="224.17" y="951.68" width="23.14" height="23.02" fill="#877A33"/>
<rect x="247.01" y="951.68" width="23.14" height="23.02" fill="#B8A43A"/>
<rect x="269.84" y="951.68" width="11.72" height="23.02" fill="#877A33"/>
<rect x="281.26" y="951.68" width="34.55" height="23.02" fill="#0D0D14"/>
<rect x="315.51" y="951.68" width="11.72" height="23.02" fill="#483F1D"/>
<rect x="326.93" y="951.68" width="11.72" height="23.02" fill="#1B1D48"/>
<rect x="338.35" y="951.68" width="11.72" height="23.02" fill="#483F1D"/>
<rect x="349.77" y="951.68" width="11.72" height="23.02" fill="#0D0D14"/>
<rect x="366.89" y="951.68" width="11.72" height="23.02" fill="#0D0D14"/>
<rect x="378.3" y="951.68" width="11.72" height="23.02" fill="#1B1D48"/>
<rect x="389.72" y="951.68" width="23.14" height="23.02" fill="#0D0D14"/>
<rect x="412.56" y="951.68" width="11.72" height="23.02" fill="#282B6A"/>
<rect x="423.98" y="951.68" width="11.72" height="23.02" fill="#1B1D48"/>
<rect x="435.39" y="951.68" width="23.14" height="23.02" fill="#0D0D14"/>
<rect x="458.23" y="951.68" width="11.72" height="23.02" fill="#282B6A"/>
<rect x="469.65" y="951.68" width="11.72" height="23.02" fill="#34398C"/>
<rect x="481.07" y="951.68" width="45.97" height="23.02" fill="#0D0D14"/>
<rect x="526.74" y="951.68" width="11.72" height="23.02" fill="#34398C"/>
<rect x="538.16" y="951.68" width="11.72" height="23.02" fill="#1B1D48"/>
<rect x="555.27" y="951.68" width="11.72" height="23.02" fill="#0D0D14"/>
<rect x="566.69" y="951.68" width="11.72" height="23.02" fill="#B8A43A"/>
<rect x="578.11" y="951.68" width="11.72" height="23.02" fill="#0D0D14"/>
<rect x="589.53" y="951.68" width="11.72" height="23.02" fill="#1B1D48"/>
<rect x="600.95" y="951.68" width="11.72" height="23.02" fill="#483F1D"/>
<rect x="612.36" y="951.68" width="11.72" height="23.02" fill="#0D0D14"/>
<rect x="47.2" y="974.4" width="23.14" height="23.02" fill="#0D0D14"/>
<rect x="70.04" y="974.4" width="11.72" height="23.02" fill="#1B1D48"/>
<rect x="81.45" y="974.4" width="23.14" height="23.02" fill="#0D0D14"/>
<rect x="104.29" y="974.4" width="23.14" height="23.02" fill="#1B1D48"/>
<rect x="127.13" y="974.4" width="11.72" height="23.02" fill="#483F1D"/>
<rect x="138.54" y="974.4" width="11.72" height="23.02" fill="#282B6A"/>
<rect x="149.96" y="974.4" width="11.72" height="23.02" fill="#877A33"/>
<rect x="161.38" y="974.4" width="11.72" height="23.02" fill="#282B6A"/>
<rect x="172.8" y="974.4" width="11.72" height="23.02" fill="#1B1D48"/>
<rect x="189.92" y="974.4" width="11.72" height="23.02" fill="#877A33"/>
<rect x="201.33" y="974.4" width="11.72" height="23.02" fill="#483F1D"/>
<rect x="212.75" y="974.4" width="11.72" height="23.02" fill="#877A33"/>
<rect x="224.17" y="974.4" width="11.72" height="23.02" fill="#483F1D"/>
<rect x="235.59" y="974.4" width="11.72" height="23.02" fill="#E5D140"/>
<rect x="247.01" y="974.4" width="11.72" height="23.02" fill="#877A33"/>
<rect x="258.42" y="974.4" width="11.72" height="23.02" fill="#0D0D14"/>
<rect x="269.84" y="974.4" width="11.72" height="23.02" fill="#B8A43A"/>
<rect x="281.26" y="974.4" width="11.72" height="23.02" fill="#483F1D"/>
<rect x="292.68" y="974.4" width="11.72" height="23.02" fill="#0D0D14"/>
<rect x="304.1" y="974.4" width="11.72" height="23.02" fill="#877A33"/>
<rect x="315.51" y="974.4" width="11.72" height="23.02" fill="#0D0D14"/>
<rect x="326.93" y="974.4" width="11.72" height="23.02" fill="#282B6A"/>
<rect x="338.35" y="974.4" width="11.72" height="23.02" fill="#B8A43A"/>
<rect x="349.77" y="974.4" width="11.72" height="23.02" fill="#483F1D"/>
<rect x="366.89" y="974.4" width="11.72" height="23.02" fill="#1B1D48"/>
<rect x="378.3" y="974.4" width="45.97" height="23.02" fill="#0D0D14"/>
<rect x="423.98" y="974.4" width="11.72" height="23.02" fill="#1B1D48"/>
<rect x="435.39" y="974.4" width="23.14" height="23.02" fill="#0D0D14"/>
<rect x="458.23" y="974.4" width="11.72" height="23.02" fill="#282B6A"/>
<rect x="469.65" y="974.4" width="11.72" height="23.02" fill="#34398C"/>
<rect x="481.07" y="974.4" width="11.72" height="23.02" fill="#0D0D14"/>
<rect x="492.48" y="974.4" width="23.14" height="23.02" fill="#483F1D"/>
<rect x="515.32" y="974.4" width="11.72" height="23.02" fill="#0D0D14"/>
<rect x="526.74" y="974.4" width="11.72" height="23.02" fill="#34398C"/>
<rect x="538.16" y="974.4" width="11.72" height="23.02" fill="#0D0D14"/>
<rect x="555.27" y="974.4" width="11.72" height="23.02" fill="#282B6A"/>
<rect x="566.69" y="974.4" width="11.72" height="23.02" fill="#0D0D14"/>
<rect x="578.11" y="974.4" width="11.72" height="23.02" fill="#483F1D"/>
<rect x="589.53" y="974.4" width="11.72" height="23.02" fill="#1B1D48"/>
<rect x="600.95" y="974.4" width="11.72" height="23.02" fill="#877A33"/>
<rect x="612.36" y="974.4" width="11.72" height="23.02" fill="#0D0D14"/>
<rect x="47.2" y="997.12" width="45.97" height="23.02" fill="#0D0D14"/>
<rect x="92.87" y="997.12" width="23.14" height="23.02" fill="#483F1D"/>
<rect x="115.71" y="997.12" width="11.72" height="23.02" fill="#B8A43A"/>
<rect x="127.13" y="997.12" width="11.72" height="23.02" fill="#483F1D"/>
<rect x="138.54" y="997.12" width="11.72" height="23.02" fill="#0D0D14"/>
<rect x="149.96" y="997.12" width="11.72" height="23.02" fill="#34398C"/>
<rect x="161.38" y="997.12" width="11.72" height="23.02" fill="#1B1D48"/>
<rect x="172.8" y="997.12" width="11.72" height="23.02" fill="#483F1D"/>
<rect x="189.92" y="997.12" width="23.14" height="23.02" fill="#483F1D"/>
<rect x="212.75" y="997.12" width="11.72" height="23.02" fill="#B8A43A"/>
<rect x="224.17" y="997.12" width="11.72" height="23.02" fill="#483F1D"/>
<rect x="235.59" y="997.12" width="11.72" height="23.02" fill="#877A33"/>
<rect x="247.01" y="997.12" width="11.72" height="23.02" fill="#483F1D"/>
<rect x="258.42" y="997.12" width="11.72" height="23.02" fill="#34398C"/>
<rect x="269.84" y="997.12" width="34.55" height="23.02" fill="#877A33"/>
<rect x="304.1" y="997.12" width="11.72" height="23.02" fill="#B8A43A"/>
<rect x="315.51" y="997.12" width="11.72" height="23.02" fill="#0D0D14"/>
<rect x="326.93" y="997.12" width="11.72" height="23.02" fill="#1B1D48"/>
<rect x="338.35" y="997.12" width="23.14" height="23.02" fill="#0D0D14"/>
<rect x="366.89" y="997.12" width="34.55" height="23.02" fill="#0D0D14"/>
<rect x="401.14" y="997.12" width="11.72" height="23.02" fill="#483F1D"/>
<rect x="412.56" y="997.12" width="11.72" height="23.02" fill="#1B1D48"/>
<rect x="423.98" y="997.12" width="11.72" height="23.02" fill="#483F1D"/>
<rect x="435.39" y="997.12" width="23.14" height="23.02" fill="#0D0D14"/>
<rect x="458.23" y="997.12" width="11.72" height="23.02" fill="#1B1D48"/>
<rect x="469.65" y="997.12" width="11.72" height="23.02" fill="#34398C"/>
<rect x="481.07" y="997.12" width="34.55" height="23.02" fill="#0D0D14"/>
<rect x="515.32" y="997.12" width="34.55" height="23.02" fill="#282B6A"/>
<rect x="555.27" y="997.12" width="11.72" height="23.02" fill="#0D0D14"/>
<rect x="566.69" y="997.12" width="11.72" height="23.02" fill="#282B6A"/>
<rect x="578.11" y="997.12" width="23.14" height="23.02" fill="#483F1D"/>
<rect x="600.95" y="997.12" width="23.14" height="23.02" fill="#0D0D14"/>
<rect x="47.2" y="1019.84" width="11.72" height="23.02" fill="#483F1D"/>
<rect x="58.62" y="1019.84" width="68.81" height="23.02" fill="#0D0D14"/>
<rect x="127.13" y="1019.84" width="23.14" height="23.02" fill="#1B1D48"/>
<rect x="149.96" y="1019.84" width="11.72" height="23.02" fill="#34398C"/>
<rect x="161.38" y="1019.84" width="11.72" height="23.02" fill="#1B1D48"/>
<rect x="172.8" y="1019.84" width="11.72" height="23.02" fill="#34398C"/>
<rect x="189.92" y="1019.84" width="11.72" height="23.02" fill="#877A33"/>
<rect x="201.33" y="1019.84" width="11.72" height="23.02" fill="#B8A43A"/>
<rect x="212.75" y="1019.84" width="11.72" height="23.02" fill="#483F1D"/>
<rect x="224.17" y="1019.84" width="23.14" height="23.02" fill="#877A33"/>
<rect x="247.01" y="1019.84" width="11.72" height="23.02" fill="#483F1D"/>
<rect x="258.42" y="1019.84" width="11.72" height="23.02" fill="#0D0D14"/>
<rect x="269.84" y="1019.84" width="23.14" height="23.02" fill="#483F1D"/>
<rect x="292.68" y="1019.84" width="11.72" height="23.02" fill="#1B1D48"/>
<rect x="304.1" y="1019.84" width="11.72" height="23.02" fill="#0D0D14"/>
<rect x="315.51" y="1019.84" width="11.72" height="23.02" fill="#483F1D"/>
<rect x="326.93" y="1019.84" width="11.72" height="23.02" fill="#0D0D14"/>
<rect x="338.35" y="1019.84" width="11.72" height="23.02" fill="#B8A43A"/>
<rect x="349.77" y="1019.84" width="11.72" height="23.02" fill="#483F1D"/>
<rect x="366.89" y="1019.84" width="45.97" height="23.02" fill="#0D0D14"/>
<rect x="412.56" y="1019.84" width="11.72" height="23.02" fill="#1B1D48"/>
<rect x="423.98" y="1019.84" width="11.72" height="23.02" fill="#0D0D14"/>
<rect x="435.39" y="1019.84" width="11.72" height="23.02" fill="#1B1D48"/>
<rect x="446.81" y="1019.84" width="11.72" height="23.02" fill="#0D0D14"/>
<rect x="458.23" y="1019.84" width="34.55" height="23.02" fill="#34398C"/>
<rect x="492.48" y="1019.84" width="11.72" height="23.02" fill="#483F1D"/>
<rect x="503.9" y="1019.84" width="23.14" height="23.02" fill="#0D0D14"/>
<rect x="526.74" y="1019.84" width="23.14" height="23.02" fill="#1B1D48"/>
<rect x="555.27" y="1019.84" width="11.72" height="23.02" fill="#877A33"/>
<rect x="566.69" y="1019.84" width="34.55" height="23.02" fill="#483F1D"/>
<rect x="600.95" y="1019.84" width="11.72" height="23.02" fill="#1B1D48"/>
<rect x="612.36" y="1019.84" width="11.72" height="23.02" fill="#483F1D"/>
<rect x="47.2" y="1042.56" width="23.14" height="23.02" fill="#483F1D"/>
<rect x="70.04" y="1042.56" width="11.72" height="23.02" fill="#0D0D14"/>
<rect x="81.45" y="1042.56" width="11.72" height="23.02" fill="#483F1D"/>
<rect x="92.87" y="1042.56" width="23.14" height="23.02" fill="#282B6A"/>
<rect x="115.71" y="1042.56" width="11.72" height="23.02" fill="#0D0D14"/>
<rect x="127.13" y="1042.56" width="23.14" height="23.02" fill="#1B1D48"/>
<rect x="149.96" y="1042.56" width="11.72" height="23.02" fill="#34398C"/>
<rect x="161.38" y="1042.56" width="11.72" height="23.02" fill="#1B1D48"/>
<rect x="172.8" y="1042.56" width="11.72" height="23.02" fill="#34398C"/>
<rect x="189.92" y="1042.56" width="11.72" height="23.02" fill="#0D0D14"/>
<rect x="201.33" y="1042.56" width="11.72" height="23.02" fill="#B8A43A"/>
<rect x="212.75" y="1042.56" width="34.55" height="23.02" fill="#483F1D"/>
<rect x="247.01" y="1042.56" width="11.72" height="23.02" fill="#877A33"/>
<rect x="258.42" y="1042.56" width="11.72" height="23.02" fill="#34398C"/>
<rect x="269.84" y="1042.56" width="23.14" height="23.02" fill="#483F1D"/>
<rect x="292.68" y="1042.56" width="34.55" height="23.02" fill="#0D0D14"/>
<rect x="326.93" y="1042.56" width="11.72" height="23.02" fill="#1B1D48"/>
<rect x="338.35" y="1042.56" width="11.72" height="23.02" fill="#877A33"/>
<rect x="349.77" y="1042.56" width="11.72" height="23.02" fill="#0D0D14"/>
<rect x="366.89" y="1042.56" width="11.72" height="23.02" fill="#877A33"/>
<rect x="378.3" y="1042.56" width="11.72" height="23.02" fill="#1B1D48"/>
<rect x="389.72" y="1042.56" width="23.14" height="23.02" fill="#0D0D14"/>
<rect x="412.56" y="1042.56" width="11.72" height="23.02" fill="#483F1D"/>
<rect x="423.98" y="1042.56" width="23.14" height="23.02" fill="#0D0D14"/>
<rect x="446.81" y="1042.56" width="11.72" height="23.02" fill="#877A33"/>
<rect x="458.23" y="1042.56" width="23.14" height="23.02" fill="#282B6A"/>
<rect x="481.07" y="1042.56" width="11.72" height="23.02" fill="#1B1D48"/>
<rect x="492.48" y="1042.56" width="23.14" height="23.02" fill="#0D0D14"/>
<rect x="515.32" y="1042.56" width="11.72" height="23.02" fill="#B8A43A"/>
<rect x="526.74" y="1042.56" width="23.14" height="23.02" fill="#0D0D14"/>
<rect x="555.27" y="1042.56" width="11.72" height="23.02" fill="#0D0D14"/>
<rect x="566.69" y="1042.56" width="11.72" height="23.02" fill="#34398C"/>
<rect x="578.11" y="1042.56" width="11.72" height="23.02" fill="#B8A43A"/>
<rect x="589.53" y="1042.56" width="11.72" height="23.02" fill="#0D0D14"/>
<rect x="600.95" y="1042.56" width="11.72" height="23.02" fill="#483F1D"/>
<rect x="612.36" y="1042.56" width="11.72" height="23.02" fill="#B8A43A"/>
<rect x="12.1" y="1071.18" width="29.2" height="136.32" fill="#8491B4"/>
<rect x="47.2" y="1071.18" width="11.72" height="23.02" fill="#0D0D14"/>
<rect x="58.62" y="1071.18" width="23.14" height="23.02" fill="#483F1D"/>
<rect x="81.45" y="1071.18" width="11.72" height="23.02" fill="#0D0D14"/>
<rect x="92.87" y="1071.18" width="11.72" height="23.02" fill="#282B6A"/>
<rect x="104.29" y="1071.18" width="11.72" height="23.02" fill="#1B1D48"/>
<rect x="115.71" y="1071.18" width="11.72" height="23.02" fill="#877A33"/>
<rect x="127.13" y="1071.18" width="11.72" height="23.02" fill="#282B6A"/>
<rect x="138.54" y="1071.18" width="11.72" height="23.02" fill="#1B1D48"/>
<rect x="149.96" y="1071.18" width="23.14" height="23.02" fill="#0D0D14"/>
<rect x="172.8" y="1071.18" width="11.72" height="23.02" fill="#483F1D"/>
<rect x="189.92" y="1071.18" width="11.72" height="23.02" fill="#1B1D48"/>
<rect x="201.33" y="1071.18" width="11.72" height="23.02" fill="#483F1D"/>
<rect x="212.75" y="1071.18" width="34.55" height="23.02" fill="#1B1D48"/>
<rect x="247.01" y="1071.18" width="11.72" height="23.02" fill="#0D0D14"/>
<rect x="258.42" y="1071.18" width="11.72" height="23.02" fill="#B8A43A"/>
<rect x="269.84" y="1071.18" width="23.14" height="23.02" fill="#1B1D48"/>
<rect x="292.68" y="1071.18" width="11.72" height="23.02" fill="#282B6A"/>
<rect x="304.1" y="1071.18" width="23.14" height="23.02" fill="#0D0D14"/>
<rect x="326.93" y="1071.18" width="11.72" height="23.02" fill="#1B1D48"/>
<rect x="338.35" y="1071.18" width="11.72" height="23.02" fill="#483F1D"/>
<rect x="349.77" y="1071.18" width="11.72" height="23.02" fill="#282B6A"/>
<rect x="366.89" y="1071.18" width="11.72" height="23.02" fill="#877A33"/>
<rect x="378.3" y="1071.18" width="11.72" height="23.02" fill="#0D0D14"/>
<rect x="389.72" y="1071.18" width="11.72" height="23.02" fill="#1B1D48"/>
<rect x="401.14" y="1071.18" width="23.14" height="23.02" fill="#483F1D"/>
<rect x="423.98" y="1071.18" width="11.72" height="23.02" fill="#0D0D14"/>
<rect x="435.39" y="1071.18" width="11.72" height="23.02" fill="#1B1D48"/>
<rect x="446.81" y="1071.18" width="11.72" height="23.02" fill="#0D0D14"/>
<rect x="458.23" y="1071.18" width="11.72" height="23.02" fill="#483F1D"/>
<rect x="469.65" y="1071.18" width="11.72" height="23.02" fill="#0D0D14"/>
<rect x="481.07" y="1071.18" width="11.72" height="23.02" fill="#1B1D48"/>
<rect x="492.48" y="1071.18" width="11.72" height="23.02" fill="#483F1D"/>
<rect x="503.9" y="1071.18" width="23.14" height="23.02" fill="#0D0D14"/>
<rect x="526.74" y="1071.18" width="11.72" height="23.02" fill="#B8A43A"/>
<rect x="538.16" y="1071.18" width="11.72" height="23.02" fill="#483F1D"/>
<rect x="555.27" y="1071.18" width="11.72" height="23.02" fill="#0D0D14"/>
<rect x="566.69" y="1071.18" width="11.72" height="23.02" fill="#E5D140"/>
<rect x="578.11" y="1071.18" width="11.72" height="23.02" fill="#B8A43A"/>
<rect x="589.53" y="1071.18" width="11.72" height="23.02" fill="#877A33"/>
<rect x="600.95" y="1071.18" width="11.72" height="23.02" fill="#483F1D"/>
<rect x="612.36" y="1071.18" width="11.72" height="23.02" fill="#B8A43A"/>
<rect x="47.2" y="1093.9" width="11.72" height="23.02" fill="#0D0D14"/>
<rect x="58.62" y="1093.9" width="11.72" height="23.02" fill="#E5D140"/>
<rect x="70.04" y="1093.9" width="11.72" height="23.02" fill="#B8A43A"/>
<rect x="81.45" y="1093.9" width="11.72" height="23.02" fill="#0D0D14"/>
<rect x="92.87" y="1093.9" width="11.72" height="23.02" fill="#282B6A"/>
<rect x="104.29" y="1093.9" width="11.72" height="23.02" fill="#0D0D14"/>
<rect x="115.71" y="1093.9" width="11.72" height="23.02" fill="#483F1D"/>
<rect x="127.13" y="1093.9" width="11.72" height="23.02" fill="#34398C"/>
<rect x="138.54" y="1093.9" width="11.72" height="23.02" fill="#483F1D"/>
<rect x="149.96" y="1093.9" width="11.72" height="23.02" fill="#1B1D48"/>
<rect x="161.38" y="1093.9" width="11.72" height="23.02" fill="#0D0D14"/>
<rect x="172.8" y="1093.9" width="11.72" height="23.02" fill="#B8A43A"/>
<rect x="189.92" y="1093.9" width="11.72" height="23.02" fill="#0D0D14"/>
<rect x="201.33" y="1093.9" width="23.14" height="23.02" fill="#1B1D48"/>
<rect x="224.17" y="1093.9" width="23.14" height="23.02" fill="#0D0D14"/>
<rect x="247.01" y="1093.9" width="23.14" height="23.02" fill="#282B6A"/>
<rect x="269.84" y="1093.9" width="11.72" height="23.02" fill="#0D0D14"/>
<rect x="281.26" y="1093.9" width="23.14" height="23.02" fill="#1B1D48"/>
<rect x="304.1" y="1093.9" width="11.72" height="23.02" fill="#0D0D14"/>
<rect x="315.51" y="1093.9" width="11.72" height="23.02" fill="#1B1D48"/>
<rect x="326.93" y="1093.9" width="11.72" height="23.02" fill="#282B6A"/>
<rect x="338.35" y="1093.9" width="11.72" height="23.02" fill="#0D0D14"/>
<rect x="349.77" y="1093.9" width="11.72" height="23.02" fill="#1B1D48"/>
<rect x="366.89" y="1093.9" width="34.55" height="23.02" fill="#0D0D14"/>
<rect x="401.14" y="1093.9" width="34.55" height="23.02" fill="#483F1D"/>
<rect x="435.39" y="1093.9" width="11.72" height="23.02" fill="#877A33"/>
<rect x="446.81" y="1093.9" width="11.72" height="23.02" fill="#483F1D"/>
<rect x="458.23" y="1093.9" width="11.72" height="23.02" fill="#1B1D48"/>
<rect x="469.65" y="1093.9" width="23.14" height="23.02" fill="#483F1D"/>
<rect x="492.48" y="1093.9" width="11.72" height="23.02" fill="#B8A43A"/>
<rect x="503.9" y="1093.9" width="11.72" height="23.02" fill="#483F1D"/>
<rect x="515.32" y="1093.9" width="11.72" height="23.02" fill="#0D0D14"/>
<rect x="526.74" y="1093.9" width="11.72" height="23.02" fill="#877A33"/>
<rect x="538.16" y="1093.9" width="11.72" height="23.02" fill="#0D0D14"/>
<rect x="555.27" y="1093.9" width="23.14" height="23.02" fill="#1B1D48"/>
<rect x="578.11" y="1093.9" width="11.72" height="23.02" fill="#E5D140"/>
<rect x="589.53" y="1093.9" width="34.55" height="23.02" fill="#0D0D14"/>
<rect x="47.2" y="1116.62" width="11.72" height="23.02" fill="#0D0D14"/>
<rect x="58.62" y="1116.62" width="23.14" height="23.02" fill="#877A33"/>
<rect x="81.45" y="1116.62" width="23.14" height="23.02" fill="#0D0D14"/>
<rect x="104.29" y="1116.62" width="11.72" height="23.02" fill="#1B1D48"/>
<rect x="115.71" y="1116.62" width="11.72" height="23.02" fill="#483F1D"/>
<rect x="127.13" y="1116.62" width="45.97" height="23.02" fill="#1B1D48"/>
<rect x="172.8" y="1116.62" width="11.72" height="23.02" fill="#877A33"/>
<rect x="189.92" y="1116.62" width="23.14" height="23.02" fill="#0D0D14"/>
<rect x="212.75" y="1116.62" width="11.72" height="23.02" fill="#1B1D48"/>
<rect x="224.17" y="1116.62" width="11.72" height="23.02" fill="#0D0D14"/>
<rect x="235.59" y="1116.62" width="23.14" height="23.02" fill="#1B1D48"/>
<rect x="258.42" y="1116.62" width="11.72" height="23.02" fill="#282B6A"/>
<rect x="269.84" y="1116.62" width="11.72" height="23.02" fill="#1B1D48"/>
<rect x="281.26" y="1116.62" width="11.72" height="23.02" fill="#282B6A"/>
<rect x="292.68" y="1116.62" width="11.72" height="23.02" fill="#34398C"/>
<rect x="304.1" y="1116.62" width="23.14" height="23.02" fill="#0D0D14"/>
<rect x="326.93" y="1116.62" width="34.55" height="23.02" fill="#1B1D48"/>
<rect x="366.89" y="1116.62" width="11.72" height="23.02" fill="#B8A43A"/>
<rect x="378.3" y="1116.62" width="11.72" height="23.02" fill="#0D0D14"/>
<rect x="389.72" y="1116.62" width="23.14" height="23.02" fill="#483F1D"/>
<rect x="412.56" y="1116.62" width="11.72" height="23.02" fill="#E5D140"/>
<rect x="423.98" y="1116.62" width="11.72" height="23.02" fill="#483F1D"/>
<rect x="435.39" y="1116.62" width="23.14" height="23.02" fill="#0D0D14"/>
<rect x="458.23" y="1116.62" width="23.14" height="23.02" fill="#483F1D"/>
<rect x="481.07" y="1116.62" width="11.72" height="23.02" fill="#0D0D14"/>
<rect x="492.48" y="1116.62" width="11.72" height="23.02" fill="#483F1D"/>
<rect x="503.9" y="1116.62" width="11.72" height="23.02" fill="#0D0D14"/>
<rect x="515.32" y="1116.62" width="11.72" height="23.02" fill="#483F1D"/>
<rect x="526.74" y="1116.62" width="11.72" height="23.02" fill="#B8A43A"/>
<rect x="538.16" y="1116.62" width="11.72" height="23.02" fill="#483F1D"/>
<rect x="555.27" y="1116.62" width="11.72" height="23.02" fill="#B8A43A"/>
<rect x="566.69" y="1116.62" width="11.72" height="23.02" fill="#34398C"/>
<rect x="578.11" y="1116.62" width="11.72" height="23.02" fill="#877A33"/>
<rect x="589.53" y="1116.62" width="11.72" height="23.02" fill="#483F1D"/>
<rect x="600.95" y="1116.62" width="11.72" height="23.02" fill="#877A33"/>
<rect x="612.36" y="1116.62" width="11.72" height="23.02" fill="#0D0D14"/>
<rect x="47.2" y="1139.34" width="11.72" height="23.02" fill="#1B1D48"/>
<rect x="58.62" y="1139.34" width="11.72" height="23.02" fill="#B8A43A"/>
<rect x="70.04" y="1139.34" width="11.72" height="23.02" fill="#877A33"/>
<rect x="81.45" y="1139.34" width="11.72" height="23.02" fill="#0D0D14"/>
<rect x="92.87" y="1139.34" width="11.72" height="23.02" fill="#483F1D"/>
<rect x="104.29" y="1139.34" width="23.14" height="23.02" fill="#0D0D14"/>
<rect x="127.13" y="1139.34" width="11.72" height="23.02" fill="#1B1D48"/>
<rect x="138.54" y="1139.34" width="11.72" height="23.02" fill="#0D0D14"/>
<rect x="149.96" y="1139.34" width="11.72" height="23.02" fill="#1B1D48"/>
<rect x="161.38" y="1139.34" width="23.14" height="23.02" fill="#483F1D"/>
<rect x="189.92" y="1139.34" width="11.72" height="23.02" fill="#282B6A"/>
<rect x="201.33" y="1139.34" width="23.14" height="23.02" fill="#1B1D48"/>
<rect x="224.17" y="1139.34" width="11.72" height="23.02" fill="#0D0D14"/>
<rect x="235.59" y="1139.34" width="11.72" height="23.02" fill="#282B6A"/>
<rect x="247.01" y="1139.34" width="11.72" height="23.02" fill="#1B1D48"/>
<rect x="258.42" y="1139.34" width="11.72" height="23.02" fill="#282B6A"/>
<rect x="269.84" y="1139.34" width="11.72" height="23.02" fill="#1B1D48"/>
<rect x="281.26" y="1139.34" width="11.72" height="23.02" fill="#34398C"/>
<rect x="292.68" y="1139.34" width="11.72" height="23.02" fill="#1B1D48"/>
<rect x="304.1" y="1139.34" width="45.97" height="23.02" fill="#0D0D14"/>
<rect x="349.77" y="1139.34" width="11.72" height="23.02" fill="#1B1D48"/>
<rect x="366.89" y="1139.34" width="11.72" height="23.02" fill="#B8A43A"/>
<rect x="378.3" y="1139.34" width="11.72" height="23.02" fill="#0D0D14"/>
<rect x="389.72" y="1139.34" width="23.14" height="23.02" fill="#483F1D"/>
<rect x="412.56" y="1139.34" width="11.72" height="23.02" fill="#B8A43A"/>
<rect x="423.98" y="1139.34" width="11.72" height="23.02" fill="#0D0D14"/>
<rect x="435.39" y="1139.34" width="11.72" height="23.02" fill="#483F1D"/>
<rect x="446.81" y="1139.34" width="11.72" height="23.02" fill="#0D0D14"/>
<rect x="458.23" y="1139.34" width="23.14" height="23.02" fill="#B8A43A"/>
<rect x="481.07" y="1139.34" width="23.14" height="23.02" fill="#0D0D14"/>
<rect x="503.9" y="1139.34" width="23.14" height="23.02" fill="#1B1D48"/>
<rect x="526.74" y="1139.34" width="11.72" height="23.02" fill="#483F1D"/>
<rect x="538.16" y="1139.34" width="11.72" height="23.02" fill="#0D0D14"/>
<rect x="555.27" y="1139.34" width="11.72" height="23.02" fill="#877A33"/>
<rect x="566.69" y="1139.34" width="11.72" height="23.02" fill="#0D0D14"/>
<rect x="578.11" y="1139.34" width="11.72" height="23.02" fill="#B8A43A"/>
<rect x="589.53" y="1139.34" width="34.55" height="23.02" fill="#877A33"/>
<rect x="47.2" y="1162.06" width="11.72" height="23.02" fill="#1B1D48"/>
<rect x="58.62" y="1162.06" width="11.72" height="23.02" fill="#B8A43A"/>
<rect x="70.04" y="1162.06" width="11.72" height="23.02" fill="#483F1D"/>
<rect x="81.45" y="1162.06" width="11.72" height="23.02" fill="#0D0D14"/>
<rect x="92.87" y="1162.06" width="11.72" height="23.02" fill="#1B1D48"/>
<rect x="104.29" y="1162.06" width="11.72" height="23.02" fill="#34398C"/>
<rect x="115.71" y="1162.06" width="11.72" height="23.02" fill="#0D0D14"/>
<rect x="127.13" y="1162.06" width="11.72" height="23.02" fill="#282B6A"/>
<rect x="138.54" y="1162.06" width="11.72" height="23.02" fill="#1B1D48"/>
<rect x="149.96" y="1162.06" width="11.72" height="23.02" fill="#483F1D"/>
<rect x="161.38" y="1162.06" width="11.72" height="23.02" fill="#0D0D14"/>
<rect x="172.8" y="1162.06" width="11.72" height="23.02" fill="#483F1D"/>
<rect x="189.92" y="1162.06" width="11.72" height="23.02" fill="#0D0D14"/>
<rect x="201.33" y="1162.06" width="11.72" height="23.02" fill="#1B1D48"/>
<rect x="212.75" y="1162.06" width="11.72" height="23.02" fill="#282B6A"/>
<rect x="224.17" y="1162.06" width="11.72" height="23.02" fill="#0D0D14"/>
<rect x="235.59" y="1162.06" width="34.55" height="23.02" fill="#1B1D48"/>
<rect x="269.84" y="1162.06" width="23.14" height="23.02" fill="#0D0D14"/>
<rect x="292.68" y="1162.06" width="11.72" height="23.02" fill="#1B1D48"/>
<rect x="304.1" y="1162.06" width="34.55" height="23.02" fill="#0D0D14"/>
<rect x="338.35" y="1162.06" width="23.14" height="23.02" fill="#1B1D48"/>
<rect x="366.89" y="1162.06" width="11.72" height="23.02" fill="#E5D140"/>
<rect x="378.3" y="1162.06" width="11.72" height="23.02" fill="#282B6A"/>
<rect x="389.72" y="1162.06" width="11.72" height="23.02" fill="#0D0D14"/>
<rect x="401.14" y="1162.06" width="11.72" height="23.02" fill="#B8A43A"/>
<rect x="412.56" y="1162.06" width="11.72" height="23.02" fill="#483F1D"/>
<rect x="423.98" y="1162.06" width="11.72" height="23.02" fill="#1B1D48"/>
<rect x="435.39" y="1162.06" width="23.14" height="23.02" fill="#0D0D14"/>
<rect x="458.23" y="1162.06" width="11.72" height="23.02" fill="#E5D140"/>
<rect x="469.65" y="1162.06" width="11.72" height="23.02" fill="#B8A43A"/>
<rect x="481.07" y="1162.06" width="11.72" height="23.02" fill="#483F1D"/>
<rect x="492.48" y="1162.06" width="11.72" height="23.02" fill="#877A33"/>
<rect x="503.9" y="1162.06" width="45.97" height="23.02" fill="#0D0D14"/>
<rect x="555.27" y="1162.06" width="11.72" height="23.02" fill="#1B1D48"/>
<rect x="566.69" y="1162.06" width="11.72" height="23.02" fill="#0D0D14"/>
<rect x="578.11" y="1162.06" width="11.72" height="23.02" fill="#E5D140"/>
<rect x="589.53" y="1162.06" width="23.14" height="23.02" fill="#877A33"/>
<rect x="612.36" y="1162.06" width="11.72" height="23.02" fill="#0D0D14"/>
<rect x="47.2" y="1184.78" width="11.72" height="23.02" fill="#1B1D48"/>
<rect x="58.62" y="1184.78" width="23.14" height="23.02" fill="#877A33"/>
<rect x="81.45" y="1184.78" width="23.14" height="23.02" fill="#0D0D14"/>
<rect x="104.29" y="1184.78" width="11.72" height="23.02" fill="#1B1D48"/>
<rect x="115.71" y="1184.78" width="11.72" height="23.02" fill="#34398C"/>
<rect x="127.13" y="1184.78" width="11.72" height="23.02" fill="#282B6A"/>
<rect x="138.54" y="1184.78" width="11.72" height="23.02" fill="#1B1D48"/>
<rect x="149.96" y="1184.78" width="34.55" height="23.02" fill="#0D0D14"/>
<rect x="189.92" y="1184.78" width="11.72" height="23.02" fill="#0D0D14"/>
<rect x="201.33" y="1184.78" width="11.72" height="23.02" fill="#1B1D48"/>
<rect x="212.75" y="1184.78" width="11.72" height="23.02" fill="#483F1D"/>
<rect x="224.17" y="1184.78" width="23.14" height="23.02" fill="#0D0D14"/>
<rect x="247.01" y="1184.78" width="11.72" height="23.02" fill="#282B6A"/>
<rect x="258.42" y="1184.78" width="11.72" height="23.02" fill="#0D0D14"/>
<rect x="269.84" y="1184.78" width="11.72" height="23.02" fill="#1B1D48"/>
<rect x="281.26" y="1184.78" width="11.72" height="23.02" fill="#282B6A"/>
<rect x="292.68" y="1184.78" width="23.14" height="23.02" fill="#1B1D48"/>
<rect x="315.51" y="1184.78" width="11.72" height="23.02" fill="#0D0D14"/>
<rect x="326.93" y="1184.78" width="11.72" height="23.02" fill="#B8A43A"/>
<rect x="338.35" y="1184.78" width="11.72" height="23.02" fill="#0D0D14"/>
<rect x="349.77" y="1184.78" width="11.72" height="23.02" fill="#1B1D48"/>
<rect x="366.89" y="1184.78" width="11.72" height="23.02" fill="#B8A43A"/>
<rect x="378.3" y="1184.78" width="23.14" height="23.02" fill="#483F1D"/>
<rect x="401.14" y="1184.78" width="11.72" height="23.02" fill="#0D0D14"/>
<rect x="412.56" y="1184.78" width="11.72" height="23.02" fill="#E5D140"/>
<rect x="423.98" y="1184.78" width="11.72" height="23.02" fill="#0D0D14"/>
<rect x="435.39" y="1184.78" width="11.72" height="23.02" fill="#483F1D"/>
<rect x="446.81" y="1184.78" width="11.72" height="23.02" fill="#0D0D14"/>
<rect x="458.23" y="1184.78" width="11.72" height="23.02" fill="#B8A43A"/>
<rect x="469.65" y="1184.78" width="11.72" height="23.02" fill="#E5D140"/>
<rect x="481.07" y="1184.78" width="11.72" height="23.02" fill="#1B1D48"/>
<rect x="492.48" y="1184.78" width="11.72" height="23.02" fill="#0D0D14"/>
<rect x="503.9" y="1184.78" width="11.72" height="23.02" fill="#483F1D"/>
<rect x="515.32" y="1184.78" width="11.72" height="23.02" fill="#1B1D48"/>
<rect x="526.74" y="1184.78" width="11.72" height="23.02" fill="#0D0D14"/>
<rect x="538.16" y="1184.78" width="11.72" height="23.02" fill="#483F1D"/>
<rect x="555.27" y="1184.78" width="11.72" height="23.02" fill="#1B1D48"/>
<rect x="566.69" y="1184.78" width="11.72" height="23.02" fill="#0D0D14"/>
<rect x="578.11" y="1184.78" width="11.72" height="23.02" fill="#483F1D"/>
<rect x="589.53" y="1184.78" width="11.72" height="23.02" fill="#1B1D48"/>
<rect x="600.95" y="1184.78" width="11.72" height="23.02" fill="#483F1D"/>
<rect x="612.36" y="1184.78" width="11.72" height="23.02" fill="#282B6A"/>
<rect x="12.1" y="1213.4" width="29.2" height="113.6" fill="#9AD4BF"/>
<rect x="47.2" y="1213.4" width="11.72" height="23.02" fill="#0D0D14"/>
<rect x="58.62" y="1213.4" width="11.72" height="23.02" fill="#B8A43A"/>
<rect x="70.04" y="1213.4" width="11.72" height="23.02" fill="#E5D140"/>
<rect x="81.45" y="1213.4" width="11.72" height="23.02" fill="#1B1D48"/>
<rect x="92.87" y="1213.4" width="23.14" height="23.02" fill="#0D0D14"/>
<rect x="115.71" y="1213.4" width="11.72" height="23.02" fill="#1B1D48"/>
<rect x="127.13" y="1213.4" width="11.72" height="23.02" fill="#E5D140"/>
<rect x="138.54" y="1213.4" width="11.72" height="23.02" fill="#877A33"/>
<rect x="149.96" y="1213.4" width="11.72" height="23.02" fill="#0D0D14"/>
<rect x="161.38" y="1213.4" width="11.72" height="23.02" fill="#282B6A"/>
<rect x="172.8" y="1213.4" width="11.72" height="23.02" fill="#B8A43A"/>
<rect x="189.92" y="1213.4" width="11.72" height="23.02" fill="#0D0D14"/>
<rect x="201.33" y="1213.4" width="11.72" height="23.02" fill="#1B1D48"/>
<rect x="212.75" y="1213.4" width="11.72" height="23.02" fill="#877A33"/>
<rect x="224.17" y="1213.4" width="11.72" height="23.02" fill="#0D0D14"/>
<rect x="235.59" y="1213.4" width="11.72" height="23.02" fill="#483F1D"/>
<rect x="247.01" y="1213.4" width="23.14" height="23.02" fill="#0D0D14"/>
<rect x="269.84" y="1213.4" width="11.72" height="23.02" fill="#1B1D48"/>
<rect x="281.26" y="1213.4" width="11.72" height="23.02" fill="#282B6A"/>
<rect x="292.68" y="1213.4" width="11.72" height="23.02" fill="#1B1D48"/>
<rect x="304.1" y="1213.4" width="11.72" height="23.02" fill="#0D0D14"/>
<rect x="315.51" y="1213.4" width="23.14" height="23.02" fill="#1B1D48"/>
<rect x="338.35" y="1213.4" width="11.72" height="23.02" fill="#282B6A"/>
<rect x="349.77" y="1213.4" width="11.72" height="23.02" fill="#1B1D48"/>
<rect x="366.89" y="1213.4" width="11.72" height="23.02" fill="#B8A43A"/>
<rect x="378.3" y="1213.4" width="23.14" height="23.02" fill="#0D0D14"/>
<rect x="401.14" y="1213.4" width="11.72" height="23.02" fill="#1B1D48"/>
<rect x="412.56" y="1213.4" width="11.72" height="23.02" fill="#0D0D14"/>
<rect x="423.98" y="1213.4" width="11.72" height="23.02" fill="#1B1D48"/>
<rect x="435.39" y="1213.4" width="11.72" height="23.02" fill="#0D0D14"/>
<rect x="446.81" y="1213.4" width="11.72" height="23.02" fill="#1B1D48"/>
<rect x="458.23" y="1213.4" width="11.72" height="23.02" fill="#483F1D"/>
<rect x="469.65" y="1213.4" width="11.72" height="23.02" fill="#877A33"/>
<rect x="481.07" y="1213.4" width="11.72" height="23.02" fill="#B8A43A"/>
<rect x="492.48" y="1213.4" width="11.72" height="23.02" fill="#282B6A"/>
<rect x="503.9" y="1213.4" width="11.72" height="23.02" fill="#877A33"/>
<rect x="515.32" y="1213.4" width="11.72" height="23.02" fill="#0D0D14"/>
<rect x="526.74" y="1213.4" width="11.72" height="23.02" fill="#877A33"/>
<rect x="538.16" y="1213.4" width="11.72" height="23.02" fill="#1B1D48"/>
<rect x="555.27" y="1213.4" width="23.14" height="23.02" fill="#1B1D48"/>
<rect x="578.11" y="1213.4" width="34.55" height="23.02" fill="#0D0D14"/>
<rect x="612.36" y="1213.4" width="11.72" height="23.02" fill="#282B6A"/>
<rect x="47.2" y="1236.12" width="23.14" height="23.02" fill="#0D0D14"/>
<rect x="70.04" y="1236.12" width="11.72" height="23.02" fill="#B8A43A"/>
<rect x="81.45" y="1236.12" width="11.72" height="23.02" fill="#483F1D"/>
<rect x="92.87" y="1236.12" width="23.14" height="23.02" fill="#1B1D48"/>
<rect x="115.71" y="1236.12" width="11.72" height="23.02" fill="#E5D140"/>
<rect x="127.13" y="1236.12" width="11.72" height="23.02" fill="#B8A43A"/>
<rect x="138.54" y="1236.12" width="11.72" height="23.02" fill="#0D0D14"/>
<rect x="149.96" y="1236.12" width="11.72" height="23.02" fill="#877A33"/>
<rect x="161.38" y="1236.12" width="11.72" height="23.02" fill="#483F1D"/>
<rect x="172.8" y="1236.12" width="11.72" height="23.02" fill="#B8A43A"/>
<rect x="189.92" y="1236.12" width="23.14" height="23.02" fill="#1B1D48"/>
<rect x="212.75" y="1236.12" width="23.14" height="23.02" fill="#0D0D14"/>
<rect x="235.59" y="1236.12" width="11.72" height="23.02" fill="#483F1D"/>
<rect x="247.01" y="1236.12" width="23.14" height="23.02" fill="#877A33"/>
<rect x="269.84" y="1236.12" width="34.55" height="23.02" fill="#1B1D48"/>
<rect x="304.1" y="1236.12" width="23.14" height="23.02" fill="#0D0D14"/>
<rect x="326.93" y="1236.12" width="11.72" height="23.02" fill="#1B1D48"/>
<rect x="338.35" y="1236.12" width="11.72" height="23.02" fill="#0D0D14"/>
<rect x="349.77" y="1236.12" width="11.72" height="23.02" fill="#282B6A"/>
<rect x="366.89" y="1236.12" width="23.14" height="23.02" fill="#0D0D14"/>
<rect x="389.72" y="1236.12" width="11.72" height="23.02" fill="#B8A43A"/>
<rect x="401.14" y="1236.12" width="11.72" height="23.02" fill="#34398C"/>
<rect x="412.56" y="1236.12" width="11.72" height="23.02" fill="#1B1D48"/>
<rect x="423.98" y="1236.12" width="11.72" height="23.02" fill="#0D0D14"/>
<rect x="435.39" y="1236.12" width="11.72" height="23.02" fill="#1B1D48"/>
<rect x="446.81" y="1236.12" width="11.72" height="23.02" fill="#282B6A"/>
<rect x="458.23" y="1236.12" width="34.55" height="23.02" fill="#0D0D14"/>
<rect x="492.48" y="1236.12" width="11.72" height="23.02" fill="#1B1D48"/>
<rect x="503.9" y="1236.12" width="11.72" height="23.02" fill="#0D0D14"/>
<rect x="515.32" y="1236.12" width="11.72" height="23.02" fill="#B8A43A"/>
<rect x="526.74" y="1236.12" width="11.72" height="23.02" fill="#483F1D"/>
<rect x="538.16" y="1236.12" width="11.72" height="23.02" fill="#0D0D14"/>
<rect x="555.27" y="1236.12" width="11.72" height="23.02" fill="#282B6A"/>
<rect x="566.69" y="1236.12" width="11.72" height="23.02" fill="#877A33"/>
<rect x="578.11" y="1236.12" width="45.97" height="23.02" fill="#0D0D14"/>
<rect x="47.2" y="1258.84" width="11.72" height="23.02" fill="#1B1D48"/>
<rect x="58.62" y="1258.84" width="11.72" height="23.02" fill="#0D0D14"/>
<rect x="70.04" y="1258.84" width="11.72" height="23.02" fill="#B8A43A"/>
<rect x="81.45" y="1258.84" width="23.14" height="23.02" fill="#1B1D48"/>
<rect x="104.29" y="1258.84" width="11.72" height="23.02" fill="#0D0D14"/>
<rect x="115.71" y="1258.84" width="11.72" height="23.02" fill="#282B6A"/>
<rect x="127.13" y="1258.84" width="11.72" height="23.02" fill="#483F1D"/>
<rect x="138.54" y="1258.84" width="11.72" height="23.02" fill="#877A33"/>
<rect x="149.96" y="1258.84" width="11.72" height="23.02" fill="#0D0D14"/>
<rect x="161.38" y="1258.84" width="11.72" height="23.02" fill="#1B1D48"/>
<rect x="172.8" y="1258.84" width="11.72" height="23.02" fill="#E5D140"/>
<rect x="189.92" y="1258.84" width="68.81" height="23.02" fill="#0D0D14"/>
<rect x="258.42" y="1258.84" width="45.97" height="23.02" fill="#1B1D48"/>
<rect x="304.1" y="1258.84" width="11.72" height="23.02" fill="#483F1D"/>
<rect x="315.51" y="1258.84" width="45.97" height="23.02" fill="#0D0D14"/>
<rect x="366.89" y="1258.84" width="11.72" height="23.02" fill="#1B1D48"/>
<rect x="378.3" y="1258.84" width="11.72" height="23.02" fill="#0D0D14"/>
<rect x="389.72" y="1258.84" width="11.72" height="23.02" fill="#483F1D"/>
<rect x="401.14" y="1258.84" width="11.72" height="23.02" fill="#282B6A"/>
<rect x="412.56" y="1258.84" width="11.72" height="23.02" fill="#1B1D48"/>
<rect x="423.98" y="1258.84" width="11.72" height="23.02" fill="#877A33"/>
<rect x="435.39" y="1258.84" width="11.72" height="23.02" fill="#1B1D48"/>
<rect x="446.81" y="1258.84" width="11.72" height="23.02" fill="#0D0D14"/>
<rect x="458.23" y="1258.84" width="11.72" height="23.02" fill="#483F1D"/>
<rect x="469.65" y="1258.84" width="11.72" height="23.02" fill="#B8A43A"/>
<rect x="481.07" y="1258.84" width="11.72" height="23.02" fill="#0D0D14"/>
<rect x="492.48" y="1258.84" width="11.72" height="23.02" fill="#1B1D48"/>
<rect x="503.9" y="1258.84" width="11.72" height="23.02" fill="#0D0D14"/>
<rect x="515.32" y="1258.84" width="23.14" height="23.02" fill="#E5D140"/>
<rect x="538.16" y="1258.84" width="11.72" height="23.02" fill="#877A33"/>
<rect x="555.27" y="1258.84" width="23.14" height="23.02" fill="#0D0D14"/>
<rect x="578.11" y="1258.84" width="11.72" height="23.02" fill="#1B1D48"/>
<rect x="589.53" y="1258.84" width="11.72" height="23.02" fill="#483F1D"/>
<rect x="600.95" y="1258.84" width="23.14" height="23.02" fill="#1B1D48"/>
<rect x="47.2" y="1281.56" width="23.14" height="23.02" fill="#877A33"/>
<rect x="70.04" y="1281.56" width="11.72" height="23.02" fill="#E5D140"/>
<rect x="81.45" y="1281.56" width="11.72" height="23.02" fill="#483F1D"/>
<rect x="92.87" y="1281.56" width="11.72" height="23.02" fill="#0D0D14"/>
<rect x="104.29" y="1281.56" width="11.72" height="23.02" fill="#E5D140"/>
<rect x="115.71" y="1281.56" width="23.14" height="23.02" fill="#483F1D"/>
<rect x="138.54" y="1281.56" width="11.72" height="23.02" fill="#0D0D14"/>
<rect x="149.96" y="1281.56" width="11.72" height="23.02" fill="#E5D140"/>
<rect x="161.38" y="1281.56" width="11.72" height="23.02" fill="#1B1D48"/>
<rect x="172.8" y="1281.56" width="11.72" height="23.02" fill="#0D0D14"/>
<rect x="189.92" y="1281.56" width="57.39" height="23.02" fill="#1B1D48"/>
<rect x="247.01" y="1281.56" width="23.14" height="23.02" fill="#0D0D14"/>
<rect x="269.84" y="1281.56" width="34.55" height="23.02" fill="#1B1D48"/>
<rect x="304.1" y="1281.56" width="11.72" height="23.02" fill="#483F1D"/>
<rect x="315.51" y="1281.56" width="11.72" height="23.02" fill="#1B1D48"/>
<rect x="326.93" y="1281.56" width="11.72" height="23.02" fill="#0D0D14"/>
<rect x="338.35" y="1281.56" width="23.14" height="23.02" fill="#1B1D48"/>
<rect x="366.89" y="1281.56" width="34.55" height="23.02" fill="#0D0D14"/>
<rect x="401.14" y="1281.56" width="11.72" height="23.02" fill="#1B1D48"/>
<rect x="412.56" y="1281.56" width="11.72" height="23.02" fill="#0D0D14"/>
<rect x="423.98" y="1281.56" width="23.14" height="23.02" fill="#1B1D48"/>
<rect x="446.81" y="1281.56" width="11.72" height="23.02" fill="#0D0D14"/>
<rect x="458.23" y="1281.56" width="23.14" height="23.02" fill="#877A33"/>
<rect x="481.07" y="1281.56" width="11.72" height="23.02" fill="#0D0D14"/>
<rect x="492.48" y="1281.56" width="34.55" height="23.02" fill="#1B1D48"/>
<rect x="526.74" y="1281.56" width="11.72" height="23.02" fill="#877A33"/>
<rect x="538.16" y="1281.56" width="11.72" height="23.02" fill="#0D0D14"/>
<rect x="555.27" y="1281.56" width="11.72" height="23.02" fill="#1B1D48"/>
<rect x="566.69" y="1281.56" width="11.72" height="23.02" fill="#0D0D14"/>
<rect x="578.11" y="1281.56" width="34.55" height="23.02" fill="#483F1D"/>
<rect x="612.36" y="1281.56" width="11.72" height="23.02" fill="#1B1D48"/>
<rect x="47.2" y="1304.28" width="11.72" height="23.02" fill="#E5D140"/>
<rect x="58.62" y="1304.28" width="11.72" height="23.02" fill="#B8A43A"/>
<rect x="70.04" y="1304.28" width="23.14" height="23.02" fill="#483F1D"/>
<rect x="92.87" y="1304.28" width="23.14" height="23.02" fill="#0D0D14"/>
<rect x="115.71" y="1304.28" width="11.72" height="23.02" fill="#1B1D48"/>
<rect x="127.13" y="1304.28" width="23.14" height="23.02" fill="#B8A43A"/>
<rect x="149.96" y="1304.28" width="11.72" height="23.02" fill="#1B1D48"/>
<rect x="161.38" y="1304.28" width="11.72" height="23.02" fill="#0D0D14"/>
<rect x="172.8" y="1304.28" width="11.72" height="23.02" fill="#483F1D"/>
<rect x="189.92" y="1304.28" width="11.72" height="23.02" fill="#0D0D14"/>
<rect x="201.33" y="1304.28" width="11.72" height="23.02" fill="#282B6A"/>
<rect x="212.75" y="1304.28" width="23.14" height="23.02" fill="#0D0D14"/>
<rect x="235.59" y="1304.28" width="11.72" height="23.02" fill="#1B1D48"/>
<rect x="247.01" y="1304.28" width="11.72" height="23.02" fill="#483F1D"/>
<rect x="258.42" y="1304.28" width="23.14" height="23.02" fill="#282B6A"/>
<rect x="281.26" y="1304.28" width="23.14" height="23.02" fill="#1B1D48"/>
<rect x="304.1" y="1304.28" width="11.72" height="23.02" fill="#B8A43A"/>
<rect x="315.51" y="1304.28" width="11.72" height="23.02" fill="#0D0D14"/>
<rect x="326.93" y="1304.28" width="11.72" height="23.02" fill="#1B1D48"/>
<rect x="338.35" y="1304.28" width="23.14" height="23.02" fill="#0D0D14"/>
<rect x="366.89" y="1304.28" width="11.72" height="23.02" fill="#0D0D14"/>
<rect x="378.3" y="1304.28" width="11.72" height="23.02" fill="#877A33"/>
<rect x="389.72" y="1304.28" width="11.72" height="23.02" fill="#1B1D48"/>
<rect x="401.14" y="1304.28" width="11.72" height="23.02" fill="#0D0D14"/>
<rect x="412.56" y="1304.28" width="11.72" height="23.02" fill="#282B6A"/>
<rect x="423.98" y="1304.28" width="11.72" height="23.02" fill="#B8A43A"/>
<rect x="435.39" y="1304.28" width="23.14" height="23.02" fill="#0D0D14"/>
<rect x="458.23" y="1304.28" width="11.72" height="23.02" fill="#B8A43A"/>
<rect x="469.65" y="1304.28" width="23.14" height="23.02" fill="#1B1D48"/>
<rect x="492.48" y="1304.28" width="23.14" height="23.02" fill="#0D0D14"/>
<rect x="515.32" y="1304.28" width="11.72" height="23.02" fill="#483F1D"/>
<rect x="526.74" y="1304.28" width="23.14" height="23.02" fill="#0D0D14"/>
<rect x="555.27" y="1304.28" width="11.72" height="23.02" fill="#1B1D48"/>
<rect x="566.69" y="1304.28" width="11.72" height="23.02" fill="#0D0D14"/>
<rect x="578.11" y="1304.28" width="11.72" height="23.02" fill="#483F1D"/>
<rect x="589.53" y="1304.28" width="11.72" height="23.02" fill="#0D0D14"/>
<rect x="600.95" y="1304.28" width="11.72" height="23.02" fill="#483F1D"/>
<rect x="612.36" y="1304.28" width="11.72" height="23.02" fill="#282B6A"/>
</g>
<g stroke="#8c8ca0" stroke-opacity="0.16" stroke-width="0.7">
<line x1="58.62" y1="269.2" x2="58.62" y2="450.96"/>
<line x1="70.04" y1="269.2" x2="70.04" y2="450.96"/>
<line x1="81.45" y1="269.2" x2="81.45" y2="450.96"/>
<line x1="92.87" y1="269.2" x2="92.87" y2="450.96"/>
<line x1="104.29" y1="269.2" x2="104.29" y2="450.96"/>
<line x1="115.71" y1="269.2" x2="115.71" y2="450.96"/>
<line x1="127.13" y1="269.2" x2="127.13" y2="450.96"/>
<line x1="138.54" y1="269.2" x2="138.54" y2="450.96"/>
<line x1="149.96" y1="269.2" x2="149.96" y2="450.96"/>
<line x1="161.38" y1="269.2" x2="161.38" y2="450.96"/>
<line x1="172.8" y1="269.2" x2="172.8" y2="450.96"/>
<line x1="47.2" y1="291.92" x2="184.22" y2="291.92"/>
<line x1="47.2" y1="314.64" x2="184.22" y2="314.64"/>
<line x1="47.2" y1="337.36" x2="184.22" y2="337.36"/>
<line x1="47.2" y1="360.08" x2="184.22" y2="360.08"/>
<line x1="47.2" y1="382.8" x2="184.22" y2="382.8"/>
<line x1="47.2" y1="405.52" x2="184.22" y2="405.52"/>
<line x1="47.2" y1="428.24" x2="184.22" y2="428.24"/>
<line x1="201.33" y1="269.2" x2="201.33" y2="450.96"/>
<line x1="212.75" y1="269.2" x2="212.75" y2="450.96"/>
<line x1="224.17" y1="269.2" x2="224.17" y2="450.96"/>
<line x1="235.59" y1="269.2" x2="235.59" y2="450.96"/>
<line x1="247.01" y1="269.2" x2="247.01" y2="450.96"/>
<line x1="258.42" y1="269.2" x2="258.42" y2="450.96"/>
<line x1="269.84" y1="269.2" x2="269.84" y2="450.96"/>
<line x1="281.26" y1="269.2" x2="281.26" y2="450.96"/>
<line x1="292.68" y1="269.2" x2="292.68" y2="450.96"/>
<line x1="304.1" y1="269.2" x2="304.1" y2="450.96"/>
<line x1="315.51" y1="269.2" x2="315.51" y2="450.96"/>
<line x1="326.93" y1="269.2" x2="326.93" y2="450.96"/>
<line x1="338.35" y1="269.2" x2="338.35" y2="450.96"/>
<line x1="349.77" y1="269.2" x2="349.77" y2="450.96"/>
<line x1="189.92" y1="291.92" x2="361.19" y2="291.92"/>
<line x1="189.92" y1="314.64" x2="361.19" y2="314.64"/>
<line x1="189.92" y1="337.36" x2="361.19" y2="337.36"/>
<line x1="189.92" y1="360.08" x2="361.19" y2="360.08"/>
<line x1="189.92" y1="382.8" x2="361.19" y2="382.8"/>
<line x1="189.92" y1="405.52" x2="361.19" y2="405.52"/>
<line x1="189.92" y1="428.24" x2="361.19" y2="428.24"/>
<line x1="378.3" y1="269.2" x2="378.3" y2="450.96"/>
<line x1="389.72" y1="269.2" x2="389.72" y2="450.96"/>
<line x1="401.14" y1="269.2" x2="401.14" y2="450.96"/>
<line x1="412.56" y1="269.2" x2="412.56" y2="450.96"/>
<line x1="423.98" y1="269.2" x2="423.98" y2="450.96"/>
<line x1="435.39" y1="269.2" x2="435.39" y2="450.96"/>
<line x1="446.81" y1="269.2" x2="446.81" y2="450.96"/>
<line x1="458.23" y1="269.2" x2="458.23" y2="450.96"/>
<line x1="469.65" y1="269.2" x2="469.65" y2="450.96"/>
<line x1="481.07" y1="269.2" x2="481.07" y2="450.96"/>
<line x1="492.48" y1="269.2" x2="492.48" y2="450.96"/>
<line x1="503.9" y1="269.2" x2="503.9" y2="450.96"/>
<line x1="515.32" y1="269.2" x2="515.32" y2="450.96"/>
<line x1="526.74" y1="269.2" x2="526.74" y2="450.96"/>
<line x1="538.16" y1="269.2" x2="538.16" y2="450.96"/>
<line x1="366.89" y1="291.92" x2="549.57" y2="291.92"/>
<line x1="366.89" y1="314.64" x2="549.57" y2="314.64"/>
<line x1="366.89" y1="337.36" x2="549.57" y2="337.36"/>
<line x1="366.89" y1="360.08" x2="549.57" y2="360.08"/>
<line x1="366.89" y1="382.8" x2="549.57" y2="382.8"/>
<line x1="366.89" y1="405.52" x2="549.57" y2="405.52"/>
<line x1="366.89" y1="428.24" x2="549.57" y2="428.24"/>
<line x1="566.69" y1="269.2" x2="566.69" y2="450.96"/>
<line x1="578.11" y1="269.2" x2="578.11" y2="450.96"/>
<line x1="589.53" y1="269.2" x2="589.53" y2="450.96"/>
<line x1="600.95" y1="269.2" x2="600.95" y2="450.96"/>
<line x1="612.36" y1="269.2" x2="612.36" y2="450.96"/>
<line x1="555.27" y1="291.92" x2="623.78" y2="291.92"/>
<line x1="555.27" y1="314.64" x2="623.78" y2="314.64"/>
<line x1="555.27" y1="337.36" x2="623.78" y2="337.36"/>
<line x1="555.27" y1="360.08" x2="623.78" y2="360.08"/>
<line x1="555.27" y1="382.8" x2="623.78" y2="382.8"/>
<line x1="555.27" y1="405.52" x2="623.78" y2="405.52"/>
<line x1="555.27" y1="428.24" x2="623.78" y2="428.24"/>
<line x1="58.62" y1="456.86" x2="58.62" y2="570.46"/>
<line x1="70.04" y1="456.86" x2="70.04" y2="570.46"/>
<line x1="81.45" y1="456.86" x2="81.45" y2="570.46"/>
<line x1="92.87" y1="456.86" x2="92.87" y2="570.46"/>
<line x1="104.29" y1="456.86" x2="104.29" y2="570.46"/>
<line x1="115.71" y1="456.86" x2="115.71" y2="570.46"/>
<line x1="127.13" y1="456.86" x2="127.13" y2="570.46"/>
<line x1="138.54" y1="456.86" x2="138.54" y2="570.46"/>
<line x1="149.96" y1="456.86" x2="149.96" y2="570.46"/>
<line x1="161.38" y1="456.86" x2="161.38" y2="570.46"/>
<line x1="172.8" y1="456.86" x2="172.8" y2="570.46"/>
<line x1="47.2" y1="479.58" x2="184.22" y2="479.58"/>
<line x1="47.2" y1="502.3" x2="184.22" y2="502.3"/>
<line x1="47.2" y1="525.02" x2="184.22" y2="525.02"/>
<line x1="47.2" y1="547.74" x2="184.22" y2="547.74"/>
<line x1="201.33" y1="456.86" x2="201.33" y2="570.46"/>
<line x1="212.75" y1="456.86" x2="212.75" y2="570.46"/>
<line x1="224.17" y1="456.86" x2="224.17" y2="570.46"/>
<line x1="235.59" y1="456.86" x2="235.59" y2="570.46"/>
<line x1="247.01" y1="456.86" x2="247.01" y2="570.46"/>
<line x1="258.42" y1="456.86" x2="258.42" y2="570.46"/>
<line x1="269.84" y1="456.86" x2="269.84" y2="570.46"/>
<line x1="281.26" y1="456.86" x2="281.26" y2="570.46"/>
<line x1="292.68" y1="456.86" x2="292.68" y2="570.46"/>
<line x1="304.1" y1="456.86" x2="304.1" y2="570.46"/>
<line x1="315.51" y1="456.86" x2="315.51" y2="570.46"/>
<line x1="326.93" y1="456.86" x2="326.93" y2="570.46"/>
<line x1="338.35" y1="456.86" x2="338.35" y2="570.46"/>
<line x1="349.77" y1="456.86" x2="349.77" y2="570.46"/>
<line x1="189.92" y1="479.58" x2="361.19" y2="479.58"/>
<line x1="189.92" y1="502.3" x2="361.19" y2="502.3"/>
<line x1="189.92" y1="525.02" x2="361.19" y2="525.02"/>
<line x1="189.92" y1="547.74" x2="361.19" y2="547.74"/>
<line x1="378.3" y1="456.86" x2="378.3" y2="570.46"/>
<line x1="389.72" y1="456.86" x2="389.72" y2="570.46"/>
<line x1="401.14" y1="456.86" x2="401.14" y2="570.46"/>
<line x1="412.56" y1="456.86" x2="412.56" y2="570.46"/>
<line x1="423.98" y1="456.86" x2="423.98" y2="570.46"/>
<line x1="435.39" y1="456.86" x2="435.39" y2="570.46"/>
<line x1="446.81" y1="456.86" x2="446.81" y2="570.46"/>
<line x1="458.23" y1="456.86" x2="458.23" y2="570.46"/>
<line x1="469.65" y1="456.86" x2="469.65" y2="570.46"/>
<line x1="481.07" y1="456.86" x2="481.07" y2="570.46"/>
<line x1="492.48" y1="456.86" x2="492.48" y2="570.46"/>
<line x1="503.9" y1="456.86" x2="503.9" y2="570.46"/>
<line x1="515.32" y1="456.86" x2="515.32" y2="570.46"/>
<line x1="526.74" y1="456.86" x2="526.74" y2="570.46"/>
<line x1="538.16" y1="456.86" x2="538.16" y2="570.46"/>
<line x1="366.89" y1="479.58" x2="549.57" y2="479.58"/>
<line x1="366.89" y1="502.3" x2="549.57" y2="502.3"/>
<line x1="366.89" y1="525.02" x2="549.57" y2="525.02"/>
<line x1="366.89" y1="547.74" x2="549.57" y2="547.74"/>
<line x1="566.69" y1="456.86" x2="566.69" y2="570.46"/>
<line x1="578.11" y1="456.86" x2="578.11" y2="570.46"/>
<line x1="589.53" y1="456.86" x2="589.53" y2="570.46"/>
<line x1="600.95" y1="456.86" x2="600.95" y2="570.46"/>
<line x1="612.36" y1="456.86" x2="612.36" y2="570.46"/>
<line x1="555.27" y1="479.58" x2="623.78" y2="479.58"/>
<line x1="555.27" y1="502.3" x2="623.78" y2="502.3"/>
<line x1="555.27" y1="525.02" x2="623.78" y2="525.02"/>
<line x1="555.27" y1="547.74" x2="623.78" y2="547.74"/>
<line x1="58.62" y1="576.36" x2="58.62" y2="689.96"/>
<line x1="70.04" y1="576.36" x2="70.04" y2="689.96"/>
<line x1="81.45" y1="576.36" x2="81.45" y2="689.96"/>
<line x1="92.87" y1="576.36" x2="92.87" y2="689.96"/>
<line x1="104.29" y1="576.36" x2="104.29" y2="689.96"/>
<line x1="115.71" y1="576.36" x2="115.71" y2="689.96"/>
<line x1="127.13" y1="576.36" x2="127.13" y2="689.96"/>
<line x1="138.54" y1="576.36" x2="138.54" y2="689.96"/>
<line x1="149.96" y1="576.36" x2="149.96" y2="689.96"/>
<line x1="161.38" y1="576.36" x2="161.38" y2="689.96"/>
<line x1="172.8" y1="576.36" x2="172.8" y2="689.96"/>
<line x1="47.2" y1="599.08" x2="184.22" y2="599.08"/>
<line x1="47.2" y1="621.8" x2="184.22" y2="621.8"/>
<line x1="47.2" y1="644.52" x2="184.22" y2="644.52"/>
<line x1="47.2" y1="667.24" x2="184.22" y2="667.24"/>
<line x1="201.33" y1="576.36" x2="201.33" y2="689.96"/>
<line x1="212.75" y1="576.36" x2="212.75" y2="689.96"/>
<line x1="224.17" y1="576.36" x2="224.17" y2="689.96"/>
<line x1="235.59" y1="576.36" x2="235.59" y2="689.96"/>
<line x1="247.01" y1="576.36" x2="247.01" y2="689.96"/>
<line x1="258.42" y1="576.36" x2="258.42" y2="689.96"/>
<line x1="269.84" y1="576.36" x2="269.84" y2="689.96"/>
<line x1="281.26" y1="576.36" x2="281.26" y2="689.96"/>
<line x1="292.68" y1="576.36" x2="292.68" y2="689.96"/>
<line x1="304.1" y1="576.36" x2="304.1" y2="689.96"/>
<line x1="315.51" y1="576.36" x2="315.51" y2="689.96"/>
<line x1="326.93" y1="576.36" x2="326.93" y2="689.96"/>
<line x1="338.35" y1="576.36" x2="338.35" y2="689.96"/>
<line x1="349.77" y1="576.36" x2="349.77" y2="689.96"/>
<line x1="189.92" y1="599.08" x2="361.19" y2="599.08"/>
<line x1="189.92" y1="621.8" x2="361.19" y2="621.8"/>
<line x1="189.92" y1="644.52" x2="361.19" y2="644.52"/>
<line x1="189.92" y1="667.24" x2="361.19" y2="667.24"/>
<line x1="378.3" y1="576.36" x2="378.3" y2="689.96"/>
<line x1="389.72" y1="576.36" x2="389.72" y2="689.96"/>
<line x1="401.14" y1="576.36" x2="401.14" y2="689.96"/>
<line x1="412.56" y1="576.36" x2="412.56" y2="689.96"/>
<line x1="423.98" y1="576.36" x2="423.98" y2="689.96"/>
<line x1="435.39" y1="576.36" x2="435.39" y2="689.96"/>
<line x1="446.81" y1="576.36" x2="446.81" y2="689.96"/>
<line x1="458.23" y1="576.36" x2="458.23" y2="689.96"/>
<line x1="469.65" y1="576.36" x2="469.65" y2="689.96"/>
<line x1="481.07" y1="576.36" x2="481.07" y2="689.96"/>
<line x1="492.48" y1="576.36" x2="492.48" y2="689.96"/>
<line x1="503.9" y1="576.36" x2="503.9" y2="689.96"/>
<line x1="515.32" y1="576.36" x2="515.32" y2="689.96"/>
<line x1="526.74" y1="576.36" x2="526.74" y2="689.96"/>
<line x1="538.16" y1="576.36" x2="538.16" y2="689.96"/>
<line x1="366.89" y1="599.08" x2="549.57" y2="599.08"/>
<line x1="366.89" y1="621.8" x2="549.57" y2="621.8"/>
<line x1="366.89" y1="644.52" x2="549.57" y2="644.52"/>
<line x1="366.89" y1="667.24" x2="549.57" y2="667.24"/>
<line x1="566.69" y1="576.36" x2="566.69" y2="689.96"/>
<line x1="578.11" y1="576.36" x2="578.11" y2="689.96"/>
<line x1="589.53" y1="576.36" x2="589.53" y2="689.96"/>
<line x1="600.95" y1="576.36" x2="600.95" y2="689.96"/>
<line x1="612.36" y1="576.36" x2="612.36" y2="689.96"/>
<line x1="555.27" y1="599.08" x2="623.78" y2="599.08"/>
<line x1="555.27" y1="621.8" x2="623.78" y2="621.8"/>
<line x1="555.27" y1="644.52" x2="623.78" y2="644.52"/>
<line x1="555.27" y1="667.24" x2="623.78" y2="667.24"/>
<line x1="58.62" y1="695.86" x2="58.62" y2="923.06"/>
<line x1="70.04" y1="695.86" x2="70.04" y2="923.06"/>
<line x1="81.45" y1="695.86" x2="81.45" y2="923.06"/>
<line x1="92.87" y1="695.86" x2="92.87" y2="923.06"/>
<line x1="104.29" y1="695.86" x2="104.29" y2="923.06"/>
<line x1="115.71" y1="695.86" x2="115.71" y2="923.06"/>
<line x1="127.13" y1="695.86" x2="127.13" y2="923.06"/>
<line x1="138.54" y1="695.86" x2="138.54" y2="923.06"/>
<line x1="149.96" y1="695.86" x2="149.96" y2="923.06"/>
<line x1="161.38" y1="695.86" x2="161.38" y2="923.06"/>
<line x1="172.8" y1="695.86" x2="172.8" y2="923.06"/>
<line x1="47.2" y1="718.58" x2="184.22" y2="718.58"/>
<line x1="47.2" y1="741.3" x2="184.22" y2="741.3"/>
<line x1="47.2" y1="764.02" x2="184.22" y2="764.02"/>
<line x1="47.2" y1="786.74" x2="184.22" y2="786.74"/>
<line x1="47.2" y1="809.46" x2="184.22" y2="809.46"/>
<line x1="47.2" y1="832.18" x2="184.22" y2="832.18"/>
<line x1="47.2" y1="854.9" x2="184.22" y2="854.9"/>
<line x1="47.2" y1="877.62" x2="184.22" y2="877.62"/>
<line x1="47.2" y1="900.34" x2="184.22" y2="900.34"/>
<line x1="201.33" y1="695.86" x2="201.33" y2="923.06"/>
<line x1="212.75" y1="695.86" x2="212.75" y2="923.06"/>
<line x1="224.17" y1="695.86" x2="224.17" y2="923.06"/>
<line x1="235.59" y1="695.86" x2="235.59" y2="923.06"/>
<line x1="247.01" y1="695.86" x2="247.01" y2="923.06"/>
<line x1="258.42" y1="695.86" x2="258.42" y2="923.06"/>
<line x1="269.84" y1="695.86" x2="269.84" y2="923.06"/>
<line x1="281.26" y1="695.86" x2="281.26" y2="923.06"/>
<line x1="292.68" y1="695.86" x2="292.68" y2="923.06"/>
<line x1="304.1" y1="695.86" x2="304.1" y2="923.06"/>
<line x1="315.51" y1="695.86" x2="315.51" y2="923.06"/>
<line x1="326.93" y1="695.86" x2="326.93" y2="923.06"/>
<line x1="338.35" y1="695.86" x2="338.35" y2="923.06"/>
<line x1="349.77" y1="695.86" x2="349.77" y2="923.06"/>
<line x1="189.92" y1="718.58" x2="361.19" y2="718.58"/>
<line x1="189.92" y1="741.3" x2="361.19" y2="741.3"/>
<line x1="189.92" y1="764.02" x2="361.19" y2="764.02"/>
<line x1="189.92" y1="786.74" x2="361.19" y2="786.74"/>
<line x1="189.92" y1="809.46" x2="361.19" y2="809.46"/>
<line x1="189.92" y1="832.18" x2="361.19" y2="832.18"/>
<line x1="189.92" y1="854.9" x2="361.19" y2="854.9"/>
<line x1="189.92" y1="877.62" x2="361.19" y2="877.62"/>
<line x1="189.92" y1="900.34" x2="361.19" y2="900.34"/>
<line x1="378.3" y1="695.86" x2="378.3" y2="923.06"/>
<line x1="389.72" y1="695.86" x2="389.72" y2="923.06"/>
<line x1="401.14" y1="695.86" x2="401.14" y2="923.06"/>
<line x1="412.56" y1="695.86" x2="412.56" y2="923.06"/>
<line x1="423.98" y1="695.86" x2="423.98" y2="923.06"/>
<line x1="435.39" y1="695.86" x2="435.39" y2="923.06"/>
<line x1="446.81" y1="695.86" x2="446.81" y2="923.06"/>
<line x1="458.23" y1="695.86" x2="458.23" y2="923.06"/>
<line x1="469.65" y1="695.86" x2="469.65" y2="923.06"/>
<line x1="481.07" y1="695.86" x2="481.07" y2="923.06"/>
<line x1="492.48" y1="695.86" x2="492.48" y2="923.06"/>
<line x1="503.9" y1="695.86" x2="503.9" y2="923.06"/>
<line x1="515.32" y1="695.86" x2="515.32" y2="923.06"/>
<line x1="526.74" y1="695.86" x2="526.74" y2="923.06"/>
<line x1="538.16" y1="695.86" x2="538.16" y2="923.06"/>
<line x1="366.89" y1="718.58" x2="549.57" y2="718.58"/>
<line x1="366.89" y1="741.3" x2="549.57" y2="741.3"/>
<line x1="366.89" y1="764.02" x2="549.57" y2="764.02"/>
<line x1="366.89" y1="786.74" x2="549.57" y2="786.74"/>
<line x1="366.89" y1="809.46" x2="549.57" y2="809.46"/>
<line x1="366.89" y1="832.18" x2="549.57" y2="832.18"/>
<line x1="366.89" y1="854.9" x2="549.57" y2="854.9"/>
<line x1="366.89" y1="877.62" x2="549.57" y2="877.62"/>
<line x1="366.89" y1="900.34" x2="549.57" y2="900.34"/>
<line x1="566.69" y1="695.86" x2="566.69" y2="923.06"/>
<line x1="578.11" y1="695.86" x2="578.11" y2="923.06"/>
<line x1="589.53" y1="695.86" x2="589.53" y2="923.06"/>
<line x1="600.95" y1="695.86" x2="600.95" y2="923.06"/>
<line x1="612.36" y1="695.86" x2="612.36" y2="923.06"/>
<line x1="555.27" y1="718.58" x2="623.78" y2="718.58"/>
<line x1="555.27" y1="741.3" x2="623.78" y2="741.3"/>
<line x1="555.27" y1="764.02" x2="623.78" y2="764.02"/>
<line x1="555.27" y1="786.74" x2="623.78" y2="786.74"/>
<line x1="555.27" y1="809.46" x2="623.78" y2="809.46"/>
<line x1="555.27" y1="832.18" x2="623.78" y2="832.18"/>
<line x1="555.27" y1="854.9" x2="623.78" y2="854.9"/>
<line x1="555.27" y1="877.62" x2="623.78" y2="877.62"/>
<line x1="555.27" y1="900.34" x2="623.78" y2="900.34"/>
<line x1="58.62" y1="928.96" x2="58.62" y2="1065.28"/>
<line x1="70.04" y1="928.96" x2="70.04" y2="1065.28"/>
<line x1="81.45" y1="928.96" x2="81.45" y2="1065.28"/>
<line x1="92.87" y1="928.96" x2="92.87" y2="1065.28"/>
<line x1="104.29" y1="928.96" x2="104.29" y2="1065.28"/>
<line x1="115.71" y1="928.96" x2="115.71" y2="1065.28"/>
<line x1="127.13" y1="928.96" x2="127.13" y2="1065.28"/>
<line x1="138.54" y1="928.96" x2="138.54" y2="1065.28"/>
<line x1="149.96" y1="928.96" x2="149.96" y2="1065.28"/>
<line x1="161.38" y1="928.96" x2="161.38" y2="1065.28"/>
<line x1="172.8" y1="928.96" x2="172.8" y2="1065.28"/>
<line x1="47.2" y1="951.68" x2="184.22" y2="951.68"/>
<line x1="47.2" y1="974.4" x2="184.22" y2="974.4"/>
<line x1="47.2" y1="997.12" x2="184.22" y2="997.12"/>
<line x1="47.2" y1="1019.84" x2="184.22" y2="1019.84"/>
<line x1="47.2" y1="1042.56" x2="184.22" y2="1042.56"/>
<line x1="201.33" y1="928.96" x2="201.33" y2="1065.28"/>
<line x1="212.75" y1="928.96" x2="212.75" y2="1065.28"/>
<line x1="224.17" y1="928.96" x2="224.17" y2="1065.28"/>
<line x1="235.59" y1="928.96" x2="235.59" y2="1065.28"/>
<line x1="247.01" y1="928.96" x2="247.01" y2="1065.28"/>
<line x1="258.42" y1="928.96" x2="258.42" y2="1065.28"/>
<line x1="269.84" y1="928.96" x2="269.84" y2="1065.28"/>
<line x1="281.26" y1="928.96" x2="281.26" y2="1065.28"/>
<line x1="292.68" y1="928.96" x2="292.68" y2="1065.28"/>
<line x1="304.1" y1="928.96" x2="304.1" y2="1065.28"/>
<line x1="315.51" y1="928.96" x2="315.51" y2="1065.28"/>
<line x1="326.93" y1="928.96" x2="326.93" y2="1065.28"/>
<line x1="338.35" y1="928.96" x2="338.35" y2="1065.28"/>
<line x1="349.77" y1="928.96" x2="349.77" y2="1065.28"/>
<line x1="189.92" y1="951.68" x2="361.19" y2="951.68"/>
<line x1="189.92" y1="974.4" x2="361.19" y2="974.4"/>
<line x1="189.92" y1="997.12" x2="361.19" y2="997.12"/>
<line x1="189.92" y1="1019.84" x2="361.19" y2="1019.84"/>
<line x1="189.92" y1="1042.56" x2="361.19" y2="1042.56"/>
<line x1="378.3" y1="928.96" x2="378.3" y2="1065.28"/>
<line x1="389.72" y1="928.96" x2="389.72" y2="1065.28"/>
<line x1="401.14" y1="928.96" x2="401.14" y2="1065.28"/>
<line x1="412.56" y1="928.96" x2="412.56" y2="1065.28"/>
<line x1="423.98" y1="928.96" x2="423.98" y2="1065.28"/>
<line x1="435.39" y1="928.96" x2="435.39" y2="1065.28"/>
<line x1="446.81" y1="928.96" x2="446.81" y2="1065.28"/>
<line x1="458.23" y1="928.96" x2="458.23" y2="1065.28"/>
<line x1="469.65" y1="928.96" x2="469.65" y2="1065.28"/>
<line x1="481.07" y1="928.96" x2="481.07" y2="1065.28"/>
<line x1="492.48" y1="928.96" x2="492.48" y2="1065.28"/>
<line x1="503.9" y1="928.96" x2="503.9" y2="1065.28"/>
<line x1="515.32" y1="928.96" x2="515.32" y2="1065.28"/>
<line x1="526.74" y1="928.96" x2="526.74" y2="1065.28"/>
<line x1="538.16" y1="928.96" x2="538.16" y2="1065.28"/>
<line x1="366.89" y1="951.68" x2="549.57" y2="951.68"/>
<line x1="366.89" y1="974.4" x2="549.57" y2="974.4"/>
<line x1="366.89" y1="997.12" x2="549.57" y2="997.12"/>
<line x1="366.89" y1="1019.84" x2="549.57" y2="1019.84"/>
<line x1="366.89" y1="1042.56" x2="549.57" y2="1042.56"/>
<line x1="566.69" y1="928.96" x2="566.69" y2="1065.28"/>
<line x1="578.11" y1="928.96" x2="578.11" y2="1065.28"/>
<line x1="589.53" y1="928.96" x2="589.53" y2="1065.28"/>
<line x1="600.95" y1="928.96" x2="600.95" y2="1065.28"/>
<line x1="612.36" y1="928.96" x2="612.36" y2="1065.28"/>
<line x1="555.27" y1="951.68" x2="623.78" y2="951.68"/>
<line x1="555.27" y1="974.4" x2="623.78" y2="974.4"/>
<line x1="555.27" y1="997.12" x2="623.78" y2="997.12"/>
<line x1="555.27" y1="1019.84" x2="623.78" y2="1019.84"/>
<line x1="555.27" y1="1042.56" x2="623.78" y2="1042.56"/>
<line x1="58.62" y1="1071.18" x2="58.62" y2="1207.5"/>
<line x1="70.04" y1="1071.18" x2="70.04" y2="1207.5"/>
<line x1="81.45" y1="1071.18" x2="81.45" y2="1207.5"/>
<line x1="92.87" y1="1071.18" x2="92.87" y2="1207.5"/>
<line x1="104.29" y1="1071.18" x2="104.29" y2="1207.5"/>
<line x1="115.71" y1="1071.18" x2="115.71" y2="1207.5"/>
<line x1="127.13" y1="1071.18" x2="127.13" y2="1207.5"/>
<line x1="138.54" y1="1071.18" x2="138.54" y2="1207.5"/>
<line x1="149.96" y1="1071.18" x2="149.96" y2="1207.5"/>
<line x1="161.38" y1="1071.18" x2="161.38" y2="1207.5"/>
<line x1="172.8" y1="1071.18" x2="172.8" y2="1207.5"/>
<line x1="47.2" y1="1093.9" x2="184.22" y2="1093.9"/>
<line x1="47.2" y1="1116.62" x2="184.22" y2="1116.62"/>
<line x1="47.2" y1="1139.34" x2="184.22" y2="1139.34"/>
<line x1="47.2" y1="1162.06" x2="184.22" y2="1162.06"/>
<line x1="47.2" y1="1184.78" x2="184.22" y2="1184.78"/>
<line x1="201.33" y1="1071.18" x2="201.33" y2="1207.5"/>
<line x1="212.75" y1="1071.18" x2="212.75" y2="1207.5"/>
<line x1="224.17" y1="1071.18" x2="224.17" y2="1207.5"/>
<line x1="235.59" y1="1071.18" x2="235.59" y2="1207.5"/>
<line x1="247.01" y1="1071.18" x2="247.01" y2="1207.5"/>
<line x1="258.42" y1="1071.18" x2="258.42" y2="1207.5"/>
<line x1="269.84" y1="1071.18" x2="269.84" y2="1207.5"/>
<line x1="281.26" y1="1071.18" x2="281.26" y2="1207.5"/>
<line x1="292.68" y1="1071.18" x2="292.68" y2="1207.5"/>
<line x1="304.1" y1="1071.18" x2="304.1" y2="1207.5"/>
<line x1="315.51" y1="1071.18" x2="315.51" y2="1207.5"/>
<line x1="326.93" y1="1071.18" x2="326.93" y2="1207.5"/>
<line x1="338.35" y1="1071.18" x2="338.35" y2="1207.5"/>
<line x1="349.77" y1="1071.18" x2="349.77" y2="1207.5"/>
<line x1="189.92" y1="1093.9" x2="361.19" y2="1093.9"/>
<line x1="189.92" y1="1116.62" x2="361.19" y2="1116.62"/>
<line x1="189.92" y1="1139.34" x2="361.19" y2="1139.34"/>
<line x1="189.92" y1="1162.06" x2="361.19" y2="1162.06"/>
<line x1="189.92" y1="1184.78" x2="361.19" y2="1184.78"/>
<line x1="378.3" y1="1071.18" x2="378.3" y2="1207.5"/>
<line x1="389.72" y1="1071.18" x2="389.72" y2="1207.5"/>
<line x1="401.14" y1="1071.18" x2="401.14" y2="1207.5"/>
<line x1="412.56" y1="1071.18" x2="412.56" y2="1207.5"/>
<line x1="423.98" y1="1071.18" x2="423.98" y2="1207.5"/>
<line x1="435.39" y1="1071.18" x2="435.39" y2="1207.5"/>
<line x1="446.81" y1="1071.18" x2="446.81" y2="1207.5"/>
<line x1="458.23" y1="1071.18" x2="458.23" y2="1207.5"/>
<line x1="469.65" y1="1071.18" x2="469.65" y2="1207.5"/>
<line x1="481.07" y1="1071.18" x2="481.07" y2="1207.5"/>
<line x1="492.48" y1="1071.18" x2="492.48" y2="1207.5"/>
<line x1="503.9" y1="1071.18" x2="503.9" y2="1207.5"/>
<line x1="515.32" y1="1071.18" x2="515.32" y2="1207.5"/>
<line x1="526.74" y1="1071.18" x2="526.74" y2="1207.5"/>
<line x1="538.16" y1="1071.18" x2="538.16" y2="1207.5"/>
<line x1="366.89" y1="1093.9" x2="549.57" y2="1093.9"/>
<line x1="366.89" y1="1116.62" x2="549.57" y2="1116.62"/>
<line x1="366.89" y1="1139.34" x2="549.57" y2="1139.34"/>
<line x1="366.89" y1="1162.06" x2="549.57" y2="1162.06"/>
<line x1="366.89" y1="1184.78" x2="549.57" y2="1184.78"/>
<line x1="566.69" y1="1071.18" x2="566.69" y2="1207.5"/>
<line x1="578.11" y1="1071.18" x2="578.11" y2="1207.5"/>
<line x1="589.53" y1="1071.18" x2="589.53" y2="1207.5"/>
<line x1="600.95" y1="1071.18" x2="600.95" y2="1207.5"/>
<line x1="612.36" y1="1071.18" x2="612.36" y2="1207.5"/>
<line x1="555.27" y1="1093.9" x2="623.78" y2="1093.9"/>
<line x1="555.27" y1="1116.62" x2="623.78" y2="1116.62"/>
<line x1="555.27" y1="1139.34" x2="623.78" y2="1139.34"/>
<line x1="555.27" y1="1162.06" x2="623.78" y2="1162.06"/>
<line x1="555.27" y1="1184.78" x2="623.78" y2="1184.78"/>
<line x1="58.62" y1="1213.4" x2="58.62" y2="1327"/>
<line x1="70.04" y1="1213.4" x2="70.04" y2="1327"/>
<line x1="81.45" y1="1213.4" x2="81.45" y2="1327"/>
<line x1="92.87" y1="1213.4" x2="92.87" y2="1327"/>
<line x1="104.29" y1="1213.4" x2="104.29" y2="1327"/>
<line x1="115.71" y1="1213.4" x2="115.71" y2="1327"/>
<line x1="127.13" y1="1213.4" x2="127.13" y2="1327"/>
<line x1="138.54" y1="1213.4" x2="138.54" y2="1327"/>
<line x1="149.96" y1="1213.4" x2="149.96" y2="1327"/>
<line x1="161.38" y1="1213.4" x2="161.38" y2="1327"/>
<line x1="172.8" y1="1213.4" x2="172.8" y2="1327"/>
<line x1="47.2" y1="1236.12" x2="184.22" y2="1236.12"/>
<line x1="47.2" y1="1258.84" x2="184.22" y2="1258.84"/>
<line x1="47.2" y1="1281.56" x2="184.22" y2="1281.56"/>
<line x1="47.2" y1="1304.28" x2="184.22" y2="1304.28"/>
<line x1="201.33" y1="1213.4" x2="201.33" y2="1327"/>
<line x1="212.75" y1="1213.4" x2="212.75" y2="1327"/>
<line x1="224.17" y1="1213.4" x2="224.17" y2="1327"/>
<line x1="235.59" y1="1213.4" x2="235.59" y2="1327"/>
<line x1="247.01" y1="1213.4" x2="247.01" y2="1327"/>
<line x1="258.42" y1="1213.4" x2="258.42" y2="1327"/>
<line x1="269.84" y1="1213.4" x2="269.84" y2="1327"/>
<line x1="281.26" y1="1213.4" x2="281.26" y2="1327"/>
<line x1="292.68" y1="1213.4" x2="292.68" y2="1327"/>
<line x1="304.1" y1="1213.4" x2="304.1" y2="1327"/>
<line x1="315.51" y1="1213.4" x2="315.51" y2="1327"/>
<line x1="326.93" y1="1213.4" x2="326.93" y2="1327"/>
<line x1="338.35" y1="1213.4" x2="338.35" y2="1327"/>
<line x1="349.77" y1="1213.4" x2="349.77" y2="1327"/>
<line x1="189.92" y1="1236.12" x2="361.19" y2="1236.12"/>
<line x1="189.92" y1="1258.84" x2="361.19" y2="1258.84"/>
<line x1="189.92" y1="1281.56" x2="361.19" y2="1281.56"/>
<line x1="189.92" y1="1304.28" x2="361.19" y2="1304.28"/>
<line x1="378.3" y1="1213.4" x2="378.3" y2="1327"/>
<line x1="389.72" y1="1213.4" x2="389.72" y2="1327"/>
<line x1="401.14" y1="1213.4" x2="401.14" y2="1327"/>
<line x1="412.56" y1="1213.4" x2="412.56" y2="1327"/>
<line x1="423.98" y1="1213.4" x2="423.98" y2="1327"/>
<line x1="435.39" y1="1213.4" x2="435.39" y2="1327"/>
<line x1="446.81" y1="1213.4" x2="446.81" y2="1327"/>
<line x1="458.23" y1="1213.4" x2="458.23" y2="1327"/>
<line x1="469.65" y1="1213.4" x2="469.65" y2="1327"/>
<line x1="481.07" y1="1213.4" x2="481.07" y2="1327"/>
<line x1="492.48" y1="1213.4" x2="492.48" y2="1327"/>
<line x1="503.9" y1="1213.4" x2="503.9" y2="1327"/>
<line x1="515.32" y1="1213.4" x2="515.32" y2="1327"/>
<line x1="526.74" y1="1213.4" x2="526.74" y2="1327"/>
<line x1="538.16" y1="1213.4" x2="538.16" y2="1327"/>
<line x1="366.89" y1="1236.12" x2="549.57" y2="1236.12"/>
<line x1="366.89" y1="1258.84" x2="549.57" y2="1258.84"/>
<line x1="366.89" y1="1281.56" x2="549.57" y2="1281.56"/>
<line x1="366.89" y1="1304.28" x2="549.57" y2="1304.28"/>
<line x1="566.69" y1="1213.4" x2="566.69" y2="1327"/>
<line x1="578.11" y1="1213.4" x2="578.11" y2="1327"/>
<line x1="589.53" y1="1213.4" x2="589.53" y2="1327"/>
<line x1="600.95" y1="1213.4" x2="600.95" y2="1327"/>
<line x1="612.36" y1="1213.4" x2="612.36" y2="1327"/>
<line x1="555.27" y1="1236.12" x2="623.78" y2="1236.12"/>
<line x1="555.27" y1="1258.84" x2="623.78" y2="1258.84"/>
<line x1="555.27" y1="1281.56" x2="623.78" y2="1281.56"/>
<line x1="555.27" y1="1304.28" x2="623.78" y2="1304.28"/>
</g>
<rect x="47.2" y="269.2" width="137.02" height="181.76" fill="none" stroke="#000" stroke-width="1.4"/>
<rect x="189.92" y="269.2" width="171.27" height="181.76" fill="none" stroke="#000" stroke-width="1.4"/>
<rect x="366.89" y="269.2" width="182.69" height="181.76" fill="none" stroke="#000" stroke-width="1.4"/>
<rect x="555.27" y="269.2" width="68.51" height="181.76" fill="none" stroke="#000" stroke-width="1.4"/>
<text x="629.6" y="288.36" font-size="22" font-style="italic">FAP</text>
<text x="629.6" y="311.08" font-size="22" font-style="italic">FN1</text>
<text x="629.6" y="333.8" font-size="22" font-style="italic">COL5A1</text>
<text x="629.6" y="356.52" font-size="22" font-style="italic">COL5A2</text>
<text x="629.6" y="379.24" font-size="22" font-style="italic">POSTN</text>
<text x="629.6" y="401.96" font-size="22" font-style="italic">COL1A1</text>
<text x="629.6" y="424.68" font-size="22" font-style="italic">COL1A2</text>
<text x="629.6" y="447.4" font-size="22" font-style="italic">MMP2</text>
<rect x="47.2" y="456.86" width="137.02" height="113.6" fill="none" stroke="#000" stroke-width="1.4"/>
<rect x="189.92" y="456.86" width="171.27" height="113.6" fill="none" stroke="#000" stroke-width="1.4"/>
<rect x="366.89" y="456.86" width="182.69" height="113.6" fill="none" stroke="#000" stroke-width="1.4"/>
<rect x="555.27" y="456.86" width="68.51" height="113.6" fill="none" stroke="#000" stroke-width="1.4"/>
<text x="629.6" y="476.02" font-size="22" font-style="italic">VEGFA</text>
<text x="629.6" y="498.74" font-size="22" font-style="italic">KDR</text>
<text x="629.6" y="521.46" font-size="22" font-style="italic">ESM1</text>
<text x="629.6" y="544.18" font-size="22" font-style="italic">CD34</text>
<text x="629.6" y="566.9" font-size="22" font-style="italic">ANGPTL4</text>
<rect x="47.2" y="576.36" width="137.02" height="113.6" fill="none" stroke="#000" stroke-width="1.4"/>
<rect x="189.92" y="576.36" width="171.27" height="113.6" fill="none" stroke="#000" stroke-width="1.4"/>
<rect x="366.89" y="576.36" width="182.69" height="113.6" fill="none" stroke="#000" stroke-width="1.4"/>
<rect x="555.27" y="576.36" width="68.51" height="113.6" fill="none" stroke="#000" stroke-width="1.4"/>
<text x="629.6" y="595.52" font-size="22" font-style="italic">CD8A</text>
<text x="629.6" y="618.24" font-size="22" font-style="italic">IFNG</text>
<text x="629.6" y="640.96" font-size="22" font-style="italic">EOMES</text>
<text x="629.6" y="663.68" font-size="22" font-style="italic">PRF1</text>
<text x="629.6" y="686.4" font-size="22" font-style="italic">CD274</text>
<rect x="47.2" y="695.86" width="137.02" height="227.2" fill="none" stroke="#000" stroke-width="1.4"/>
<rect x="189.92" y="695.86" width="171.27" height="227.2" fill="none" stroke="#000" stroke-width="1.4"/>
<rect x="366.89" y="695.86" width="182.69" height="227.2" fill="none" stroke="#000" stroke-width="1.4"/>
<rect x="555.27" y="695.86" width="68.51" height="227.2" fill="none" stroke="#000" stroke-width="1.4"/>
<text x="629.6" y="715.02" font-size="22" font-style="italic">CDK2</text>
<text x="629.6" y="737.74" font-size="22" font-style="italic">CDK4</text>
<text x="629.6" y="760.46" font-size="22" font-style="italic">CDK6</text>
<text x="629.6" y="783.18" font-size="22" font-style="italic">BUB1</text>
<text x="629.6" y="805.9" font-size="22" font-style="italic">BUB1B</text>
<text x="629.6" y="828.62" font-size="22" font-style="italic">CCNE1</text>
<text x="629.6" y="851.34" font-size="22" font-style="italic">POLQ</text>
<text x="629.6" y="874.06" font-size="22" font-style="italic">AURKA</text>
<text x="629.6" y="896.78" font-size="22" font-style="italic">MKI67</text>
<text x="629.6" y="919.5" font-size="22" font-style="italic">CCNB2</text>
<rect x="47.2" y="928.96" width="137.02" height="136.32" fill="none" stroke="#000" stroke-width="1.4"/>
<rect x="189.92" y="928.96" width="171.27" height="136.32" fill="none" stroke="#000" stroke-width="1.4"/>
<rect x="366.89" y="928.96" width="182.69" height="136.32" fill="none" stroke="#000" stroke-width="1.4"/>
<rect x="555.27" y="928.96" width="68.51" height="136.32" fill="none" stroke="#000" stroke-width="1.4"/>
<text x="629.6" y="948.12" font-size="22" font-style="italic">CPT2</text>
<text x="629.6" y="970.84" font-size="22" font-style="italic">PPARA</text>
<text x="629.6" y="993.56" font-size="22" font-style="italic">CPT1A</text>
<text x="629.6" y="1016.28" font-size="22" font-style="italic">PRKAA2</text>
<text x="629.6" y="1039" font-size="22" font-style="italic">PDK2</text>
<text x="629.6" y="1061.72" font-size="22" font-style="italic">PRKAB1</text>
<rect x="47.2" y="1071.18" width="137.02" height="136.32" fill="none" stroke="#000" stroke-width="1.4"/>
<rect x="189.92" y="1071.18" width="171.27" height="136.32" fill="none" stroke="#000" stroke-width="1.4"/>
<rect x="366.89" y="1071.18" width="182.69" height="136.32" fill="none" stroke="#000" stroke-width="1.4"/>
<rect x="555.27" y="1071.18" width="68.51" height="136.32" fill="none" stroke="#000" stroke-width="1.4"/>
<text x="629.6" y="1090.34" font-size="22" font-style="italic">FASN</text>
<text x="629.6" y="1113.06" font-size="22" font-style="italic">PARP1</text>
<text x="629.6" y="1135.78" font-size="22" font-style="italic">G6PD</text>
<text x="629.6" y="1158.5" font-size="22" font-style="italic">TKT</text>
<text x="629.6" y="1181.22" font-size="22" font-style="italic">TALDO1</text>
<text x="629.6" y="1203.94" font-size="22" font-style="italic">PGD</text>
<rect x="47.2" y="1213.4" width="137.02" height="113.6" fill="none" stroke="#000" stroke-width="1.4"/>
<rect x="189.92" y="1213.4" width="171.27" height="113.6" fill="none" stroke="#000" stroke-width="1.4"/>
<rect x="366.89" y="1213.4" width="182.69" height="113.6" fill="none" stroke="#000" stroke-width="1.4"/>
<rect x="555.27" y="1213.4" width="68.51" height="113.6" fill="none" stroke="#000" stroke-width="1.4"/>
<text x="629.6" y="1232.56" font-size="22" font-style="italic">CXCL1</text>
<text x="629.6" y="1255.28" font-size="22" font-style="italic">CXCL2</text>
<text x="629.6" y="1278" font-size="22" font-style="italic">CXCL3</text>
<text x="629.6" y="1300.72" font-size="22" font-style="italic">IL6</text>
<text x="629.6" y="1323.44" font-size="22" font-style="italic">PTGS2</text>
<text x="755.8" y="284.7" font-size="19.25" font-weight="700">IM151</text>
<rect x="756.7" y="296.9" width="20" height="19.6" fill="#D14041"/>
<text x="782.6" y="313" font-size="19.6">Cluster1: Angio/Stroma</text>
<rect x="756.7" y="318.05" width="20" height="19.6" fill="#9568A9"/>
<text x="782.6" y="334.15" font-size="19.6">Cluster2: Angiogenic</text>
<rect x="756.7" y="339.2" width="20" height="19.6" fill="#5BBD6B"/>
<text x="782.6" y="355.3" font-size="19.6">Cluster4: T−eff/Proliferative</text>
<rect x="756.7" y="360.35" width="20" height="19.6" fill="#DF8D3A"/>
<text x="782.6" y="376.45" font-size="19.6">Cluster5: Proliferative</text>
<text x="755.8" y="412.4" font-size="19.25" font-weight="700">Descartes</text>
<rect x="756.7" y="424.6" width="20" height="19.6" fill="#4F83B7"/>
<text x="782.6" y="440.7" font-size="19.6">ccrcc1</text>
<rect x="756.7" y="445.75" width="20" height="19.6" fill="#E5B047"/>
<text x="782.6" y="461.85" font-size="19.6">ccrcc2</text>
<rect x="756.7" y="466.9" width="20" height="19.6" fill="#4D4D4D"/>
<text x="782.6" y="483" font-size="19.6">ccrcc3</text>
<rect x="756.7" y="488.05" width="20" height="19.6" fill="#2E4988"/>
<text x="782.6" y="504.15" font-size="19.6">ccrcc4</text>
<text x="755.8" y="540.5" font-size="19.25" font-weight="700">ORR</text>
<rect x="756.7" y="552.7" width="20" height="19.6" fill="#DC4A3A"/>
<text x="782.6" y="568.8" font-size="19.6">CR</text>
<rect x="756.7" y="573.85" width="20" height="19.6" fill="#E2917C"/>
<text x="782.6" y="589.95" font-size="19.6">PR</text>
<rect x="756.7" y="595" width="20" height="19.6" fill="#63BFCB"/>
<text x="782.6" y="611.1" font-size="19.6">SD</text>
<rect x="756.7" y="616.15" width="20" height="19.6" fill="#4CA687"/>
<text x="782.6" y="632.25" font-size="19.6">PD</text>
<text x="755.8" y="668.7" font-size="19.25" font-weight="700">IMDC</text>
<rect x="756.7" y="680.9" width="20" height="19.6" fill="#4CA687"/>
<text x="782.6" y="697" font-size="19.6">Favorable</text>
<rect x="756.7" y="702.05" width="20" height="19.6" fill="#E2917C"/>
<text x="782.6" y="718.15" font-size="19.6">Intermediate/Poor</text>
<text x="755.8" y="753.8" font-size="19.25" font-weight="700">Sarcomatoid</text>
<rect x="756.7" y="766" width="20" height="19.6" fill="#9AD4BF"/>
<text x="782.6" y="782.1" font-size="19.6">Absence</text>
<rect x="756.7" y="787.15" width="20" height="19.6" fill="#415689"/>
<text x="782.6" y="803.25" font-size="19.6">Presence</text>
<text x="755.8" y="839" font-size="19.25" font-weight="700">Age</text>
<rect x="756.7" y="851.2" width="20" height="19.6" fill="#AD9C82"/>
<text x="782.6" y="867.3" font-size="19.6">≤60</text>
<rect x="756.7" y="872.35" width="20" height="19.6" fill="#7B6049"/>
<text x="782.6" y="888.45" font-size="19.6">&gt;60</text>
<text x="755.8" y="924" font-size="19.25" font-weight="700">Sex</text>
<rect x="756.7" y="936.2" width="20" height="19.6" fill="#DC4A3A"/>
<text x="782.6" y="952.3" font-size="19.6">Female</text>
<rect x="756.7" y="957.35" width="20" height="19.6" fill="#63BFCB"/>
<text x="782.6" y="973.45" font-size="19.6">Male</text>
<text x="757.3" y="1010" font-size="19.25" font-weight="700">Category</text>
<rect x="758.2" y="1022.2" width="20" height="19.6" fill="#DC4A3A"/>
<text x="783.6" y="1038.3" font-size="19.6">Stroma</text>
<rect x="758.2" y="1043.35" width="20" height="19.6" fill="#63BFCB"/>
<text x="783.6" y="1059.45" font-size="19.6">Angiogenesis</text>
<rect x="758.2" y="1064.5" width="20" height="19.6" fill="#4CA687"/>
<text x="783.6" y="1080.6" font-size="19.6">T−effector</text>
<rect x="758.2" y="1085.65" width="20" height="19.6" fill="#415689"/>
<text x="783.6" y="1101.75" font-size="19.6">Cell cycle</text>
<rect x="758.2" y="1106.8" width="20" height="19.6" fill="#E2917C"/>
<text x="783.6" y="1122.9" font-size="19.6">FAO/AMPK</text>
<rect x="758.2" y="1127.95" width="20" height="19.6" fill="#8491B4"/>
<text x="783.6" y="1144.05" font-size="19.6">FAS/Pentose phosphate</text>
<rect x="758.2" y="1149.1" width="20" height="19.6" fill="#9AD4BF"/>
<text x="783.6" y="1165.2" font-size="19.6">Myeloid inflammation</text>
<text x="757.6" y="1201.6" font-size="19.5" font-weight="700">Expr. (z-scored)</text>
<defs><linearGradient id="cb" x1="0" y1="0" x2="0" y2="1"><stop offset="0" stop-color="#E4D040"/><stop offset="0.035" stop-color="#E4D040"/><stop offset="0.267" stop-color="#887A32"/><stop offset="0.5" stop-color="#0A0A0C"/><stop offset="0.733" stop-color="#242762"/><stop offset="0.965" stop-color="#3A3F9B"/><stop offset="1" stop-color="#3A3F9B"/></linearGradient></defs>
<rect x="756.6" y="1212" width="22.9" height="112.8" fill="url(#cb)"/>
<line x1="756.6" y1="1215.9" x2="761.6" y2="1215.9" stroke="#fff" stroke-width="1"/>
<line x1="774.5" y1="1215.9" x2="779.5" y2="1215.9" stroke="#fff" stroke-width="1"/>
<text x="784.3" y="1222.6" font-size="19.4">2</text>
<line x1="756.6" y1="1242.02" x2="761.6" y2="1242.02" stroke="#fff" stroke-width="1"/>
<line x1="774.5" y1="1242.02" x2="779.5" y2="1242.02" stroke="#fff" stroke-width="1"/>
<text x="784.3" y="1248.72" font-size="19.4">1</text>
<line x1="756.6" y1="1268.14" x2="761.6" y2="1268.14" stroke="#fff" stroke-width="1"/>
<line x1="774.5" y1="1268.14" x2="779.5" y2="1268.14" stroke="#fff" stroke-width="1"/>
<text x="784.3" y="1274.84" font-size="19.4">0</text>
<line x1="756.6" y1="1294.26" x2="761.6" y2="1294.26" stroke="#fff" stroke-width="1"/>
<line x1="774.5" y1="1294.26" x2="779.5" y2="1294.26" stroke="#fff" stroke-width="1"/>
<text x="784.3" y="1300.96" font-size="19.4">−1</text>
<line x1="756.6" y1="1320.38" x2="761.6" y2="1320.38" stroke="#fff" stroke-width="1"/>
<line x1="774.5" y1="1320.38" x2="779.5" y2="1320.38" stroke="#fff" stroke-width="1"/>
<text x="784.3" y="1327.08" font-size="19.4">−2</text>
</g>
<g id="panelB">
<text x="1036.2" y="27.5" font-size="31.2" font-weight="700">B</text>
<path d="M1151.2 43.8 L1151.2 43.8 L1151.2 54.5 L1154.4 54.5 L1154.4 65.3 L1162.8 65.3 L1162.8 76 L1174.2 76 L1174.2 86.8 L1179 86.8 L1179 97.5 L1195.9 97.5 L1195.9 108.2 L1240.4 108.2 L1240.4 119 L1245.2 119 L1245.2 129.7 L1260.2 129.7 L1260.2 140.5 L1301.6 140.5 L1301.6 151.2 L1349.5 151.2 L1349.5 162 L1385.5 162 L1385.5 176.7 L1463.9 176.7" fill="none" stroke="#5BB9C6" stroke-width="2.2"/>
<path d="M1136 43.8 L1136 43.8 L1136 57 L1139.1 57 L1139.1 70.2 L1151.2 70.2 L1151.2 83.3 L1153 83.3 L1153 109.7 L1154.2 109.7 L1154.2 136.1 L1159.3 136.1 L1159.3 149.3 L1235.1 149.3 L1235.1 162.4 L1245.2 162.4 L1245.2 175.6 L1280.1 175.6 L1280.1 188.8 L1288.3 188.8 L1288.3 202 L1300.1 202 L1300.1 215.2 L1319.8 215.2 L1319.8 228.3 L1330 228.3 L1330 241.6 L1344.8 241.6 L1344.8 254.8 L1380.2 254.8 L1380.2 270.6 L1414.1 270.6" fill="none" stroke="#DC4A3A" stroke-width="2.2"/>
<line x1="1371" y1="156.2" x2="1371" y2="167.8" stroke="#5BB9C6" stroke-width="1.3"/>
<line x1="1379.6" y1="156.2" x2="1379.6" y2="167.8" stroke="#5BB9C6" stroke-width="1.3"/>
<line x1="1384.4" y1="156.2" x2="1384.4" y2="167.8" stroke="#5BB9C6" stroke-width="1.3"/>
<line x1="1386.2" y1="170.9" x2="1386.2" y2="182.5" stroke="#5BB9C6" stroke-width="1.3"/>
<line x1="1387.4" y1="170.9" x2="1387.4" y2="182.5" stroke="#5BB9C6" stroke-width="1.3"/>
<line x1="1388.8" y1="170.9" x2="1388.8" y2="182.5" stroke="#5BB9C6" stroke-width="1.3"/>
<line x1="1394.4" y1="170.9" x2="1394.4" y2="182.5" stroke="#5BB9C6" stroke-width="1.3"/>
<line x1="1412.6" y1="170.9" x2="1412.6" y2="182.5" stroke="#5BB9C6" stroke-width="1.3"/>
<line x1="1432.7" y1="170.9" x2="1432.7" y2="182.5" stroke="#5BB9C6" stroke-width="1.3"/>
<line x1="1439" y1="170.9" x2="1439" y2="182.5" stroke="#5BB9C6" stroke-width="1.3"/>
<line x1="1379" y1="249" x2="1379" y2="260.6" stroke="#DC4A3A" stroke-width="1.3"/>
<line x1="1382.5" y1="264.8" x2="1382.5" y2="276.4" stroke="#DC4A3A" stroke-width="1.3"/>
<line x1="1384.4" y1="264.8" x2="1384.4" y2="276.4" stroke="#DC4A3A" stroke-width="1.3"/>
<line x1="1391.1" y1="264.8" x2="1391.1" y2="276.4" stroke="#DC4A3A" stroke-width="1.3"/>
<line x1="1414.1" y1="264.8" x2="1414.1" y2="276.4" stroke="#DC4A3A" stroke-width="1.3"/>
<path d="M1136 43.8 L1154.2 43.8 L1154.2 79.6 L1159.3 79.6 L1159.3 91.1 L1235.1 91.1 L1235.1 102.8 L1245.2 102.8 L1245.2 115.4 L1280.1 115.4 L1280.1 128.4 L1288.3 128.4 L1288.3 140.2 L1300.1 140.2 L1300.1 155.9 L1319.8 155.9 L1319.8 170.3 L1330 170.3 L1330 185.2 L1344.8 185.2 L1344.8 201 L1381 201 L1381 219.6 L1414.1 219.6 L1414.1 322.2 L1381 322.2 L1381 308.7 L1344.8 308.7 L1344.8 298.2 L1330 298.2 L1330 286.7 L1319.8 286.7 L1319.8 274.8 L1300.1 274.8 L1300.1 262.5 L1288.3 262.5 L1288.3 249.4 L1280.1 249.4 L1280.1 236.2 L1245.2 236.2 L1245.2 221.7 L1235.1 221.7 L1235.1 207.5 L1159.3 207.5 L1159.3 192.5 L1154.2 192.5 L1154.2 160.1 L1153 160.1 L1153 124.2 L1151.2 124.2 L1151.2 104.9 L1139.1 104.9 L1139.1 82.1 L1136 82.1 Z" fill="rgb(188,88,42)" fill-opacity="0.30" shape-rendering="crispEdges"/>
<path d="M1151.2 43.8 L1174.2 43.8 L1174.2 47.4 L1179 47.4 L1179 55 L1195.9 55 L1195.9 63 L1240.4 63 L1240.4 71.1 L1245.2 71.1 L1245.2 79.9 L1260.2 79.9 L1260.2 89.1 L1301.6 89.1 L1301.6 98.6 L1349.5 98.6 L1349.5 108.2 L1385.8 108.2 L1385.8 120.2 L1463.9 120.2 L1463.9 232.4 L1385.8 232.4 L1385.8 215.8 L1349.5 215.8 L1349.5 204.2 L1301.6 204.2 L1301.6 192.1 L1260.2 192.1 L1260.2 179.7 L1245.2 179.7 L1245.2 166.8 L1240.4 166.8 L1240.4 153.7 L1195.9 153.7 L1195.9 139.8 L1179 139.8 L1179 125.6 L1174.2 125.6 L1174.2 110.1 L1162.8 110.1 L1162.8 93.8 L1154.4 93.8 L1154.4 75.6 L1151.2 75.6 Z" fill="rgb(99,191,203)" fill-opacity="0.25" shape-rendering="crispEdges"/>
<rect x="1116.4" y="43.6" width="348.5" height="290.7" fill="none" stroke="#000" stroke-width="1.9"/>
<line x1="1109.9" y1="43.6" x2="1116.4" y2="43.6" stroke="#000" stroke-width="1.4"/>
<text x="1108.6" y="50.9" font-size="22.2" text-anchor="end">100</text>
<line x1="1109.9" y1="116.28" x2="1116.4" y2="116.28" stroke="#000" stroke-width="1.4"/>
<text x="1108.6" y="123.58" font-size="22.2" text-anchor="end">75</text>
<line x1="1109.9" y1="188.95" x2="1116.4" y2="188.95" stroke="#000" stroke-width="1.4"/>
<text x="1108.6" y="196.25" font-size="22.2" text-anchor="end">50</text>
<line x1="1109.9" y1="261.62" x2="1116.4" y2="261.62" stroke="#000" stroke-width="1.4"/>
<text x="1108.6" y="268.93" font-size="22.2" text-anchor="end">25</text>
<line x1="1109.9" y1="334.3" x2="1116.4" y2="334.3" stroke="#000" stroke-width="1.4"/>
<text x="1108.6" y="341.6" font-size="22.2" text-anchor="end">0</text>
<line x1="1116.4" y1="334.3" x2="1116.4" y2="340.3" stroke="#000" stroke-width="1.4"/>
<text x="1116.4" y="358.2" font-size="22" text-anchor="middle">0</text>
<line x1="1166.04" y1="334.3" x2="1166.04" y2="340.3" stroke="#000" stroke-width="1.4"/>
<text x="1166.04" y="358.2" font-size="22" text-anchor="middle">3</text>
<line x1="1215.68" y1="334.3" x2="1215.68" y2="340.3" stroke="#000" stroke-width="1.4"/>
<text x="1215.68" y="358.2" font-size="22" text-anchor="middle">6</text>
<line x1="1265.32" y1="334.3" x2="1265.32" y2="340.3" stroke="#000" stroke-width="1.4"/>
<text x="1265.32" y="358.2" font-size="22" text-anchor="middle">9</text>
<line x1="1314.96" y1="334.3" x2="1314.96" y2="340.3" stroke="#000" stroke-width="1.4"/>
<text x="1314.96" y="358.2" font-size="22" text-anchor="middle">12</text>
<line x1="1364.6" y1="334.3" x2="1364.6" y2="340.3" stroke="#000" stroke-width="1.4"/>
<text x="1364.6" y="358.2" font-size="22" text-anchor="middle">15</text>
<line x1="1414.24" y1="334.3" x2="1414.24" y2="340.3" stroke="#000" stroke-width="1.4"/>
<text x="1414.24" y="358.2" font-size="22" text-anchor="middle">18</text>
<line x1="1463.88" y1="334.3" x2="1463.88" y2="340.3" stroke="#000" stroke-width="1.4"/>
<text x="1463.88" y="358.2" font-size="22" text-anchor="middle">21</text>
<text x="1289.5" y="391.9" font-size="22.17" text-anchor="middle">Months since treatment</text>
<text x="1061.3" y="198" font-size="22.1" text-anchor="middle" transform="rotate(-90 1061.3 198)">Progression−free survival, %</text>
<text x="1121.6" y="327.3" font-size="22.1">log−rank test, <tspan font-style="italic">p</tspan> = 0.014</text>
<line x1="1329.5" y1="58.5" x2="1353.5" y2="58.5" stroke="#5BB9C6" stroke-width="1.5"/>
<line x1="1341.5" y1="52.5" x2="1341.5" y2="64.5" stroke="#5BB9C6" stroke-width="1.3"/>
<line x1="1329.5" y1="85.3" x2="1353.5" y2="85.3" stroke="#DC4A3A" stroke-width="1.5"/>
<line x1="1341.5" y1="79.3" x2="1341.5" y2="91.3" stroke="#DC4A3A" stroke-width="1.3"/>
<text x="1358.3" y="66.6" font-size="22.27">Cluster1/2</text>
<text x="1358.3" y="95" font-size="22.27">Cluster4/5</text>
<text x="1111" y="433.7" font-size="22.15">No. patients still at risk</text>
<rect x="1071.2" y="469.2" width="17.6" height="7.6" fill="#DC4A3A"/>
<rect x="1071.2" y="502.6" width="17.6" height="7.6" fill="#5BB9C6"/>
<text x="1119.6" y="477.4" font-size="22" text-anchor="middle" fill="#DC4A3A">22</text>
<text x="1119.6" y="511.2" font-size="22" text-anchor="middle" fill="#5BB9C6">27</text>
<text x="1169" y="477.4" font-size="22" text-anchor="middle" fill="#DC4A3A">14</text>
<text x="1169" y="511.2" font-size="22" text-anchor="middle" fill="#5BB9C6">24</text>
<text x="1218.4" y="477.4" font-size="22" text-anchor="middle" fill="#DC4A3A">14</text>
<text x="1218.4" y="511.2" font-size="22" text-anchor="middle" fill="#5BB9C6">21</text>
<text x="1267.8" y="477.4" font-size="22" text-anchor="middle" fill="#DC4A3A">12</text>
<text x="1267.8" y="511.2" font-size="22" text-anchor="middle" fill="#5BB9C6">18</text>
<text x="1317.2" y="477.4" font-size="22" text-anchor="middle" fill="#DC4A3A">9</text>
<text x="1317.2" y="511.2" font-size="22" text-anchor="middle" fill="#5BB9C6">17</text>
<text x="1366.6" y="477.4" font-size="22" text-anchor="middle" fill="#DC4A3A">6</text>
<text x="1366.6" y="511.2" font-size="22" text-anchor="middle" fill="#5BB9C6">16</text>
<text x="1416" y="477.4" font-size="22" text-anchor="middle" fill="#DC4A3A">1</text>
<text x="1416" y="511.2" font-size="22" text-anchor="middle" fill="#5BB9C6">3</text>
<text x="1465.4" y="477.4" font-size="22" text-anchor="middle" fill="#DC4A3A">0</text>
<text x="1465.4" y="511.2" font-size="22" text-anchor="middle" fill="#5BB9C6">1</text>
</g>
<g id="panelC">
<text x="1489.8" y="27.1" font-size="31.2" font-weight="700">C</text>
<line x1="1502" y1="85.8" x2="1998" y2="85.8" stroke="#000" stroke-width="1.6"/>
<line x1="1502" y1="113.6" x2="1998" y2="113.6" stroke="#555" stroke-width="1.3"/>
<text x="1503.2" y="108" font-size="21.9">Variable</text>
<text x="1664.4" y="108" font-size="21.9">HR (95% CI)</text>
<text x="1829.5" y="108" font-size="21.9" font-style="italic">p</text>
<text x="1503" y="133.2" font-size="19.7" font-style="italic">Univariate Cox Regression</text>
<text x="1503" y="242.8" font-size="19.7" font-style="italic">Multivariate Cox Regression</text>
<text x="1507.6" y="160.5" font-size="19.75" fill="#E8211D">Cluster1/2</text>
<text x="1664.4" y="160.5" font-size="19.75" fill="#E8211D">0.40 (0.19−0.85)</text>
<text x="1829.5" y="160.5" font-size="19.75" fill="#E8211D">.017</text>
<line x1="1877.8" y1="154.7" x2="1939.7" y2="154.7" stroke="#9BBBC3" stroke-width="1.1"/>
<path d="M1900.9 154.7 L1908.5 147.1 L1916.1 154.7 L1908.5 162.3 Z" fill="#3A5863"/>
<text x="1507.6" y="187.8" font-size="19.75">IMDC good</text>
<text x="1664.4" y="187.8" font-size="19.75">1.32 (0.63−2.73)</text>
<text x="1829.5" y="187.8" font-size="19.75">.461</text>
<line x1="1927.2" y1="182.1" x2="1987.5" y2="182.1" stroke="#9BBBC3" stroke-width="1.1"/>
<path d="M1952.6 182.1 L1957.1 177.6 L1961.6 182.1 L1957.1 186.6 Z" fill="#3A5863"/>
<text x="1507.6" y="215.5" font-size="19.75">No sarcomatoid</text>
<text x="1664.4" y="215.5" font-size="19.75">0.49 (0.21−1.15)</text>
<text x="1829.5" y="215.5" font-size="19.75">.099</text>
<line x1="1881.2" y1="209.5" x2="1951.9" y2="209.5" stroke="#9BBBC3" stroke-width="1.1"/>
<path d="M1911.8 209.5 L1916.3 205 L1920.8 209.5 L1916.3 214 Z" fill="#3A5863"/>
<text x="1507.6" y="270.6" font-size="19.75" fill="#E8211D">Cluster1/2</text>
<text x="1664.4" y="270.6" font-size="19.75" fill="#E8211D">0.40 (0.18−0.89)</text>
<text x="1829.5" y="270.6" font-size="19.75" fill="#E8211D">.025</text>
<line x1="1874.7" y1="264.6" x2="1941.5" y2="264.6" stroke="#9BBBC3" stroke-width="1.1"/>
<path d="M1900.4 264.6 L1908 257 L1915.6 264.6 L1908 272.2 Z" fill="#3A5863"/>
<text x="1507.6" y="297.9" font-size="19.75">IMDC good</text>
<text x="1664.4" y="297.9" font-size="19.75">1.64 (0.78−3.48)</text>
<text x="1829.5" y="297.9" font-size="19.75">.195</text>
<line x1="1935" y1="291.9" x2="2000" y2="291.9" stroke="#9BBBC3" stroke-width="1.1"/>
<path d="M1961.7 291.9 L1966.2 287.4 L1970.7 291.9 L1966.2 296.4 Z" fill="#3A5863"/>
<text x="1507.6" y="325.3" font-size="19.75">No sarcomatoid</text>
<text x="1664.4" y="325.3" font-size="19.75">0.70 (0.28−1.72)</text>
<text x="1829.5" y="325.3" font-size="19.75">.433</text>
<line x1="1893.9" y1="319.2" x2="1968.8" y2="319.2" stroke="#9BBBC3" stroke-width="1.1"/>
<path d="M1926.6 319.2 L1931.1 314.7 L1935.6 319.2 L1931.1 323.7 Z" fill="#3A5863"/>
<line x1="1946.2" y1="141.2" x2="1946.2" y2="333" stroke="#222" stroke-width="1.3"/>
<line x1="1502" y1="333" x2="1998" y2="333" stroke="#000" stroke-width="1.5"/>
<line x1="1889.5" y1="333" x2="1889.5" y2="342" stroke="#222" stroke-width="1.2"/>
<text x="1888" y="363.8" font-size="19.75" text-anchor="middle">.25</text>
<line x1="1917.6" y1="333" x2="1917.6" y2="342" stroke="#222" stroke-width="1.2"/>
<text x="1916.1" y="363.8" font-size="19.75" text-anchor="middle">.5</text>
<line x1="1946.2" y1="333" x2="1946.2" y2="342" stroke="#222" stroke-width="1.2"/>
<text x="1946.2" y="363.8" font-size="19.75" text-anchor="middle">1</text>
<line x1="1974.5" y1="333" x2="1974.5" y2="342" stroke="#222" stroke-width="1.2"/>
<text x="1974.5" y="363.8" font-size="19.75" text-anchor="middle">2</text>
<text x="1884" y="387.7" font-size="19.75">Hazard Ratio</text>
</g>
<g id="panelD">
<text x="1036.7" y="571" font-size="31.2" font-weight="700">D</text>
<rect x="1160.8" y="564.5" width="26" height="25.6" fill="#DC4A3A"/>
<text x="1191.4" y="585.3" font-size="23">CR</text>
<rect x="1226.9" y="564.5" width="26" height="25.6" fill="#E2917C"/>
<text x="1257.5" y="585.3" font-size="23">PR</text>
<rect x="1293" y="564.5" width="26" height="25.6" fill="#63BFCB"/>
<text x="1323.6" y="585.3" font-size="23">SD</text>
<rect x="1359.1" y="564.5" width="26" height="25.6" fill="#4CA687"/>
<text x="1389.7" y="585.3" font-size="23">PD</text>
<g shape-rendering="crispEdges">
<rect x="1143.4" y="978.67" width="30.5" height="74.03" fill="#DC4A3A"/>
<rect x="1143.4" y="757.47" width="30.5" height="221.5" fill="#E2917C"/>
<rect x="1143.4" y="683.73" width="30.5" height="74.03" fill="#63BFCB"/>
<rect x="1143.4" y="610" width="30.5" height="74.03" fill="#4CA687"/>
<rect x="1176.7" y="904.93" width="32.3" height="147.77" fill="#DC4A3A"/>
<rect x="1176.7" y="727.97" width="32.3" height="177.26" fill="#E2917C"/>
<rect x="1176.7" y="668.99" width="32.3" height="59.29" fill="#63BFCB"/>
<rect x="1176.7" y="610" width="32.3" height="59.29" fill="#4CA687"/>
<rect x="1211.6" y="858.85" width="32.4" height="193.85" fill="#E2917C"/>
<rect x="1211.6" y="720.6" width="32.4" height="138.55" fill="#63BFCB"/>
<rect x="1211.6" y="610" width="32.4" height="110.9" fill="#4CA687"/>
<rect x="1246.7" y="904.93" width="31.8" height="147.77" fill="#E2917C"/>
<rect x="1246.7" y="610" width="31.8" height="295.23" fill="#4CA687"/>
<rect x="1302.2" y="937.7" width="63.4" height="115" fill="#DC4A3A"/>
<rect x="1302.2" y="741.08" width="63.4" height="196.92" fill="#E2917C"/>
<rect x="1302.2" y="675.54" width="63.4" height="65.84" fill="#63BFCB"/>
<rect x="1302.2" y="610" width="63.4" height="65.84" fill="#4CA687"/>
<rect x="1373" y="871.42" width="63.4" height="181.28" fill="#E2917C"/>
<rect x="1373" y="770.87" width="63.4" height="100.85" fill="#63BFCB"/>
<rect x="1373" y="610" width="63.4" height="161.17" fill="#4CA687"/>
</g>
<rect x="1142.5" y="610" width="136.8" height="442.4" fill="none" stroke="#000" stroke-width="2"/>
<rect x="1301.3" y="610" width="135.8" height="442.4" fill="none" stroke="#000" stroke-width="2"/>
<rect x="1300.9" y="738.4" width="65.4" height="313.2" fill="none" stroke="#E3218C" stroke-width="2.3"/>
<rect x="1372.3" y="871.5" width="65.4" height="180.1" fill="none" stroke="#E3218C" stroke-width="2.3"/>
<rect x="1474.6" y="960" width="23.8" height="91" fill="none" stroke="#E3218C" stroke-width="2.2"/>
<text x="1334" y="732" font-size="22" font-weight="700" text-anchor="middle" fill="#E8211D">70</text>
<text x="1404.6" y="864.6" font-size="22" font-weight="700" text-anchor="middle" fill="#E8211D">41</text>
<text x="1464.5" y="1042.6" font-size="21.7" transform="rotate(-90 1464.5 1042.6)">CR+PR</text>
<line x1="1134" y1="610" x2="1142.5" y2="610" stroke="#333" stroke-width="1.2"/>
<text x="1129.8" y="618.6" font-size="22.3" text-anchor="end">100</text>
<line x1="1134" y1="720.6" x2="1142.5" y2="720.6" stroke="#333" stroke-width="1.2"/>
<text x="1129.8" y="729.2" font-size="22.3" text-anchor="end">75</text>
<line x1="1134" y1="831.2" x2="1142.5" y2="831.2" stroke="#333" stroke-width="1.2"/>
<text x="1129.8" y="839.8" font-size="22.3" text-anchor="end">50</text>
<line x1="1134" y1="941.8" x2="1142.5" y2="941.8" stroke="#333" stroke-width="1.2"/>
<text x="1129.8" y="950.4" font-size="22.3" text-anchor="end">25</text>
<line x1="1134" y1="1052.4" x2="1142.5" y2="1052.4" stroke="#333" stroke-width="1.2"/>
<text x="1129.8" y="1061" font-size="22.3" text-anchor="end">0</text>
<line x1="1158.6" y1="1052.4" x2="1158.6" y2="1058.9" stroke="#333" stroke-width="1.2"/>
<text x="1166.1" y="1065.2" font-size="21.9" text-anchor="end" transform="rotate(-90 1166.1 1065.2)">Cluster1</text>
<line x1="1193.3" y1="1052.4" x2="1193.3" y2="1058.9" stroke="#333" stroke-width="1.2"/>
<text x="1200.8" y="1065.2" font-size="21.9" text-anchor="end" transform="rotate(-90 1200.8 1065.2)">Cluster2</text>
<line x1="1228.3" y1="1052.4" x2="1228.3" y2="1058.9" stroke="#333" stroke-width="1.2"/>
<text x="1235.8" y="1065.2" font-size="21.9" text-anchor="end" transform="rotate(-90 1235.8 1065.2)">Cluster4</text>
<line x1="1263" y1="1052.4" x2="1263" y2="1058.9" stroke="#333" stroke-width="1.2"/>
<text x="1270.5" y="1065.2" font-size="21.9" text-anchor="end" transform="rotate(-90 1270.5 1065.2)">Cluster5</text>
<line x1="1333.7" y1="1052.4" x2="1333.7" y2="1058.9" stroke="#333" stroke-width="1.2"/>
<text x="1341.2" y="1065.2" font-size="21.9" text-anchor="end" transform="rotate(-90 1341.2 1065.2)">Cluster1/2</text>
<line x1="1404.6" y1="1052.4" x2="1404.6" y2="1058.9" stroke="#333" stroke-width="1.2"/>
<text x="1412.1" y="1065.2" font-size="21.9" text-anchor="end" transform="rotate(-90 1412.1 1065.2)">Cluster4/5</text>
<text x="1081.6" y="841.5" font-size="22" text-anchor="middle" transform="rotate(-90 1081.6 841.5)">Fraction, %</text>
<rect x="1046" y="1199.8" width="937.6" height="119.7" fill="none" stroke="#000" stroke-width="1.5" stroke-dasharray="6.2 5.75"/>
<text x="1069.8" y="1235.1" font-size="22.25">BIONIKK: ipilimumab + nivolumab (IO/IO)</text>
<text x="1069.8" y="1269.5" font-size="22.25">KN426: axitinib + pembrolizumab (IO/TKI)</text>
<text x="1069.8" y="1303.4" font-size="22.25">JR101: avelumab + axitinib (IO/TKI)</text>
<text x="1532.6" y="1235.1" font-size="22.25">CM214: ipilimumab + nivolumab (IO/IO)</text>
<text x="1532.6" y="1269.5" font-size="22.25">CM9ER: nivolumab + cabozantinib (IO/TKI)</text>
</g>
<g id="panelE">
<text x="1492.6" y="571.2" font-size="31.2" font-weight="700">E</text>
<g shape-rendering="crispEdges">
<rect x="1623" y="704.74" width="26" height="222.46" fill="#9AD4BF"/>
<rect x="1654.4" y="733.34" width="26" height="193.86" fill="#9AD4BF"/>
<rect x="1685.8" y="736.52" width="26" height="190.68" fill="#9AD4BF"/>
<rect x="1748.2" y="796.9" width="26" height="130.3" fill="#E2917C"/>
<rect x="1779.7" y="714.27" width="26" height="212.93" fill="#E2917C"/>
<rect x="1810.8" y="774.66" width="26" height="152.54" fill="#E2917C"/>
<rect x="1873.4" y="793.72" width="26" height="133.48" fill="#8491B4"/>
<rect x="1904.7" y="742.88" width="26" height="184.32" fill="#8491B4"/>
</g>
<text x="1636" y="697.74" font-size="21.2" text-anchor="middle">70</text>
<text x="1644" y="924.4" font-size="22.4" font-weight="700" transform="rotate(-90 1644 924.4)">BIONIKK</text>
<text x="1667.4" y="726.34" font-size="21.2" text-anchor="middle">61</text>
<text x="1675.4" y="924.4" font-size="22.4" font-weight="700" transform="rotate(-90 1675.4 924.4)">KN426</text>
<text x="1698.8" y="729.52" font-size="21.2" text-anchor="middle">60</text>
<text x="1706.8" y="924.4" font-size="22.4" font-weight="700" transform="rotate(-90 1706.8 924.4)">JR101</text>
<text x="1761.2" y="789.9" font-size="21.2" text-anchor="middle">41</text>
<text x="1769.2" y="924.4" font-size="22.4" font-weight="700" transform="rotate(-90 1769.2 924.4)">BIONIKK</text>
<text x="1792.7" y="707.27" font-size="21.2" text-anchor="middle">67</text>
<text x="1800.7" y="924.4" font-size="22.4" font-weight="700" transform="rotate(-90 1800.7 924.4)">KN426</text>
<text x="1823.8" y="767.66" font-size="21.2" text-anchor="middle">48</text>
<text x="1831.8" y="924.4" font-size="22.4" font-weight="700" transform="rotate(-90 1831.8 924.4)">JR101</text>
<text x="1886.4" y="786.72" font-size="21.2" text-anchor="middle">42</text>
<text x="1894.4" y="924.4" font-size="22.4" font-weight="700" transform="rotate(-90 1894.4 924.4)">CM214</text>
<text x="1917.7" y="735.88" font-size="21.2" text-anchor="middle">56</text>
<text x="1925.7" y="924.4" font-size="22.4" font-weight="700" transform="rotate(-90 1925.7 924.4)">CM9ER</text>
<line x1="1623" y1="742" x2="1931" y2="742" stroke="#000" stroke-width="1.6" stroke-dasharray="7.6 4.6"/>
<line x1="1623" y1="794.1" x2="1931" y2="794.1" stroke="#000" stroke-width="1.6" stroke-dasharray="7.6 4.6"/>
<rect x="1611" y="609.4" width="332.3" height="317.8" fill="none" stroke="#000" stroke-width="1.8"/>
<line x1="1601" y1="609.4" x2="1611" y2="609.4" stroke="#222" stroke-width="1.2"/>
<text x="1599.6" y="619.7" font-size="24" text-anchor="end">100</text>
<line x1="1601" y1="672.96" x2="1611" y2="672.96" stroke="#222" stroke-width="1.2"/>
<text x="1599.6" y="683.26" font-size="24" text-anchor="end">80</text>
<line x1="1601" y1="736.52" x2="1611" y2="736.52" stroke="#222" stroke-width="1.2"/>
<text x="1599.6" y="746.82" font-size="24" text-anchor="end">60</text>
<line x1="1601" y1="800.08" x2="1611" y2="800.08" stroke="#222" stroke-width="1.2"/>
<text x="1599.6" y="810.38" font-size="24" text-anchor="end">40</text>
<line x1="1601" y1="863.64" x2="1611" y2="863.64" stroke="#222" stroke-width="1.2"/>
<text x="1599.6" y="873.94" font-size="24" text-anchor="end">20</text>
<line x1="1601" y1="927.2" x2="1611" y2="927.2" stroke="#222" stroke-width="1.2"/>
<text x="1599.6" y="937.5" font-size="24" text-anchor="end">0</text>
<line x1="1667.1" y1="927.2" x2="1667.1" y2="934.2" stroke="#222" stroke-width="1.3"/>
<line x1="1792.4" y1="927.2" x2="1792.4" y2="934.2" stroke="#222" stroke-width="1.3"/>
<line x1="1901.9" y1="927.2" x2="1901.9" y2="934.2" stroke="#222" stroke-width="1.3"/>
<text x="1675.4" y="944.6" font-size="21.9" text-anchor="end" transform="rotate(-90 1675.4 944.6)">Cluster1/2</text>
<text x="1800.4" y="944.6" font-size="21.9" text-anchor="end" transform="rotate(-90 1800.4 944.6)">Cluster4/5</text>
<text x="1894" y="943.8" font-size="22" text-anchor="end" transform="rotate(-90 1894 943.8)">historical controls</text>
<text x="1921.6" y="943.8" font-size="22" text-anchor="end" transform="rotate(-90 1921.6 943.8)">(unselected)</text>
<text x="1552.8" y="774" font-size="22" text-anchor="middle" transform="rotate(-90 1552.8 774)">Overall response rate, %</text>
</g>
</svg>
</body></html>
